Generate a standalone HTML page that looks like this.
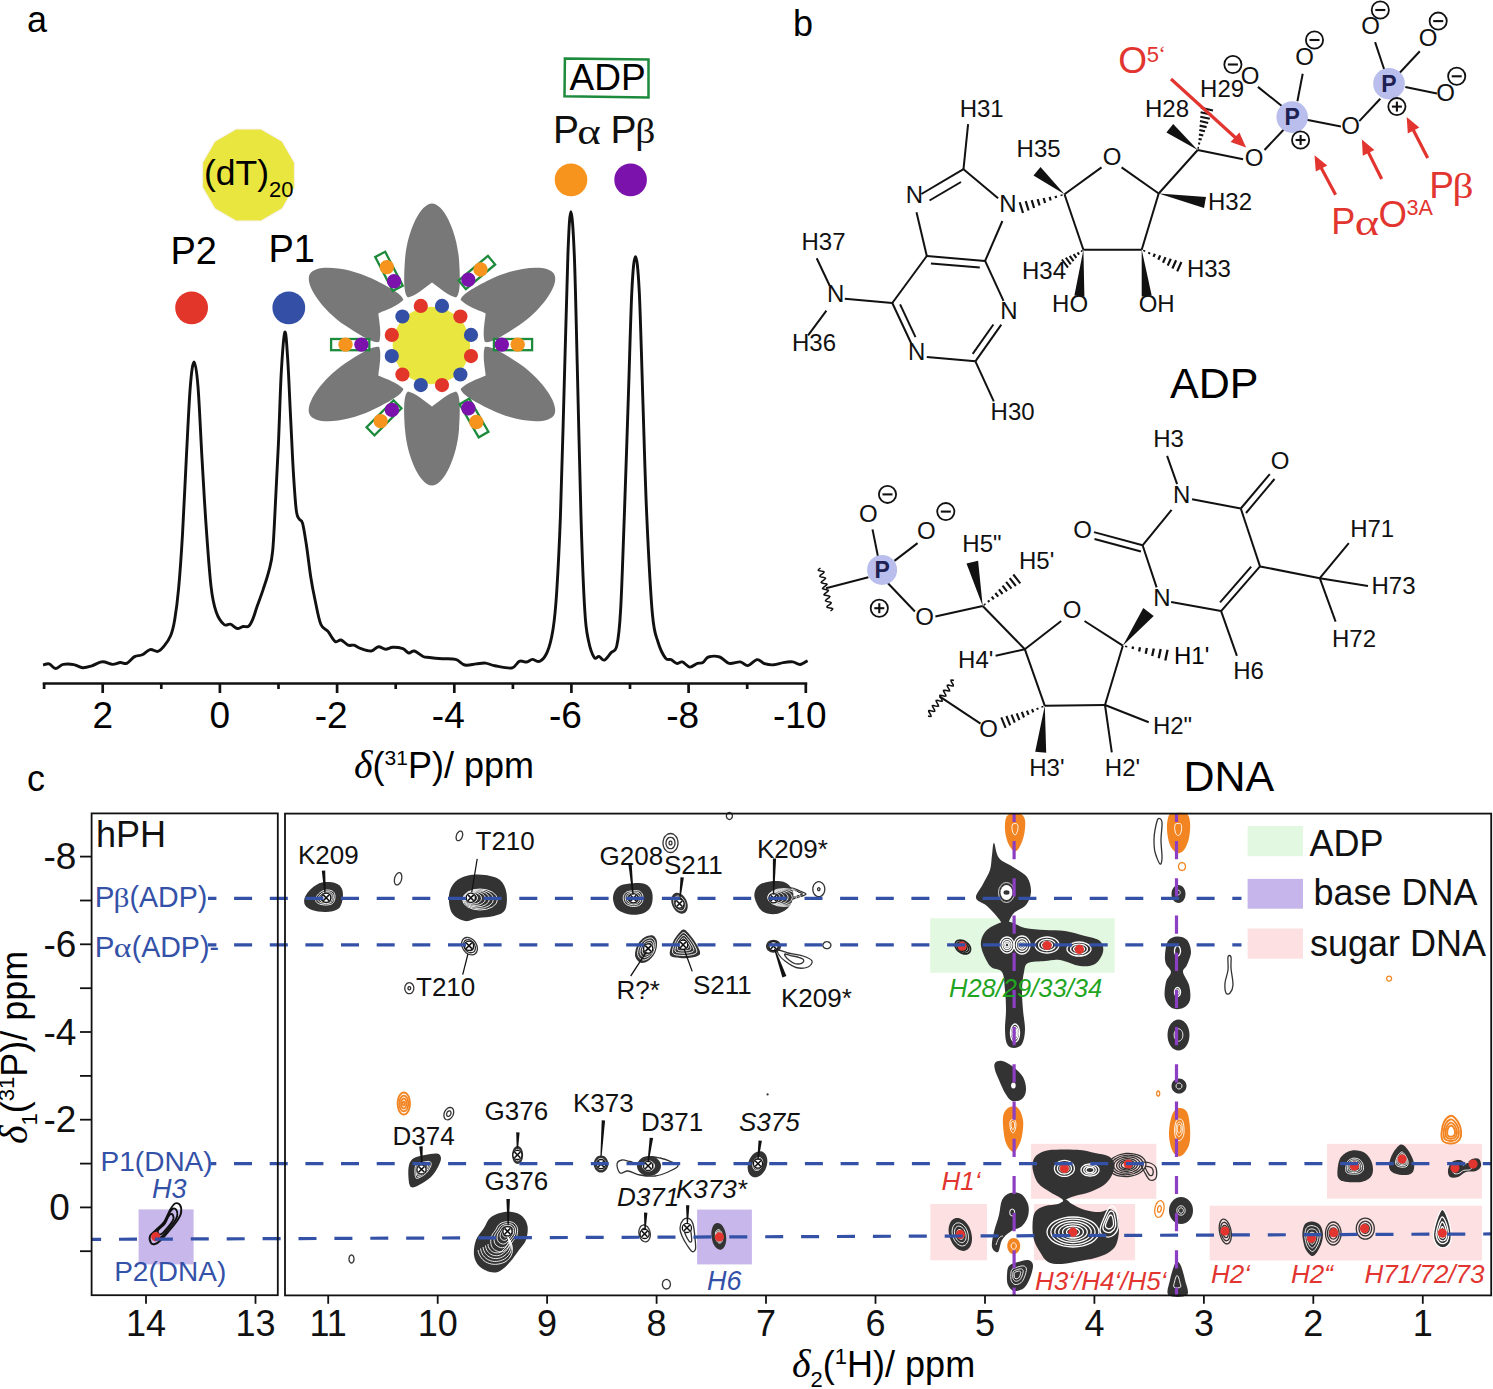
<!DOCTYPE html>
<html><head><meta charset="utf-8"><style>
html,body{margin:0;padding:0;background:#fff;width:1493px;height:1389px;overflow:hidden}
svg{display:block}

</style></head><body>
<svg width="1493" height="1389" viewBox="0 0 1493 1389">
<rect width="1493" height="1389" fill="#fff"/>
<text x="27" y="32" font-family="Liberation Sans" font-size="36">a</text>
<path d="M43.1,665.1 C44.1,664.9 47.0,663.2 49.1,663.8 C51.2,664.4 53.1,668.4 55.5,668.5 C57.9,668.6 60.3,665.0 63.3,664.4 C66.3,663.8 70.5,664.0 73.7,664.6 C76.9,665.2 79.7,667.5 82.7,667.7 C85.7,667.9 88.5,666.9 91.8,665.9 C95.0,664.9 98.8,662.0 102.2,661.8 C105.7,661.5 109.5,664.3 112.5,664.4 C115.5,664.5 117.9,662.7 120.3,662.5 C122.7,662.3 124.4,664.3 126.8,663.3 C129.2,662.3 132.0,658.0 134.6,656.6 C137.2,655.2 139.7,656.0 142.3,654.8 C144.9,653.6 147.5,650.2 150.1,649.6 C152.7,649.0 155.5,652.0 157.9,651.4 C160.3,650.8 162.2,648.4 164.4,645.7 C166.6,643.0 169.1,639.6 170.8,635.3 C172.5,631.0 173.4,627.6 174.7,619.8 C176.0,612.0 177.3,603.0 178.6,588.7 C179.9,574.5 181.2,556.3 182.5,534.3 C183.8,512.3 185.1,481.2 186.4,456.6 C187.7,432.0 189.0,402.4 190.3,386.6 C191.6,370.8 192.8,362.0 194.1,362.0 C195.4,362.0 196.7,370.8 198.0,386.6 C199.3,402.4 200.6,434.2 201.9,456.6 C203.2,479.1 204.3,499.7 205.8,521.3 C207.3,542.9 209.3,571.0 211.0,586.1 C212.7,601.2 214.0,605.6 216.2,612.0 C218.4,618.4 221.6,622.5 224.0,624.5 C226.4,626.5 228.2,623.5 230.4,624.2 C232.6,624.9 235.1,628.1 237.2,628.5 C239.3,628.9 241.1,626.9 243.0,626.5 C244.9,626.1 247.0,627.6 248.7,626.2 C250.4,624.9 251.7,621.9 253.1,618.4 C254.5,614.9 255.7,610.3 257.4,605.5 C259.1,600.7 261.2,595.4 263.1,589.6 C265.0,583.8 267.3,577.4 268.9,570.9 C270.5,564.4 271.6,562.2 272.7,550.7 C273.8,539.2 274.6,519.5 275.5,501.7 C276.4,483.9 277.4,465.7 278.4,444.1 C279.4,422.5 280.2,390.6 281.3,372.0 C282.4,353.4 283.8,334.7 284.8,332.3 C285.9,329.9 286.7,343.8 287.6,357.6 C288.6,371.4 289.5,396.1 290.5,415.3 C291.5,434.5 292.4,457.0 293.4,472.9 C294.4,488.8 295.3,502.7 296.3,510.4 C297.3,518.1 298.1,516.9 299.2,519.0 C300.2,521.1 301.4,519.0 302.6,523.3 C303.8,527.6 305.0,536.1 306.4,545.0 C307.8,553.9 309.3,567.6 310.7,576.7 C312.1,585.8 313.3,591.8 315.0,599.7 C316.7,607.6 318.6,618.9 320.8,624.2 C323.0,629.5 325.6,628.5 328.0,631.4 C330.4,634.3 333.0,640.1 335.2,641.5 C337.4,642.9 338.8,639.4 341.0,640.0 C343.2,640.6 346.1,644.3 348.2,645.2 C350.3,646.1 351.8,644.6 353.9,645.2 C356.0,645.8 358.2,647.7 361.1,648.7 C364.0,649.7 368.3,651.3 371.2,651.0 C374.1,650.7 376.0,647.0 378.4,646.7 C380.8,646.4 383.2,649.2 385.6,649.3 C388.0,649.4 389.9,647.4 392.8,647.3 C395.7,647.2 400.2,647.8 402.9,648.7 C405.5,649.7 406.8,652.6 408.7,653.0 C410.6,653.4 412.0,650.4 414.4,651.0 C416.8,651.6 420.6,655.4 423.1,656.5 C425.6,657.6 426.2,657.1 429.4,657.5 C432.6,657.9 438.1,658.4 442.5,658.7 C446.9,659.0 451.9,658.4 455.6,659.4 C459.3,660.4 461.5,664.2 464.9,665.0 C468.3,665.8 472.8,664.2 476.2,663.9 C479.6,663.6 482.4,662.8 485.5,663.1 C488.6,663.4 490.5,665.0 494.9,665.8 C499.3,666.6 507.7,668.8 511.8,668.0 C515.9,667.2 516.8,662.3 519.3,661.3 C521.8,660.3 524.5,662.3 526.7,662.0 C528.9,661.7 530.2,659.5 532.4,659.4 C534.6,659.3 537.4,662.5 539.9,661.3 C542.4,660.0 545.1,657.2 547.3,651.9 C549.5,646.6 551.4,639.4 553.0,629.4 C554.6,619.4 555.5,610.7 556.7,592.0 C557.9,573.3 559.1,551.3 560.4,517.0 C561.6,482.7 563.0,429.7 564.2,386.0 C565.5,342.3 566.8,283.9 567.9,254.9 C569.0,225.9 569.8,211.8 570.9,211.8 C572.0,211.8 573.2,229.0 574.3,254.9 C575.4,280.8 576.2,323.6 577.3,367.3 C578.4,411.0 579.8,476.4 581.0,517.0 C582.2,557.6 583.5,590.1 584.8,610.7 C586.0,631.3 586.9,632.9 588.5,640.7 C590.1,648.5 592.5,654.9 594.2,657.5 C596.0,660.1 597.3,656.0 599.0,656.4 C600.7,656.8 602.3,660.7 604.3,660.1 C606.3,659.5 608.9,655.1 611.0,652.7 C613.1,650.3 615.2,652.9 616.8,645.8 C618.4,638.7 619.4,631.7 620.6,610.2 C621.9,588.7 623.0,551.0 624.3,516.7 C625.5,482.4 626.9,441.9 628.1,404.5 C629.4,367.1 630.6,316.8 631.8,292.2 C633.0,267.6 634.2,256.7 635.5,256.7 C636.8,256.7 638.0,267.6 639.3,292.2 C640.5,316.8 641.8,367.1 643.0,404.5 C644.2,441.9 645.2,481.8 646.8,516.7 C648.4,551.6 650.5,593.1 652.4,614.0 C654.3,634.9 655.8,634.6 658.0,642.0 C660.2,649.4 663.3,655.2 665.5,658.1 C667.7,661.0 669.2,658.7 671.1,659.6 C673.0,660.5 674.8,663.0 676.7,663.4 C678.6,663.8 680.1,661.3 682.3,661.9 C684.5,662.5 687.3,666.9 689.8,667.1 C692.3,667.4 695.1,664.1 697.3,663.4 C699.5,662.6 701.0,663.7 702.9,662.6 C704.8,661.5 705.7,657.9 708.5,657.0 C711.3,656.1 716.3,655.9 719.7,657.0 C723.1,658.1 725.7,662.6 729.1,663.4 C732.5,664.2 737.2,661.5 740.3,661.9 C743.4,662.3 745.0,666.0 747.8,665.6 C750.6,665.2 754.3,659.9 757.1,659.6 C759.9,659.3 761.8,662.8 764.6,663.7 C767.4,664.6 770.9,665.0 774.0,664.8 C777.1,664.6 780.2,663.1 783.3,662.6 C786.4,662.1 789.9,661.6 792.7,661.9 C795.5,662.2 797.6,664.7 800.1,664.5 C802.6,664.3 806.4,661.3 807.6,660.7" fill="none" stroke="#111" stroke-width="2.9" stroke-linejoin="round"/>
<line x1="42.8" y1="683.5" x2="807.2" y2="683.5" stroke="#111" stroke-width="2.7"/>
<line x1="44.1" y1="683" x2="44.1" y2="689.0" stroke="#111" stroke-width="2.7"/>
<line x1="102.7" y1="683" x2="102.7" y2="693.0" stroke="#111" stroke-width="2.7"/>
<text x="102.7" y="728" font-family="Liberation Sans" font-size="37" text-anchor="middle">2</text>
<line x1="161.3" y1="683" x2="161.3" y2="689.0" stroke="#111" stroke-width="2.7"/>
<line x1="219.9" y1="683" x2="219.9" y2="693.0" stroke="#111" stroke-width="2.7"/>
<text x="219.9" y="728" font-family="Liberation Sans" font-size="37" text-anchor="middle">0</text>
<line x1="278.5" y1="683" x2="278.5" y2="689.0" stroke="#111" stroke-width="2.7"/>
<line x1="337.1" y1="683" x2="337.1" y2="693.0" stroke="#111" stroke-width="2.7"/>
<text x="331.1" y="728" font-family="Liberation Sans" font-size="37" text-anchor="middle">-2</text>
<line x1="395.7" y1="683" x2="395.7" y2="689.0" stroke="#111" stroke-width="2.7"/>
<line x1="454.3" y1="683" x2="454.3" y2="693.0" stroke="#111" stroke-width="2.7"/>
<text x="448.3" y="728" font-family="Liberation Sans" font-size="37" text-anchor="middle">-4</text>
<line x1="512.9" y1="683" x2="512.9" y2="689.0" stroke="#111" stroke-width="2.7"/>
<line x1="571.4" y1="683" x2="571.4" y2="693.0" stroke="#111" stroke-width="2.7"/>
<text x="565.4" y="728" font-family="Liberation Sans" font-size="37" text-anchor="middle">-6</text>
<line x1="630.0" y1="683" x2="630.0" y2="689.0" stroke="#111" stroke-width="2.7"/>
<line x1="688.6" y1="683" x2="688.6" y2="693.0" stroke="#111" stroke-width="2.7"/>
<text x="682.6" y="728" font-family="Liberation Sans" font-size="37" text-anchor="middle">-8</text>
<line x1="747.2" y1="683" x2="747.2" y2="689.0" stroke="#111" stroke-width="2.7"/>
<line x1="805.8" y1="683" x2="805.8" y2="693.0" stroke="#111" stroke-width="2.7"/>
<text x="799.8" y="728" font-family="Liberation Sans" font-size="37" text-anchor="middle">-10</text>
<text x="354" y="777.8" font-size="36" font-family="Liberation Sans"><tspan font-family="Liberation Serif" font-style="italic" font-size="40">δ</tspan>(<tspan font-size="21" dy="-13">31</tspan><tspan dy="13">P)/ ppm</tspan></text>
<text x="170.5" y="264" font-family="Liberation Sans" font-size="38">P2</text>
<text x="268.5" y="261.5" font-family="Liberation Sans" font-size="38">P1</text>
<circle cx="191.6" cy="307.8" r="16.4" fill="#E2362A"/>
<circle cx="288.8" cy="307.8" r="16.4" fill="#3450A6"/>
<polygon points="260.8,129.1 282.1,141.4 294.4,162.7 294.4,187.3 282.1,208.6 260.8,220.9 236.2,220.9 214.9,208.6 202.6,187.3 202.6,162.7 214.9,141.4 236.2,129.1" fill="#EAE640" stroke="#F6EFE6" stroke-width="1"/>
<text x="204" y="184.5" font-family="Liberation Sans" font-size="35.5">(dT)<tspan font-size="22" dy="12">20</tspan></text>
<polygon points="564.9,58.4 648.5,59.6 648.5,97.5 564.5,96.3" fill="none" stroke="#1D8A3C" stroke-width="2.5"/>
<text x="569.5" y="90.3" font-family="Liberation Sans" font-size="37">ADP</text>
<text x="553.10" y="142.80" font-family="Liberation Sans" font-size="39.00" fill="#111" >P</text>
<text transform="translate(577.29,143.64) scale(1.221,1)" font-family="Liberation Serif" font-size="36.76" fill="#111" >α</text>
<text x="610.60" y="142.80" font-family="Liberation Sans" font-size="39.00" fill="#111" >P</text>
<text transform="translate(635.15,143.25) scale(1.117,1)" font-family="Liberation Serif" font-size="35.44" fill="#111" >β</text>
<circle cx="571" cy="179.9" r="16.3" fill="#F7941D"/>
<circle cx="630.6" cy="179.9" r="16.3" fill="#7B12AB"/>
<g transform="translate(432,344.4)">
<path d="M0,-62 C-8,-56 -16,-49 -24,-47 C-29,-50 -28,-70 -27,-85 C-25,-112 -12,-141 0,-141 C12,-141 25,-112 27,-85 C28,-70 29,-50 24,-47 C16,-49 8,-56 0,-62Z" fill="#787878" transform="rotate(0)"/>
<path d="M0,-62 C-8,-56 -16,-49 -24,-47 C-29,-50 -28,-70 -27,-85 C-25,-112 -12,-141 0,-141 C12,-141 25,-112 27,-85 C28,-70 29,-50 24,-47 C16,-49 8,-56 0,-62Z" fill="#787878" transform="rotate(60)"/>
<path d="M0,-62 C-8,-56 -16,-49 -24,-47 C-29,-50 -28,-70 -27,-85 C-25,-112 -12,-141 0,-141 C12,-141 25,-112 27,-85 C28,-70 29,-50 24,-47 C16,-49 8,-56 0,-62Z" fill="#787878" transform="rotate(120)"/>
<path d="M0,-62 C-8,-56 -16,-49 -24,-47 C-29,-50 -28,-70 -27,-85 C-25,-112 -12,-141 0,-141 C12,-141 25,-112 27,-85 C28,-70 29,-50 24,-47 C16,-49 8,-56 0,-62Z" fill="#787878" transform="rotate(180)"/>
<path d="M0,-62 C-8,-56 -16,-49 -24,-47 C-29,-50 -28,-70 -27,-85 C-25,-112 -12,-141 0,-141 C12,-141 25,-112 27,-85 C28,-70 29,-50 24,-47 C16,-49 8,-56 0,-62Z" fill="#787878" transform="rotate(240)"/>
<path d="M0,-62 C-8,-56 -16,-49 -24,-47 C-29,-50 -28,-70 -27,-85 C-25,-112 -12,-141 0,-141 C12,-141 25,-112 27,-85 C28,-70 29,-50 24,-47 C16,-49 8,-56 0,-62Z" fill="#787878" transform="rotate(300)"/>
<circle cx="-0.6" cy="1.1" r="38.8" fill="#EAE640"/>
<circle cx="-11.2" cy="-38.5" r="7.1" fill="#E2362A"/>
<circle cx="10.0" cy="-38.5" r="7.1" fill="#3450A6"/>
<circle cx="28.4" cy="-27.9" r="7.1" fill="#E2362A"/>
<circle cx="39.0" cy="-9.5" r="7.1" fill="#3450A6"/>
<circle cx="39.0" cy="11.7" r="7.1" fill="#E2362A"/>
<circle cx="28.4" cy="30.1" r="7.1" fill="#3450A6"/>
<circle cx="10.0" cy="40.7" r="7.1" fill="#E2362A"/>
<circle cx="-11.2" cy="40.7" r="7.1" fill="#3450A6"/>
<circle cx="-29.6" cy="30.1" r="7.1" fill="#E2362A"/>
<circle cx="-40.2" cy="11.7" r="7.1" fill="#3450A6"/>
<circle cx="-40.2" cy="-9.5" r="7.1" fill="#E2362A"/>
<circle cx="-29.6" cy="-27.9" r="7.1" fill="#3450A6"/>
</g>
<g transform="translate(350.2,344.6) rotate(180)"><rect x="-19.1" y="-5.6" width="38.2" height="11.2" fill="none" stroke="#1D8A3C" stroke-width="2.3"/><circle cx="-11.2" cy="0" r="7.2" fill="#7B12AB"/><circle cx="4.7" cy="0" r="7.2" fill="#F7941D"/></g>
<g transform="translate(513,344.6) rotate(0)"><rect x="-19.1" y="-5.6" width="38.2" height="11.2" fill="none" stroke="#1D8A3C" stroke-width="2.3"/><circle cx="-11.2" cy="0" r="7.2" fill="#7B12AB"/><circle cx="4.7" cy="0" r="7.2" fill="#F7941D"/></g>
<g transform="translate(389,271.3) rotate(-117.4)"><rect x="-19.1" y="-5.6" width="38.2" height="11.2" fill="none" stroke="#1D8A3C" stroke-width="2.3"/><circle cx="-11.2" cy="0" r="7.2" fill="#7B12AB"/><circle cx="4.7" cy="0" r="7.2" fill="#F7941D"/></g>
<g transform="translate(476.9,272.5) rotate(-40)"><rect x="-19.1" y="-5.6" width="38.2" height="11.2" fill="none" stroke="#1D8A3C" stroke-width="2.3"/><circle cx="-11.2" cy="0" r="7.2" fill="#7B12AB"/><circle cx="4.7" cy="0" r="7.2" fill="#F7941D"/></g>
<g transform="translate(384,417.8) rotate(135)"><rect x="-19.1" y="-5.6" width="38.2" height="11.2" fill="none" stroke="#1D8A3C" stroke-width="2.3"/><circle cx="-11.2" cy="0" r="7.2" fill="#7B12AB"/><circle cx="4.7" cy="0" r="7.2" fill="#F7941D"/></g>
<g transform="translate(474,418) rotate(60)"><rect x="-19.1" y="-5.6" width="38.2" height="11.2" fill="none" stroke="#1D8A3C" stroke-width="2.3"/><circle cx="-11.2" cy="0" r="7.2" fill="#7B12AB"/><circle cx="4.7" cy="0" r="7.2" fill="#F7941D"/></g>
<text x="793" y="35.5" font-family="Liberation Sans" font-size="36">b</text>
<line x1="963.5" y1="169.2" x2="968.1" y2="124.2" stroke="#111" stroke-width="2.0"/>
<line x1="921.4" y1="194.0" x2="963.5" y2="169.2" stroke="#111" stroke-width="2.0"/>
<line x1="929.5" y1="200.5" x2="961.0" y2="182.0" stroke="#111" stroke-width="2.0"/>
<line x1="963.5" y1="169.2" x2="998.1" y2="198.3" stroke="#111" stroke-width="2.0"/>
<line x1="1002.4" y1="221.0" x2="985.1" y2="260.9" stroke="#111" stroke-width="2.0"/>
<line x1="985.1" y1="260.9" x2="926.8" y2="256.0" stroke="#111" stroke-width="2.0"/><line x1="979.8" y1="267.5" x2="930.9" y2="263.4" stroke="#111" stroke-width="2.0"/>
<line x1="926.8" y1="256.0" x2="916.5" y2="212.3" stroke="#111" stroke-width="2.0"/>
<line x1="926.8" y1="256.0" x2="892.3" y2="303.0" stroke="#111" stroke-width="2.0"/>
<line x1="892.3" y1="303.0" x2="844.8" y2="298.7" stroke="#111" stroke-width="2.0"/>
<line x1="829.7" y1="285.8" x2="816.7" y2="258.3" stroke="#111" stroke-width="2.0"/>
<line x1="826.4" y1="310.6" x2="808.1" y2="335.4" stroke="#111" stroke-width="2.0"/>
<line x1="892.3" y1="303.0" x2="911.5" y2="344.0" stroke="#111" stroke-width="2.0"/><line x1="900.1" y1="304.3" x2="915.5" y2="337.1" stroke="#111" stroke-width="2.0"/>
<line x1="926.8" y1="357.0" x2="975.4" y2="361.3" stroke="#111" stroke-width="2.0"/>
<line x1="975.4" y1="361.3" x2="1001.3" y2="324.6" stroke="#111" stroke-width="2.0"/><line x1="972.7" y1="353.9" x2="993.4" y2="324.5" stroke="#111" stroke-width="2.0"/>
<line x1="1003.5" y1="300.9" x2="985.1" y2="260.9" stroke="#111" stroke-width="2.0"/>
<line x1="975.4" y1="361.3" x2="993.8" y2="401.3" stroke="#111" stroke-width="2.0"/>
<path d="M1061.4,194.5L1061.8,195.9M1055.5,195.9L1056.2,198.0M1049.6,196.9L1050.7,200.5M1043.6,198.0L1045.1,203.0M1037.6,199.1L1039.6,205.5M1031.7,200.1L1034.1,208.0M1025.7,201.2L1028.6,210.5M1019.7,202.2L1023.0,213.0" stroke="#111" stroke-width="2.2" fill="none"/>
<polygon points="1064.5,194.3 1040.5,167.1 1033.5,175.5" fill="#111"/>
<line x1="1064.5" y1="194.3" x2="1101.5" y2="167.4" stroke="#111" stroke-width="2.0"/>
<line x1="1121.6" y1="167.4" x2="1158.7" y2="193.5" stroke="#111" stroke-width="2.0"/>
<line x1="1064.5" y1="194.3" x2="1083.4" y2="249.7" stroke="#111" stroke-width="2.0"/>
<line x1="1083.4" y1="249.7" x2="1141.7" y2="249.7" stroke="#111" stroke-width="2.0"/>
<line x1="1141.7" y1="249.7" x2="1158.7" y2="193.5" stroke="#111" stroke-width="2.0"/>
<path d="M1081.3,250.4L1082.2,251.6M1077.5,252.4L1079.2,254.6M1073.6,254.2L1076.4,257.8M1069.7,255.9L1073.6,261.1M1065.8,257.7L1070.8,264.3M1061.9,259.5L1068.0,267.6" stroke="#111" stroke-width="2.0" fill="none"/>
<polygon points="1083.4,249.7 1074.4,295.6 1084.4,296.4" fill="#111"/>
<polygon points="1141.7,249.7 1141.7,296.5 1151.7,295.5" fill="#111"/>
<path d="M1143.9,251.5L1144.5,250.1M1148.8,254.0L1149.6,252.2M1153.5,256.9L1154.9,253.8M1158.3,259.8L1160.2,255.4M1163.0,262.7L1165.5,257.1M1167.7,265.6L1170.8,258.7M1172.4,268.5L1176.1,260.3M1177.2,271.4L1181.4,262.0" stroke="#111" stroke-width="2.2" fill="none"/>
<polygon points="1158.7,193.5 1204.0,207.9 1206.0,197.1" fill="#111"/>
<line x1="1158.7" y1="193.5" x2="1197.7" y2="150.0" stroke="#111" stroke-width="2.0"/>
<polygon points="1197.7,150.0 1173.2,123.9 1166.4,132.5" fill="#111"/>
<path d="M1198.9,148.0L1197.5,147.7M1200.1,143.8L1198.2,143.3M1201.7,139.6L1198.6,138.9M1203.3,135.5L1198.9,134.4M1205.0,131.3L1199.3,130.0M1206.6,127.1L1199.6,125.6M1208.2,123.0L1200.0,121.1M1209.8,118.8L1200.3,116.7M1211.4,114.7L1200.6,112.2M1213.0,110.5L1201.0,107.8" stroke="#111" stroke-width="2.1" fill="none"/>
<line x1="1197.7" y1="150.0" x2="1243.1" y2="159.3" stroke="#111" stroke-width="2.0"/>
<line x1="1264.5" y1="150.0" x2="1284.3" y2="129.0" stroke="#111" stroke-width="2.0"/>
<line x1="1297.4" y1="101.3" x2="1302.7" y2="73.7" stroke="#111" stroke-width="2.0"/>
<line x1="1284.3" y1="108.0" x2="1257.9" y2="86.9" stroke="#111" stroke-width="2.0"/>
<line x1="1306.6" y1="119.8" x2="1340.9" y2="126.4" stroke="#111" stroke-width="2.0"/>
<line x1="1359.3" y1="121.1" x2="1380.3" y2="98.7" stroke="#111" stroke-width="2.0"/>
<line x1="1384.3" y1="69.8" x2="1375.1" y2="42.1" stroke="#111" stroke-width="2.0"/>
<line x1="1398.8" y1="73.7" x2="1419.8" y2="51.3" stroke="#111" stroke-width="2.0"/>
<line x1="1405.3" y1="86.9" x2="1436.9" y2="93.4" stroke="#111" stroke-width="2.0"/>
<circle cx="1292.2" cy="117.1" r="15.8" fill="#B9BEEC"/><text x="1292.2" y="125.1" font-family="Liberation Sans" font-weight="bold" font-size="23" text-anchor="middle" fill="#1E2152">P</text>
<circle cx="1389" cy="83.7" r="15.8" fill="#B9BEEC"/><text x="1389" y="91.7" font-family="Liberation Sans" font-weight="bold" font-size="23" text-anchor="middle" fill="#1E2152">P</text>
<circle cx="1300.6" cy="140" r="8.6" fill="none" stroke="#111" stroke-width="1.8"/><line x1="1295.6" y1="140.0" x2="1305.6" y2="140.0" stroke="#111" stroke-width="2.1"/><line x1="1300.6" y1="135.0" x2="1300.6" y2="145.0" stroke="#111" stroke-width="2.1"/>
<circle cx="1396.9" cy="106.6" r="8.6" fill="none" stroke="#111" stroke-width="1.8"/><line x1="1391.9" y1="106.6" x2="1401.9" y2="106.6" stroke="#111" stroke-width="2.1"/><line x1="1396.9" y1="101.6" x2="1396.9" y2="111.6" stroke="#111" stroke-width="2.1"/>
<text x="1304.6" y="64.5" font-family="Liberation Sans" font-size="24" text-anchor="middle" fill="#111" >O</text>
<text x="1250.0" y="84.2" font-family="Liberation Sans" font-size="24" text-anchor="middle" fill="#111" >O</text>
<text x="1350.7" y="134.0" font-family="Liberation Sans" font-size="24" text-anchor="middle" fill="#111" >O</text>
<text x="1370.5" y="34.2" font-family="Liberation Sans" font-size="24" text-anchor="middle" fill="#111" >O</text>
<text x="1428.1" y="46.0" font-family="Liberation Sans" font-size="24" text-anchor="middle" fill="#111" >O</text>
<text x="1445.5" y="101.3" font-family="Liberation Sans" font-size="24" text-anchor="middle" fill="#111" >O</text>
<text x="1254.0" y="165.5" font-family="Liberation Sans" font-size="24" text-anchor="middle" fill="#111" >O</text>
<text x="1112.1" y="165.3" font-family="Liberation Sans" font-size="24" text-anchor="middle" fill="#111" >O</text>
<circle cx="1314.5" cy="40" r="8.6" fill="none" stroke="#111" stroke-width="1.8"/><line x1="1309.5" y1="40.0" x2="1319.5" y2="40.0" stroke="#111" stroke-width="2.1"/>
<circle cx="1232.9" cy="64.5" r="8.6" fill="none" stroke="#111" stroke-width="1.8"/><line x1="1227.9" y1="64.5" x2="1237.9" y2="64.5" stroke="#111" stroke-width="2.1"/>
<circle cx="1380.3" cy="10" r="8.6" fill="none" stroke="#111" stroke-width="1.8"/><line x1="1375.3" y1="10.0" x2="1385.3" y2="10.0" stroke="#111" stroke-width="2.1"/>
<circle cx="1438.2" cy="21.1" r="8.6" fill="none" stroke="#111" stroke-width="1.8"/><line x1="1433.2" y1="21.1" x2="1443.2" y2="21.1" stroke="#111" stroke-width="2.1"/>
<circle cx="1456.7" cy="76.3" r="8.6" fill="none" stroke="#111" stroke-width="1.8"/><line x1="1451.7" y1="76.3" x2="1461.7" y2="76.3" stroke="#111" stroke-width="2.1"/>
<text x="981.7" y="117.0" font-family="Liberation Sans" font-size="24" text-anchor="middle" fill="#111" >H31</text>
<text x="914.4" y="203.3" font-family="Liberation Sans" font-size="24" text-anchor="middle" fill="#111" >N</text>
<text x="1007.8" y="211.9" font-family="Liberation Sans" font-size="24" text-anchor="middle" fill="#111" >N</text>
<text x="1009.0" y="318.8" font-family="Liberation Sans" font-size="24" text-anchor="middle" fill="#111" >N</text>
<text x="916.6" y="360.3" font-family="Liberation Sans" font-size="24" text-anchor="middle" fill="#111" >N</text>
<text x="835.6" y="302.4" font-family="Liberation Sans" font-size="24" text-anchor="middle" fill="#111" >N</text>
<text x="823.5" y="250.1" font-family="Liberation Sans" font-size="24" text-anchor="middle" fill="#111" >H37</text>
<text x="814.0" y="350.5" font-family="Liberation Sans" font-size="24" text-anchor="middle" fill="#111" >H36</text>
<text x="1012.6" y="419.6" font-family="Liberation Sans" font-size="24" text-anchor="middle" fill="#111" >H30</text>
<text x="1038.6" y="156.8" font-family="Liberation Sans" font-size="24" text-anchor="middle" fill="#111" >H35</text>
<text x="1044.0" y="278.9" font-family="Liberation Sans" font-size="24" text-anchor="middle" fill="#111" >H34</text>
<text x="1070.1" y="312.0" font-family="Liberation Sans" font-size="24" text-anchor="middle" fill="#111" >HO</text>
<text x="1156.7" y="312.0" font-family="Liberation Sans" font-size="24" text-anchor="middle" fill="#111" >OH</text>
<text x="1208.9" y="277.4" font-family="Liberation Sans" font-size="24" text-anchor="middle" fill="#111" >H33</text>
<text x="1230.0" y="210.1" font-family="Liberation Sans" font-size="24" text-anchor="middle" fill="#111" >H32</text>
<text x="1167.0" y="116.5" font-family="Liberation Sans" font-size="24" text-anchor="middle" fill="#111" >H28</text>
<text x="1222.1" y="97.4" font-family="Liberation Sans" font-size="24" text-anchor="middle" fill="#111" >H29</text>
<line x1="1171.0" y1="79.0" x2="1238.3" y2="140.3" stroke="#E23530" stroke-width="3.2"/><polygon points="1246.1,147.4 1230.6,142.1 1239.4,132.5" fill="#E23530"/>
<line x1="1335.6" y1="194.8" x2="1319.4" y2="164.6" stroke="#E23530" stroke-width="3.2"/><polygon points="1314.5,155.3 1327.3,165.5 1315.8,171.6" fill="#E23530"/>
<line x1="1381.7" y1="179.0" x2="1366.6" y2="148.9" stroke="#E23530" stroke-width="3.2"/><polygon points="1361.9,139.5 1374.4,150.0 1362.8,155.8" fill="#E23530"/>
<line x1="1427.7" y1="157.9" x2="1411.5" y2="126.4" stroke="#E23530" stroke-width="3.2"/><polygon points="1406.7,117.1 1419.3,127.5 1407.8,133.4" fill="#E23530"/>
<text x="1118.25" y="73.30" font-family="Liberation Sans" font-size="37.00" fill="#E23530" >O</text>
<text x="1146.82" y="61.60" font-family="Liberation Sans" font-size="22.00" fill="#E23530" >5</text>
<text x="1158.5" y="61" font-family="Liberation Serif" font-size="22" fill="#E23530">‘</text>
<text x="1331.15" y="234.00" font-family="Liberation Sans" font-size="36.00" fill="#E23530" >P</text>
<text transform="translate(1354.83,234.65) scale(1.306,1)" font-family="Liberation Serif" font-size="35.51" fill="#E23530" >α</text>
<text x="1378.47" y="227.10" font-family="Liberation Sans" font-size="36.60" fill="#E23530" >O</text>
<text x="1406.48" y="215.20" font-family="Liberation Sans" font-size="21.50" fill="#E23530" >3A</text>
<text x="1429.17" y="197.50" font-family="Liberation Sans" font-size="37.00" fill="#E23530" >P</text>
<text transform="translate(1452.54,197.79) scale(1.141,1)" font-family="Liberation Serif" font-size="36.21" fill="#E23530" >β</text>
<text x="1170" y="398.4" font-family="Liberation Sans" font-size="43">ADP</text>
<polyline points="820.5,568.0 818.9,569.2 818.3,570.1 819.2,570.7 821.2,571.1 823.2,571.4 824.1,572.0 823.5,573.0 821.9,574.1 820.3,575.3 819.8,576.3 820.7,576.9 822.6,577.2 824.6,577.6 825.5,578.2 825.0,579.1 823.4,580.3 821.7,581.5 821.2,582.4 822.1,583.0 824.1,583.4 826.0,583.7 827.0,584.3 826.4,585.2 824.8,586.4 823.2,587.6 822.6,588.6 823.5,589.1 825.5,589.5 827.5,589.9 828.4,590.4 827.8,591.4 826.2,592.6 824.6,593.8 824.0,594.7 825.0,595.3 826.9,595.6 828.9,596.0 829.8,596.6 829.3,597.5 827.6,598.7 826.0,599.9 825.5,600.8 826.4,601.4 828.4,601.8 830.3,602.1 831.2,602.7 830.7,603.7 829.1,604.9 827.5,606.0 826.9,607.0 827.8,607.6 829.8,607.9 831.8,608.3 832.7,608.9 832.1,609.8 830.5,611.0" fill="none" stroke="#111" stroke-width="1.5"/>
<line x1="826.0" y1="588.2" x2="868.4" y2="577.3" stroke="#111" stroke-width="2.0"/>
<line x1="878.0" y1="556.8" x2="872.5" y2="529.4" stroke="#111" stroke-width="2.0"/>
<line x1="894.4" y1="560.9" x2="917.6" y2="543.1" stroke="#111" stroke-width="2.0"/>
<line x1="887.5" y1="582.7" x2="914.9" y2="611.5" stroke="#111" stroke-width="2.0"/>
<circle cx="882.1" cy="569.9" r="15" fill="#B9BEEC"/><text x="882.1" y="577.9" font-family="Liberation Sans" font-weight="bold" font-size="23" text-anchor="middle" fill="#1E2152">P</text>
<circle cx="879.3" cy="608.2" r="8.6" fill="none" stroke="#111" stroke-width="1.8"/><line x1="874.3" y1="608.2" x2="884.3" y2="608.2" stroke="#111" stroke-width="2.1"/><line x1="879.3" y1="603.2" x2="879.3" y2="613.2" stroke="#111" stroke-width="2.1"/>
<circle cx="887.5" cy="494.4" r="8.6" fill="none" stroke="#111" stroke-width="1.8"/><line x1="882.5" y1="494.4" x2="892.5" y2="494.4" stroke="#111" stroke-width="2.1"/>
<circle cx="945.8" cy="511.6" r="8.6" fill="none" stroke="#111" stroke-width="1.8"/><line x1="940.8" y1="511.6" x2="950.8" y2="511.6" stroke="#111" stroke-width="2.1"/>
<line x1="935.4" y1="616.4" x2="982.7" y2="606.0" stroke="#111" stroke-width="2.0"/>
<polygon points="982.7,606.0 978.1,560.8 966.5,563.6" fill="#111"/>
<path d="M985.2,605.0L984.2,603.8M989.3,602.0L988.1,600.4M993.8,599.3L991.7,596.7M998.2,596.7L995.3,593.0M1002.6,594.0L998.9,589.3M1007.0,591.3L1002.5,585.6M1011.5,588.7L1006.1,581.9M1015.9,586.0L1009.7,578.2M1020.3,583.3L1013.3,574.5" stroke="#111" stroke-width="2.1" fill="none"/>
<line x1="982.7" y1="606.0" x2="1024.8" y2="649.2" stroke="#111" stroke-width="2.0"/>
<line x1="1024.8" y1="649.2" x2="995.6" y2="655.8" stroke="#111" stroke-width="2.0"/>
<line x1="1024.8" y1="649.2" x2="1061.2" y2="621.0" stroke="#111" stroke-width="2.0"/>
<line x1="1084.5" y1="621.0" x2="1122.8" y2="645.7" stroke="#111" stroke-width="2.0"/>
<line x1="1024.8" y1="649.2" x2="1044.8" y2="705.8" stroke="#111" stroke-width="2.0"/>
<line x1="1044.8" y1="705.8" x2="1105.0" y2="705.0" stroke="#111" stroke-width="2.0"/>
<line x1="1105.0" y1="705.0" x2="1122.8" y2="645.7" stroke="#111" stroke-width="2.0"/>
<line x1="1105.0" y1="705.0" x2="1148.7" y2="722.2" stroke="#111" stroke-width="2.0"/>
<line x1="1105.0" y1="705.0" x2="1111.8" y2="752.3" stroke="#111" stroke-width="2.0"/>
<polygon points="1044.8,705.8 1035.2,751.8 1046.2,752.8" fill="#111"/>
<path d="M1042.1,706.1L1042.6,707.5M1037.1,707.8L1037.9,709.7M1032.0,709.2L1033.3,712.3M1026.9,710.6L1028.6,714.9M1021.8,711.9L1024.0,717.5M1016.7,713.3L1019.4,720.1M1011.5,714.6L1014.8,722.7M1006.4,716.0L1010.2,725.3M1001.3,717.4L1005.6,727.9" stroke="#111" stroke-width="2.1" fill="none"/>
<line x1="980.5" y1="723.6" x2="939.5" y2="696.3" stroke="#111" stroke-width="2.0"/>
<polyline points="928.0,716.0 929.9,716.5 931.0,716.3 930.9,715.2 929.9,713.5 928.8,711.7 928.7,710.7 929.8,710.5 931.7,710.9 933.7,711.4 934.7,711.2 934.6,710.1 933.6,708.4 932.6,706.7 932.4,705.6 933.5,705.4 935.4,705.9 937.4,706.3 938.5,706.1 938.3,705.0 937.3,703.3 936.3,701.6 936.1,700.5 937.2,700.3 939.1,700.8 941.1,701.2 942.2,701.1 942.0,700.0 941.0,698.2 940.0,696.5 939.8,695.4 940.9,695.3 942.9,695.7 944.8,696.2 945.9,696.0 945.7,694.9 944.7,693.2 943.7,691.5 943.5,690.4 944.6,690.2 946.6,690.6 948.5,691.1 949.6,690.9 949.4,689.8 948.4,688.1 947.4,686.4 947.3,685.3 948.3,685.1 950.3,685.6 952.2,686.0 953.3,685.8 953.2,684.8 952.1,683.0 951.1,681.3 951.0,680.2 952.1,680.0 954.0,680.5" fill="none" stroke="#111" stroke-width="1.5"/>
<polygon points="1122.8,645.7 1153.7,615.9 1143.3,608.1" fill="#111"/>
<path d="M1126.0,647.2L1126.3,645.7M1132.6,649.1L1133.1,646.6M1139.1,651.4L1140.0,647.2M1145.7,653.7L1146.9,647.9M1152.2,656.0L1153.8,648.5M1158.7,658.3L1160.7,649.1M1165.3,660.6L1167.6,649.7" stroke="#111" stroke-width="2.3" fill="none"/>
<line x1="1156.6" y1="587.4" x2="1142.6" y2="545.3" stroke="#111" stroke-width="2.0"/>
<line x1="1142.6" y1="545.3" x2="1171.6" y2="509.8" stroke="#111" stroke-width="2.0"/>
<line x1="1142.6" y1="545.3" x2="1094.0" y2="532.1" stroke="#111" stroke-width="2.0"/>
<line x1="1141.0" y1="551.5" x2="1094.5" y2="539.0" stroke="#111" stroke-width="2.0"/>
<line x1="1167.1" y1="455.8" x2="1177.1" y2="484.2" stroke="#111" stroke-width="2.0"/>
<line x1="1192.1" y1="499.3" x2="1240.8" y2="508.5" stroke="#111" stroke-width="2.0"/>
<line x1="1240.8" y1="508.5" x2="1269.8" y2="474.2" stroke="#111" stroke-width="2.0"/>
<line x1="1246.0" y1="513.0" x2="1274.5" y2="479.0" stroke="#111" stroke-width="2.0"/>
<line x1="1240.8" y1="508.5" x2="1260.0" y2="566.4" stroke="#111" stroke-width="2.0"/>
<line x1="1260.0" y1="566.4" x2="1221.1" y2="611.1" stroke="#111" stroke-width="2.0"/><line x1="1251.2" y1="566.6" x2="1220.1" y2="602.4" stroke="#111" stroke-width="2.0"/>
<line x1="1221.1" y1="611.1" x2="1171.1" y2="601.9" stroke="#111" stroke-width="2.0"/>
<line x1="1221.1" y1="611.1" x2="1236.9" y2="655.9" stroke="#111" stroke-width="2.0"/>
<line x1="1260.0" y1="566.4" x2="1319.8" y2="578.2" stroke="#111" stroke-width="2.0"/>
<line x1="1319.8" y1="578.2" x2="1348.8" y2="543.2" stroke="#111" stroke-width="2.0"/>
<line x1="1319.8" y1="578.2" x2="1368.0" y2="586.1" stroke="#111" stroke-width="2.0"/>
<line x1="1319.8" y1="578.2" x2="1335.6" y2="621.7" stroke="#111" stroke-width="2.0"/>
<text x="868.4" y="521.5" font-family="Liberation Sans" font-size="24" text-anchor="middle" fill="#111" >O</text>
<text x="926.4" y="538.8" font-family="Liberation Sans" font-size="24" text-anchor="middle" fill="#111" >O</text>
<text x="924.5" y="624.5" font-family="Liberation Sans" font-size="24" text-anchor="middle" fill="#111" >O</text>
<text x="1072.2" y="618.0" font-family="Liberation Sans" font-size="24" text-anchor="middle" fill="#111" >O</text>
<text x="988.7" y="737.0" font-family="Liberation Sans" font-size="24" text-anchor="middle" fill="#111" >O</text>
<text x="1082.5" y="538.0" font-family="Liberation Sans" font-size="24" text-anchor="middle" fill="#111" >O</text>
<text x="1280.0" y="469.0" font-family="Liberation Sans" font-size="24" text-anchor="middle" fill="#111" >O</text>
<text x="981.9" y="551.8" font-family="Liberation Sans" font-size="24" text-anchor="middle" fill="#111" >H5"</text>
<text x="1036.6" y="569.0" font-family="Liberation Sans" font-size="24" text-anchor="middle" fill="#111" >H5'</text>
<text x="975.7" y="667.5" font-family="Liberation Sans" font-size="24" text-anchor="middle" fill="#111" >H4'</text>
<text x="1122.5" y="775.6" font-family="Liberation Sans" font-size="24" text-anchor="middle" fill="#111" >H2'</text>
<text x="1172.5" y="733.5" font-family="Liberation Sans" font-size="24" text-anchor="middle" fill="#111" >H2"</text>
<text x="1046.9" y="775.6" font-family="Liberation Sans" font-size="24" text-anchor="middle" fill="#111" >H3'</text>
<text x="1162.0" y="605.9" font-family="Liberation Sans" font-size="24" text-anchor="middle" fill="#111" >N</text>
<text x="1181.6" y="503.2" font-family="Liberation Sans" font-size="24" text-anchor="middle" fill="#111" >N</text>
<text x="1168.5" y="446.6" font-family="Liberation Sans" font-size="24" text-anchor="middle" fill="#111" >H3</text>
<text x="1372.2" y="536.9" font-family="Liberation Sans" font-size="24" text-anchor="middle" fill="#111" >H71</text>
<text x="1393.5" y="594.0" font-family="Liberation Sans" font-size="24" text-anchor="middle" fill="#111" >H73</text>
<text x="1354.0" y="647.4" font-family="Liberation Sans" font-size="24" text-anchor="middle" fill="#111" >H72</text>
<text x="1248.5" y="678.8" font-family="Liberation Sans" font-size="24" text-anchor="middle" fill="#111" >H6</text>
<text x="1174" y="663.8" font-family="Liberation Sans" font-size="24">H1'</text>
<text x="1183.5" y="790.7" font-family="Liberation Sans" font-size="43">DNA</text>
<text x="27" y="790.6" font-family="Liberation Sans" font-size="36">c</text>
<rect x="138.6" y="1209.4" width="55" height="55" fill="#C7B7EB"/>
<rect x="697.1" y="1209.6" width="54.8" height="54.8" fill="#C7B7EB"/>
<rect x="930.2" y="918.2" width="184.5" height="54.6" fill="#E3F8E1"/>
<rect x="930.3" y="1204" width="56.7" height="56.3" fill="#FDE1E2"/>
<rect x="1031" y="1143.8" width="125.3" height="55.0" fill="#FDE1E2"/>
<rect x="1034" y="1204" width="101.1" height="56.3" fill="#FDE1E2"/>
<rect x="1209.7" y="1205.7" width="272.2" height="54.8" fill="#FDE1E2"/>
<rect x="1327" y="1143.8" width="154.9" height="54.8" fill="#FDE1E2"/>
<rect x="1247.6" y="826" width="55.4" height="30.2" fill="#E3F8E1"/>
<rect x="1247.6" y="878.9" width="55.4" height="29.8" fill="#C6B5EA"/>
<rect x="1247.6" y="928.5" width="55.4" height="30.2" fill="#FDE1E2"/>
<text x="1309.5" y="855.7" font-family="Liberation Sans" font-size="36" fill="#111" text-anchor="start" >ADP</text>
<text x="1313.5" y="904.8" font-family="Liberation Sans" font-size="36" fill="#111" text-anchor="start" >base DNA</text>
<text x="1310" y="955.7" font-family="Liberation Sans" font-size="36" fill="#111" text-anchor="start" >sugar DNA</text>
<path d="M305.0,897.0 C306.2,894.2 309.2,890.4 312.0,888.0 C314.8,885.6 318.2,883.3 322.0,882.5 C325.8,881.7 331.7,881.9 335.0,883.0 C338.3,884.1 340.8,886.2 342.0,889.0 C343.2,891.8 343.2,896.7 342.5,900.0 C341.8,903.3 340.8,907.0 338.0,909.0 C335.2,911.0 330.3,911.8 326.0,912.0 C321.7,912.2 315.5,911.2 312.0,910.0 C308.5,908.8 306.2,907.2 305.0,905.0 C303.8,902.8 303.8,899.8 305.0,897.0Z" fill="#333333"/><path d="M316.0,897.5 C316.6,896.1 318.1,894.2 319.5,893.0 C320.9,891.8 322.6,890.7 324.5,890.2 C326.4,889.8 329.3,890.0 331.0,890.5 C332.7,891.0 333.9,892.1 334.5,893.5 C335.1,894.9 335.1,897.3 334.8,899.0 C334.4,900.7 333.9,902.5 332.5,903.5 C331.1,904.5 328.7,904.9 326.5,905.0 C324.3,905.1 321.2,904.6 319.5,904.0 C317.8,903.4 316.6,902.6 316.0,901.5 C315.4,900.4 315.4,898.9 316.0,897.5Z" fill="none" stroke="#fff" stroke-width="0.9"/><path d="M318.2,897.6 C318.7,896.5 319.9,895.0 321.0,894.0 C322.1,893.0 323.5,892.1 325.0,891.8 C326.5,891.5 328.9,891.6 330.2,892.0 C331.5,892.4 332.5,893.3 333.0,894.4 C333.5,895.5 333.5,897.5 333.2,898.8 C332.9,900.1 332.5,901.6 331.4,902.4 C330.3,903.2 328.3,903.5 326.6,903.6 C324.9,903.7 322.4,903.3 321.0,902.8 C319.6,902.3 318.7,901.7 318.2,900.8 C317.7,899.9 317.7,898.7 318.2,897.6Z" fill="none" stroke="#fff" stroke-width="0.9"/><path d="M320.2,897.7 C320.5,896.8 321.5,895.6 322.4,894.9 C323.2,894.2 324.3,893.5 325.4,893.2 C326.6,892.9 328.4,893.0 329.5,893.4 C330.5,893.7 331.3,894.3 331.6,895.2 C332.0,896.1 332.0,897.6 331.8,898.6 C331.6,899.7 331.3,900.8 330.4,901.4 C329.6,902.0 328.0,902.3 326.7,902.3 C325.3,902.4 323.4,902.1 322.4,901.7 C321.3,901.4 320.5,900.8 320.2,900.2 C319.8,899.5 319.8,898.6 320.2,897.7Z" fill="none" stroke="#fff" stroke-width="0.9"/><path d="M322.2,897.8 C322.4,897.2 323.1,896.3 323.7,895.8 C324.3,895.3 325.1,894.8 325.9,894.6 C326.7,894.4 328.0,894.5 328.8,894.7 C329.5,894.9 330.0,895.4 330.3,896.0 C330.6,896.6 330.6,897.7 330.4,898.4 C330.3,899.2 330.0,900.0 329.4,900.4 C328.8,900.9 327.7,901.0 326.8,901.1 C325.8,901.1 324.5,900.9 323.7,900.6 C322.9,900.4 322.4,900.0 322.2,899.5 C321.9,899.1 321.9,898.4 322.2,897.8Z" fill="none" stroke="#fff" stroke-width="0.9"/><path d="M323.9,897.9 C324.1,897.5 324.5,896.9 324.9,896.6 C325.3,896.3 325.8,895.9 326.3,895.8 C326.8,895.7 327.7,895.7 328.1,895.9 C328.6,896.1 328.9,896.3 329.1,896.7 C329.3,897.1 329.3,897.8 329.2,898.3 C329.1,898.7 328.9,899.3 328.5,899.5 C328.2,899.8 327.5,899.9 326.9,900.0 C326.3,900.0 325.4,899.8 324.9,899.7 C324.4,899.5 324.1,899.3 323.9,899.0 C323.8,898.7 323.8,898.3 323.9,897.9Z" fill="none" stroke="#fff" stroke-width="0.9"/>
<path d="M449.0,895.0 C449.5,889.8 451.8,885.2 455.0,882.0 C458.2,878.8 463.0,876.7 468.0,875.5 C473.0,874.3 479.7,874.2 485.0,875.0 C490.3,875.8 496.4,877.0 500.0,880.0 C503.6,883.0 505.7,888.0 506.5,893.0 C507.3,898.0 507.1,906.2 505.0,910.0 C502.9,913.8 498.5,914.7 494.0,916.0 C489.5,917.3 482.8,917.2 478.0,918.0 C473.2,918.8 469.3,921.8 465.0,921.0 C460.7,920.2 454.7,917.3 452.0,913.0 C449.3,908.7 448.5,900.2 449.0,895.0Z" fill="#333333"/>
<ellipse cx="472.0" cy="898.0" rx="5.5" ry="4.5" fill="none" stroke="#fff" stroke-width="0.9"/>
<ellipse cx="473.6" cy="898.3" rx="7.9" ry="5.7" fill="none" stroke="#fff" stroke-width="0.9"/>
<ellipse cx="475.2" cy="898.6" rx="10.3" ry="6.9" fill="none" stroke="#fff" stroke-width="0.9"/>
<ellipse cx="476.8" cy="898.9" rx="12.7" ry="8.1" fill="none" stroke="#fff" stroke-width="0.9"/>
<ellipse cx="478.4" cy="899.2" rx="15.1" ry="9.3" fill="none" stroke="#fff" stroke-width="0.9"/>
<ellipse cx="480.0" cy="899.5" rx="17.5" ry="10.5" fill="none" stroke="#fff" stroke-width="0.9"/>
<path d="M613.0,897.0 C613.2,893.3 615.2,889.2 618.0,887.0 C620.8,884.8 625.5,884.0 630.0,883.5 C634.5,883.0 641.3,882.6 645.0,884.0 C648.7,885.4 650.9,888.5 652.0,892.0 C653.1,895.5 652.8,901.5 651.5,905.0 C650.2,908.5 647.6,911.4 644.0,913.0 C640.4,914.6 634.5,915.2 630.0,914.5 C625.5,913.8 619.8,911.9 617.0,909.0 C614.2,906.1 612.8,900.7 613.0,897.0Z" fill="#333333"/><path d="M623.2,897.6 C623.3,895.8 624.3,893.7 625.7,892.6 C627.1,891.5 629.5,891.1 631.7,890.9 C634.0,890.6 637.4,890.4 639.2,891.1 C641.0,891.8 642.2,893.4 642.7,895.1 C643.2,896.9 643.1,899.9 642.5,901.6 C641.8,903.4 640.5,904.8 638.7,905.6 C636.9,906.4 634.0,906.7 631.7,906.4 C629.5,906.0 626.6,905.1 625.2,903.6 C623.8,902.1 623.1,899.4 623.2,897.6Z" fill="none" stroke="#fff" stroke-width="0.9"/><path d="M625.2,897.7 C625.3,896.3 626.1,894.6 627.2,893.7 C628.4,892.8 630.2,892.5 632.0,892.3 C633.8,892.1 636.6,892.0 638.0,892.5 C639.5,893.1 640.4,894.3 640.8,895.7 C641.3,897.1 641.2,899.5 640.6,900.9 C640.1,902.3 639.1,903.5 637.6,904.1 C636.2,904.8 633.8,905.0 632.0,904.7 C630.2,904.5 628.0,903.7 626.8,902.5 C625.7,901.4 625.2,899.2 625.2,897.7Z" fill="none" stroke="#fff" stroke-width="0.9"/><path d="M627.1,897.8 C627.1,896.7 627.7,895.4 628.6,894.7 C629.5,894.0 631.0,893.8 632.3,893.6 C633.7,893.5 635.9,893.4 637.0,893.8 C638.1,894.2 638.8,895.2 639.2,896.3 C639.5,897.4 639.4,899.2 639.0,900.3 C638.6,901.4 637.8,902.3 636.7,902.8 C635.6,903.3 633.7,903.5 632.3,903.3 C631.0,903.0 629.2,902.5 628.3,901.5 C627.4,900.6 627.0,899.0 627.1,897.8Z" fill="none" stroke="#fff" stroke-width="0.9"/><path d="M628.9,897.9 C628.9,897.1 629.4,896.2 630.0,895.7 C630.6,895.2 631.7,895.1 632.7,895.0 C633.6,894.9 635.1,894.8 636.0,895.1 C636.8,895.4 637.3,896.1 637.5,896.8 C637.7,897.6 637.7,898.9 637.4,899.7 C637.1,900.5 636.5,901.1 635.7,901.5 C634.9,901.8 633.6,901.9 632.7,901.8 C631.7,901.6 630.4,901.2 629.8,900.6 C629.2,899.9 628.9,898.7 628.9,897.9Z" fill="none" stroke="#fff" stroke-width="0.9"/><path d="M630.5,898.0 C630.6,897.5 630.8,896.9 631.2,896.6 C631.6,896.3 632.3,896.2 632.9,896.1 C633.6,896.1 634.5,896.0 635.0,896.2 C635.5,896.4 635.9,896.8 636.0,897.3 C636.2,897.8 636.1,898.7 635.9,899.2 C635.7,899.6 635.4,900.1 634.9,900.3 C634.4,900.5 633.6,900.6 632.9,900.5 C632.3,900.4 631.5,900.1 631.1,899.7 C630.7,899.3 630.5,898.5 630.5,898.0Z" fill="none" stroke="#fff" stroke-width="0.9"/>
<path d="M686.3,900.1 C686.9,901.4 687.3,902.9 687.6,904.2 C687.8,905.5 687.8,906.9 687.6,908.1 C687.4,909.3 687.0,910.4 686.4,911.3 C685.8,912.2 685.0,912.9 684.1,913.3 C683.3,913.7 682.2,913.8 681.2,913.7 C680.2,913.6 679.0,913.2 678.0,912.6 C676.9,912.0 675.9,911.1 675.0,910.0 C674.1,909.0 673.3,907.7 672.7,906.5 C672.1,905.2 671.7,903.7 671.4,902.4 C671.2,901.1 671.2,899.7 671.4,898.5 C671.6,897.3 672.0,896.2 672.6,895.3 C673.2,894.4 674.0,893.7 674.9,893.3 C675.7,892.9 676.8,892.8 677.8,892.9 C678.8,893.0 680.0,893.4 681.0,894.0 C682.1,894.6 683.1,895.5 684.0,896.6 C684.9,897.6 685.7,898.9 686.3,900.1Z" fill="#333333"/><path d="M684.3,901.2 C684.7,902.1 685.0,903.1 685.1,904.0 C685.3,904.9 685.3,905.9 685.2,906.8 C685.0,907.6 684.7,908.4 684.3,909.0 C683.9,909.6 683.4,910.1 682.8,910.4 C682.1,910.7 681.4,910.8 680.7,910.7 C680.0,910.6 679.2,910.3 678.4,909.9 C677.7,909.5 677.0,908.8 676.3,908.1 C675.7,907.4 675.2,906.5 674.7,905.6 C674.3,904.7 674.0,903.7 673.9,902.8 C673.7,901.8 673.7,900.9 673.8,900.0 C674.0,899.2 674.3,898.4 674.7,897.8 C675.1,897.2 675.6,896.7 676.2,896.4 C676.9,896.1 677.6,896.0 678.3,896.1 C679.0,896.2 679.8,896.5 680.6,896.9 C681.3,897.3 682.0,898.0 682.7,898.7 C683.3,899.4 683.8,900.3 684.3,901.2Z" fill="none" stroke="#fff" stroke-width="0.9"/><path d="M682.6,902.0 C682.8,902.6 683.0,903.3 683.1,903.9 C683.2,904.5 683.2,905.1 683.1,905.6 C683.1,906.2 682.9,906.7 682.6,907.1 C682.3,907.5 682.0,907.8 681.6,908.0 C681.2,908.1 680.7,908.2 680.3,908.2 C679.8,908.1 679.3,907.9 678.8,907.6 C678.4,907.4 677.9,907.0 677.5,906.5 C677.1,906.0 676.7,905.5 676.4,904.9 C676.2,904.3 676.0,903.7 675.9,903.1 C675.8,902.5 675.8,901.8 675.9,901.3 C675.9,900.8 676.1,900.3 676.4,899.9 C676.7,899.5 677.0,899.2 677.4,899.0 C677.8,898.8 678.3,898.7 678.7,898.8 C679.2,898.8 679.7,899.0 680.2,899.3 C680.6,899.6 681.1,900.0 681.5,900.4 C681.9,900.9 682.3,901.5 682.6,902.0Z" fill="none" stroke="#fff" stroke-width="0.9"/>
<path d="M790.0,888.0 C791.7,886.7 797.3,890.0 800.0,891.0 C802.7,892.0 806.2,893.0 806.0,894.0 C805.8,895.0 801.7,896.2 799.0,897.0 C796.3,897.8 791.5,900.5 790.0,899.0 C788.5,897.5 788.3,889.3 790.0,888.0Z" fill="none" stroke="#333333" stroke-width="1.3"/><path d="M792.8,890.3 C793.8,889.5 797.2,891.5 798.8,892.1 C800.4,892.7 802.5,893.3 802.4,893.9 C802.3,894.5 799.8,895.2 798.2,895.7 C796.6,896.2 793.7,897.8 792.8,896.9 C791.9,896.0 791.8,891.1 792.8,890.3Z" fill="none" stroke="#333333" stroke-width="1.3"/>
<path d="M754.5,897.0 C753.8,892.8 755.4,888.6 758.0,886.0 C760.6,883.4 765.7,882.2 770.0,881.5 C774.3,880.8 780.3,880.8 784.0,882.0 C787.7,883.2 790.5,886.3 792.0,889.0 C793.5,891.7 793.7,894.8 793.0,898.0 C792.3,901.2 790.8,905.3 788.0,908.0 C785.2,910.7 780.3,913.5 776.0,914.0 C771.7,914.5 765.6,913.8 762.0,911.0 C758.4,908.2 755.2,901.2 754.5,897.0Z" fill="#333333"/>
<ellipse cx="775.0" cy="897.5" rx="5.0" ry="4.5" fill="none" stroke="#fff" stroke-width="0.8"/>
<ellipse cx="776.8" cy="897.5" rx="7.3" ry="5.4" fill="none" stroke="#fff" stroke-width="0.8"/>
<ellipse cx="778.6" cy="897.5" rx="9.6" ry="6.3" fill="none" stroke="#fff" stroke-width="0.8"/>
<ellipse cx="780.4" cy="897.5" rx="11.9" ry="7.2" fill="none" stroke="#fff" stroke-width="0.8"/>
<ellipse cx="782.2" cy="897.5" rx="14.2" ry="8.1" fill="none" stroke="#fff" stroke-width="0.8"/>
<ellipse cx="784.0" cy="897.5" rx="16.5" ry="9.0" fill="none" stroke="#fff" stroke-width="0.8"/>
<path d="M824.8,889.2 C824.8,890.2 824.6,891.2 824.3,892.1 C824.1,893.0 823.6,893.8 823.0,894.5 C822.5,895.2 821.8,895.8 821.1,896.1 C820.4,896.5 819.6,896.7 818.8,896.7 C818.0,896.7 817.2,896.5 816.5,896.1 C815.8,895.8 815.1,895.2 814.6,894.5 C814.0,893.8 813.5,893.0 813.3,892.1 C813.0,891.2 812.8,890.2 812.8,889.2 C812.8,888.2 813.0,887.2 813.3,886.3 C813.5,885.4 814.0,884.6 814.6,883.9 C815.1,883.2 815.8,882.6 816.5,882.3 C817.2,881.9 818.0,881.7 818.8,881.7 C819.6,881.7 820.4,881.9 821.1,882.3 C821.8,882.6 822.5,883.2 823.0,883.9 C823.6,884.6 824.1,885.4 824.3,886.3 C824.6,887.2 824.8,888.2 824.8,889.2Z" fill="none" stroke="#333" stroke-width="1.3"/><path d="M820.0,889.2 C820.0,889.4 820.0,889.6 819.9,889.8 C819.9,890.0 819.8,890.1 819.6,890.3 C819.5,890.4 819.4,890.5 819.3,890.6 C819.1,890.7 819.0,890.7 818.8,890.7 C818.6,890.7 818.5,890.7 818.3,890.6 C818.2,890.5 818.1,890.4 818.0,890.3 C817.8,890.1 817.7,890.0 817.7,889.8 C817.6,889.6 817.6,889.4 817.6,889.2 C817.6,889.0 817.6,888.8 817.7,888.6 C817.7,888.4 817.8,888.3 818.0,888.1 C818.1,888.0 818.2,887.9 818.3,887.8 C818.5,887.7 818.6,887.7 818.8,887.7 C819.0,887.7 819.1,887.7 819.3,887.8 C819.4,887.9 819.5,888.0 819.6,888.1 C819.8,888.3 819.9,888.4 819.9,888.6 C820.0,888.8 820.0,889.0 820.0,889.2Z" fill="none" stroke="#333" stroke-width="1.3"/>
<path d="M401.5,879.7 C401.3,880.5 401.0,881.3 400.6,882.0 C400.2,882.6 399.8,883.3 399.3,883.7 C398.9,884.2 398.4,884.6 397.9,884.8 C397.4,885.0 396.9,885.0 396.5,884.9 C396.0,884.8 395.6,884.5 395.3,884.1 C395.0,883.7 394.7,883.1 394.6,882.5 C394.4,881.8 394.3,881.1 394.4,880.3 C394.4,879.5 394.5,878.7 394.7,877.9 C394.9,877.1 395.2,876.3 395.6,875.6 C396.0,875.0 396.4,874.3 396.9,873.9 C397.3,873.4 397.8,873.0 398.3,872.8 C398.8,872.6 399.3,872.6 399.7,872.7 C400.2,872.8 400.6,873.1 400.9,873.5 C401.2,873.9 401.5,874.5 401.6,875.1 C401.8,875.8 401.9,876.5 401.8,877.3 C401.8,878.1 401.7,878.9 401.5,879.7Z" fill="none" stroke="#333333" stroke-width="1.3"/>
<path d="M462.2,836.9 C462.0,837.5 461.7,838.1 461.4,838.6 C461.0,839.1 460.6,839.6 460.2,839.9 C459.8,840.3 459.3,840.5 458.9,840.6 C458.5,840.7 458.0,840.7 457.7,840.6 C457.3,840.5 457.0,840.2 456.7,839.8 C456.5,839.5 456.3,839.0 456.2,838.5 C456.1,838.0 456.1,837.4 456.1,836.8 C456.2,836.1 456.4,835.5 456.6,834.9 C456.8,834.3 457.1,833.7 457.4,833.2 C457.8,832.7 458.2,832.2 458.6,831.9 C459.0,831.5 459.5,831.3 459.9,831.2 C460.3,831.1 460.8,831.1 461.1,831.2 C461.5,831.3 461.8,831.6 462.1,832.0 C462.3,832.3 462.5,832.8 462.6,833.3 C462.7,833.8 462.7,834.4 462.7,835.0 C462.6,835.7 462.4,836.3 462.2,836.9Z" fill="none" stroke="#333333" stroke-width="1.3"/>
<path d="M678.0,843.0 C678.0,844.2 677.8,845.5 677.4,846.6 C677.1,847.8 676.5,848.9 675.8,849.7 C675.1,850.6 674.3,851.3 673.4,851.8 C672.5,852.2 671.5,852.5 670.5,852.5 C669.5,852.5 668.5,852.2 667.6,851.8 C666.7,851.3 665.9,850.6 665.2,849.7 C664.5,848.9 663.9,847.8 663.6,846.6 C663.2,845.5 663.0,844.2 663.0,843.0 C663.0,841.8 663.2,840.5 663.6,839.4 C663.9,838.2 664.5,837.1 665.2,836.3 C665.9,835.4 666.7,834.7 667.6,834.2 C668.5,833.8 669.5,833.5 670.5,833.5 C671.5,833.5 672.5,833.8 673.4,834.2 C674.3,834.7 675.1,835.4 675.8,836.3 C676.5,837.1 677.1,838.2 677.4,839.4 C677.8,840.5 678.0,841.8 678.0,843.0Z" fill="none" stroke="#333333" stroke-width="1.3"/><path d="M675.0,843.0 C675.0,843.7 674.9,844.5 674.7,845.2 C674.4,845.9 674.1,846.5 673.7,847.0 C673.3,847.5 672.8,848.0 672.2,848.3 C671.7,848.5 671.1,848.7 670.5,848.7 C669.9,848.7 669.3,848.5 668.8,848.3 C668.2,848.0 667.7,847.5 667.3,847.0 C666.9,846.5 666.6,845.9 666.3,845.2 C666.1,844.5 666.0,843.7 666.0,843.0 C666.0,842.3 666.1,841.5 666.3,840.8 C666.6,840.1 666.9,839.5 667.3,839.0 C667.7,838.5 668.2,838.0 668.8,837.7 C669.3,837.5 669.9,837.3 670.5,837.3 C671.1,837.3 671.7,837.5 672.2,837.7 C672.8,838.0 673.3,838.5 673.7,839.0 C674.1,839.5 674.4,840.1 674.7,840.8 C674.9,841.5 675.0,842.3 675.0,843.0Z" fill="none" stroke="#333333" stroke-width="1.3"/><path d="M672.0,843.0 C672.0,843.2 672.0,843.5 671.9,843.7 C671.8,844.0 671.7,844.2 671.6,844.3 C671.4,844.5 671.3,844.7 671.1,844.8 C670.9,844.8 670.7,844.9 670.5,844.9 C670.3,844.9 670.1,844.8 669.9,844.8 C669.7,844.7 669.6,844.5 669.4,844.3 C669.3,844.2 669.2,844.0 669.1,843.7 C669.0,843.5 669.0,843.2 669.0,843.0 C669.0,842.8 669.0,842.5 669.1,842.3 C669.2,842.0 669.3,841.8 669.4,841.7 C669.6,841.5 669.7,841.3 669.9,841.2 C670.1,841.2 670.3,841.1 670.5,841.1 C670.7,841.1 670.9,841.2 671.1,841.2 C671.3,841.3 671.4,841.5 671.6,841.7 C671.7,841.8 671.8,842.0 671.9,842.3 C672.0,842.5 672.0,842.8 672.0,843.0Z" fill="none" stroke="#333333" stroke-width="1.3"/>
<path d="M732.4,816.0 C732.4,816.4 732.3,816.9 732.2,817.3 C732.0,817.8 731.8,818.2 731.5,818.5 C731.3,818.8 730.9,819.1 730.5,819.2 C730.2,819.4 729.8,819.5 729.4,819.5 C729.0,819.5 728.6,819.4 728.3,819.2 C727.9,819.1 727.5,818.8 727.3,818.5 C727.0,818.2 726.8,817.8 726.6,817.3 C726.5,816.9 726.4,816.4 726.4,816.0 C726.4,815.6 726.5,815.1 726.6,814.7 C726.8,814.2 727.0,813.8 727.3,813.5 C727.5,813.2 727.9,812.9 728.3,812.8 C728.6,812.6 729.0,812.5 729.4,812.5 C729.8,812.5 730.2,812.6 730.5,812.8 C730.9,812.9 731.3,813.2 731.5,813.5 C731.8,813.8 732.0,814.2 732.2,814.7 C732.3,815.1 732.4,815.6 732.4,816.0Z" fill="none" stroke="#333333" stroke-width="1.3"/>
<path d="M475.2,942.2 C475.9,943.2 476.5,944.4 476.9,945.5 C477.2,946.6 477.4,947.8 477.4,948.9 C477.4,949.9 477.1,951.0 476.7,951.9 C476.3,952.7 475.7,953.5 474.9,954.0 C474.2,954.5 473.3,954.8 472.3,954.9 C471.4,955.0 470.3,954.9 469.3,954.5 C468.3,954.2 467.2,953.6 466.3,952.9 C465.4,952.2 464.5,951.2 463.8,950.2 C463.1,949.2 462.5,948.0 462.1,946.9 C461.8,945.8 461.6,944.6 461.6,943.5 C461.6,942.5 461.9,941.4 462.3,940.5 C462.7,939.7 463.3,938.9 464.1,938.4 C464.8,937.9 465.7,937.6 466.7,937.5 C467.6,937.4 468.7,937.5 469.7,937.9 C470.7,938.2 471.8,938.8 472.7,939.5 C473.6,940.2 474.5,941.2 475.2,942.2Z" fill="none" stroke="#333333" stroke-width="1.3"/><path d="M473.8,943.2 C474.3,943.9 474.8,944.8 475.0,945.7 C475.3,946.5 475.4,947.4 475.4,948.2 C475.4,949.0 475.2,949.8 474.9,950.4 C474.6,951.1 474.1,951.7 473.6,952.0 C473.0,952.4 472.3,952.7 471.6,952.7 C470.9,952.8 470.1,952.7 469.3,952.5 C468.6,952.2 467.8,951.8 467.1,951.2 C466.4,950.7 465.7,950.0 465.2,949.2 C464.7,948.5 464.2,947.6 464.0,946.7 C463.7,945.9 463.6,945.0 463.6,944.2 C463.6,943.4 463.8,942.6 464.1,942.0 C464.4,941.3 464.9,940.7 465.4,940.4 C466.0,940.0 466.7,939.7 467.4,939.7 C468.1,939.6 468.9,939.7 469.7,939.9 C470.4,940.2 471.2,940.6 471.9,941.2 C472.6,941.7 473.3,942.4 473.8,943.2Z" fill="none" stroke="#333333" stroke-width="1.3"/><path d="M472.4,944.2 C472.7,944.7 473.0,945.3 473.2,945.8 C473.4,946.4 473.5,947.0 473.5,947.5 C473.4,948.1 473.3,948.6 473.1,949.0 C472.9,949.5 472.6,949.8 472.2,950.1 C471.9,950.3 471.4,950.5 470.9,950.6 C470.4,950.6 469.9,950.5 469.4,950.4 C468.9,950.2 468.4,949.9 467.9,949.5 C467.4,949.2 467.0,948.7 466.6,948.2 C466.3,947.7 466.0,947.1 465.8,946.6 C465.6,946.0 465.5,945.4 465.5,944.9 C465.6,944.3 465.7,943.8 465.9,943.4 C466.1,942.9 466.4,942.6 466.8,942.3 C467.1,942.1 467.6,941.9 468.1,941.8 C468.6,941.8 469.1,941.9 469.6,942.0 C470.1,942.2 470.6,942.5 471.1,942.9 C471.6,943.2 472.0,943.7 472.4,944.2Z" fill="none" stroke="#333333" stroke-width="1.3"/><path d="M471.2,945.0 C471.4,945.3 471.6,945.6 471.7,946.0 C471.8,946.3 471.9,946.7 471.9,947.0 C471.9,947.3 471.8,947.6 471.7,947.9 C471.5,948.2 471.4,948.4 471.1,948.5 C470.9,948.7 470.6,948.8 470.4,948.8 C470.1,948.8 469.7,948.8 469.4,948.7 C469.1,948.6 468.8,948.4 468.5,948.2 C468.3,948.0 468.0,947.7 467.8,947.4 C467.6,947.1 467.4,946.8 467.3,946.4 C467.2,946.1 467.1,945.7 467.1,945.4 C467.1,945.1 467.2,944.8 467.3,944.5 C467.5,944.2 467.6,944.0 467.9,943.9 C468.1,943.7 468.4,943.6 468.6,943.6 C468.9,943.6 469.3,943.6 469.6,943.7 C469.9,943.8 470.2,944.0 470.5,944.2 C470.7,944.4 471.0,944.7 471.2,945.0Z" fill="none" stroke="#333333" stroke-width="1.3"/>
<path d="M413.8,988.2 C413.8,988.9 413.7,989.7 413.5,990.3 C413.2,991.0 412.9,991.6 412.5,992.1 C412.1,992.6 411.6,993.0 411.0,993.3 C410.5,993.5 409.9,993.7 409.3,993.7 C408.7,993.7 408.1,993.5 407.6,993.3 C407.0,993.0 406.5,992.6 406.1,992.1 C405.7,991.6 405.4,991.0 405.1,990.3 C404.9,989.7 404.8,988.9 404.8,988.2 C404.8,987.5 404.9,986.7 405.1,986.1 C405.4,985.4 405.7,984.8 406.1,984.3 C406.5,983.8 407.0,983.4 407.6,983.1 C408.1,982.9 408.7,982.7 409.3,982.7 C409.9,982.7 410.5,982.9 411.0,983.1 C411.6,983.4 412.1,983.8 412.5,984.3 C412.9,984.8 413.2,985.4 413.5,986.1 C413.7,986.7 413.8,987.5 413.8,988.2Z" fill="none" stroke="#333333" stroke-width="1.3"/><path d="M410.7,988.2 C410.7,988.4 410.6,988.6 410.5,988.8 C410.5,989.0 410.4,989.2 410.3,989.4 C410.1,989.5 410.0,989.6 409.8,989.7 C409.7,989.8 409.5,989.9 409.3,989.9 C409.1,989.9 408.9,989.8 408.8,989.7 C408.6,989.6 408.5,989.5 408.3,989.4 C408.2,989.2 408.1,989.0 408.1,988.8 C408.0,988.6 407.9,988.4 407.9,988.2 C407.9,988.0 408.0,987.8 408.1,987.6 C408.1,987.4 408.2,987.2 408.3,987.0 C408.5,986.9 408.6,986.8 408.8,986.7 C408.9,986.6 409.1,986.6 409.3,986.6 C409.5,986.6 409.7,986.6 409.8,986.7 C410.0,986.8 410.1,986.9 410.3,987.0 C410.4,987.2 410.5,987.4 410.5,987.6 C410.6,987.8 410.7,988.0 410.7,988.2Z" fill="none" stroke="#333333" stroke-width="1.3"/>
<path d="M635.0,955.0 C634.7,951.9 636.3,947.0 638.0,944.0 C639.7,941.0 642.5,938.4 645.0,937.0 C647.5,935.6 651.0,934.7 653.0,935.5 C655.0,936.3 656.7,939.1 657.0,942.0 C657.3,944.9 656.5,949.8 655.0,953.0 C653.5,956.2 650.5,959.4 648.0,961.0 C645.5,962.6 642.2,963.5 640.0,962.5 C637.8,961.5 635.3,958.1 635.0,955.0Z" fill="#333333"/><path d="M637.6,953.7 C637.4,951.2 638.7,947.3 640.0,944.9 C641.4,942.5 643.6,940.4 645.6,939.3 C647.6,938.2 650.4,937.4 652.0,938.1 C653.6,938.8 655.0,941.0 655.2,943.3 C655.5,945.6 654.8,949.6 653.6,952.1 C652.4,954.6 650.0,957.2 648.0,958.5 C646.0,959.8 643.4,960.5 641.6,959.7 C639.9,958.9 637.9,956.2 637.6,953.7Z" fill="none" stroke="#fff" stroke-width="0.9"/><path d="M640.0,952.5 C639.8,950.6 640.8,947.6 641.9,945.7 C642.9,943.9 644.7,942.2 646.2,941.4 C647.8,940.5 649.9,939.9 651.2,940.4 C652.4,941.0 653.4,942.7 653.7,944.5 C653.9,946.3 653.3,949.3 652.4,951.3 C651.5,953.3 649.6,955.3 648.1,956.2 C646.5,957.2 644.5,957.8 643.1,957.2 C641.8,956.6 640.2,954.4 640.0,952.5Z" fill="none" stroke="#fff" stroke-width="0.9"/><path d="M642.3,951.4 C642.1,950.0 642.9,947.8 643.6,946.5 C644.4,945.1 645.6,944.0 646.8,943.3 C647.9,942.7 649.5,942.3 650.4,942.6 C651.3,943.0 652.0,944.3 652.2,945.6 C652.3,946.9 651.9,949.1 651.3,950.5 C650.6,951.9 649.2,953.4 648.1,954.1 C647.0,954.8 645.5,955.2 644.5,954.8 C643.5,954.3 642.4,952.8 642.3,951.4Z" fill="none" stroke="#fff" stroke-width="0.9"/><path d="M644.2,950.5 C644.1,949.5 644.6,948.0 645.1,947.1 C645.6,946.2 646.5,945.5 647.2,945.0 C648.0,944.6 649.0,944.4 649.6,944.6 C650.2,944.9 650.7,945.7 650.8,946.5 C650.9,947.4 650.7,948.9 650.2,949.9 C649.8,950.8 648.9,951.8 648.1,952.2 C647.4,952.7 646.4,953.0 645.7,952.7 C645.1,952.4 644.3,951.4 644.2,950.5Z" fill="none" stroke="#fff" stroke-width="0.9"/>
<path d="M670.0,955.0 C668.8,952.3 671.5,945.7 673.0,942.0 C674.5,938.3 677.2,935.1 679.0,933.0 C680.8,930.9 682.2,929.2 684.0,929.5 C685.8,929.8 687.8,932.4 690.0,935.0 C692.2,937.6 695.3,941.8 697.0,945.0 C698.7,948.2 700.8,951.9 700.0,954.0 C699.2,956.1 695.3,956.8 692.0,957.5 C688.7,958.2 683.7,958.4 680.0,958.0 C676.3,957.6 671.2,957.7 670.0,955.0Z" fill="#333333"/><path d="M672.7,953.0 C671.8,950.9 673.9,945.5 675.1,942.6 C676.3,939.7 678.4,937.1 679.9,935.4 C681.4,933.7 682.4,932.3 683.9,932.6 C685.4,932.9 687.0,934.9 688.7,937.0 C690.4,939.1 693.0,942.5 694.3,945.0 C695.6,947.5 697.4,950.5 696.7,952.2 C696.0,953.9 693.0,954.5 690.3,955.0 C687.6,955.5 683.6,955.7 680.7,955.4 C677.8,955.1 673.6,955.1 672.7,953.0Z" fill="none" stroke="#fff" stroke-width="0.9"/><path d="M675.1,951.2 C674.4,949.5 676.1,945.4 677.0,943.1 C677.9,940.9 679.6,938.9 680.7,937.6 C681.8,936.3 682.7,935.2 683.8,935.4 C684.9,935.6 686.2,937.2 687.5,938.8 C688.9,940.4 690.8,943.0 691.9,945.0 C692.9,947.0 694.2,949.3 693.7,950.6 C693.2,951.9 690.8,952.3 688.8,952.8 C686.7,953.2 683.6,953.3 681.3,953.1 C679.1,952.8 675.9,952.9 675.1,951.2Z" fill="none" stroke="#fff" stroke-width="0.9"/><path d="M677.4,949.5 C676.9,948.3 678.1,945.3 678.8,943.6 C679.5,942.0 680.6,940.5 681.5,939.6 C682.3,938.7 682.9,937.9 683.7,938.0 C684.5,938.2 685.4,939.3 686.4,940.5 C687.4,941.7 688.8,943.6 689.6,945.0 C690.3,946.4 691.3,948.1 690.9,949.0 C690.5,950.0 688.8,950.3 687.3,950.6 C685.8,950.9 683.6,951.0 681.9,950.9 C680.3,950.7 677.9,950.7 677.4,949.5Z" fill="none" stroke="#fff" stroke-width="0.9"/><path d="M679.5,948.0 C679.1,947.2 679.9,945.2 680.4,944.1 C680.8,943.0 681.6,942.0 682.1,941.4 C682.7,940.8 683.1,940.2 683.6,940.4 C684.2,940.5 684.8,941.2 685.5,942.0 C686.1,942.8 687.0,944.0 687.5,945.0 C688.0,946.0 688.7,947.1 688.5,947.7 C688.2,948.3 687.0,948.5 686.0,948.8 C685.0,949.0 683.6,949.0 682.5,948.9 C681.4,948.8 679.8,948.8 679.5,948.0Z" fill="none" stroke="#fff" stroke-width="0.9"/>
<path d="M781.0,946.2 C781.0,947.0 780.8,947.9 780.4,948.7 C780.1,949.5 779.5,950.2 778.8,950.8 C778.1,951.4 777.3,951.9 776.4,952.2 C775.5,952.5 774.5,952.7 773.5,952.7 C772.5,952.7 771.5,952.5 770.6,952.2 C769.7,951.9 768.9,951.4 768.2,950.8 C767.5,950.2 766.9,949.5 766.6,948.7 C766.2,947.9 766.0,947.0 766.0,946.2 C766.0,945.4 766.2,944.5 766.6,943.7 C766.9,942.9 767.5,942.2 768.2,941.6 C768.9,941.0 769.7,940.5 770.6,940.2 C771.5,939.9 772.5,939.7 773.5,939.7 C774.5,939.7 775.5,939.9 776.4,940.2 C777.3,940.5 778.1,941.0 778.8,941.6 C779.5,942.2 780.1,942.9 780.4,943.7 C780.8,944.5 781.0,945.4 781.0,946.2Z" fill="#333333"/><path d="M778.0,946.2 C778.0,946.7 777.9,947.2 777.7,947.7 C777.4,948.2 777.1,948.6 776.7,949.0 C776.3,949.3 775.8,949.6 775.2,949.8 C774.7,950.0 774.1,950.1 773.5,950.1 C772.9,950.1 772.3,950.0 771.8,949.8 C771.2,949.6 770.7,949.3 770.3,949.0 C769.9,948.6 769.6,948.2 769.3,947.7 C769.1,947.2 769.0,946.7 769.0,946.2 C769.0,945.7 769.1,945.2 769.3,944.7 C769.6,944.2 769.9,943.8 770.3,943.4 C770.7,943.1 771.2,942.8 771.8,942.6 C772.3,942.4 772.9,942.3 773.5,942.3 C774.1,942.3 774.7,942.4 775.2,942.6 C775.8,942.8 776.3,943.1 776.7,943.4 C777.1,943.8 777.4,944.2 777.7,944.7 C777.9,945.2 778.0,945.7 778.0,946.2Z" fill="none" stroke="#fff" stroke-width="0.9"/>
<path d="M778.0,950.0 C779.5,949.7 783.8,952.0 788.0,953.0 C792.2,954.0 799.0,954.7 803.0,956.0 C807.0,957.3 811.2,959.2 812.0,961.0 C812.8,962.8 810.7,965.9 808.0,967.0 C805.3,968.1 799.8,968.5 796.0,967.5 C792.2,966.5 787.8,963.1 785.0,961.0 C782.2,958.9 780.2,956.8 779.0,955.0 C777.8,953.2 776.5,950.3 778.0,950.0Z" fill="none" stroke="#333333" stroke-width="1.3"/><path d="M785.0,954.0 C785.9,953.8 788.2,955.1 790.5,955.6 C792.8,956.2 796.6,956.5 798.8,957.3 C801.0,958.0 803.3,959.0 803.7,960.0 C804.2,961.0 803.0,962.7 801.5,963.3 C800.1,963.9 797.0,964.1 794.9,963.6 C792.8,963.0 790.4,961.2 788.9,960.0 C787.3,958.9 786.2,957.7 785.6,956.7 C784.9,955.7 784.2,954.1 785.0,954.0Z" fill="none" stroke="#333333" stroke-width="1.3"/>
<path d="M830.9,945.2 C830.9,945.6 830.8,946.1 830.6,946.5 C830.4,947.0 830.1,947.4 829.7,947.7 C829.4,948.0 828.9,948.3 828.4,948.4 C828.0,948.6 827.4,948.7 826.9,948.7 C826.4,948.7 825.8,948.6 825.4,948.4 C824.9,948.3 824.4,948.0 824.1,947.7 C823.7,947.4 823.4,947.0 823.2,946.5 C823.0,946.1 822.9,945.6 822.9,945.2 C822.9,944.8 823.0,944.3 823.2,943.9 C823.4,943.4 823.7,943.0 824.1,942.7 C824.4,942.4 824.9,942.1 825.4,942.0 C825.8,941.8 826.4,941.7 826.9,941.7 C827.4,941.7 828.0,941.8 828.4,942.0 C828.9,942.1 829.4,942.4 829.7,942.7 C830.1,943.0 830.4,943.4 830.6,943.9 C830.8,944.3 830.9,944.8 830.9,945.2Z" fill="none" stroke="#333333" stroke-width="1.3"/>
<path d="M408.5,1178.0 C408.2,1174.3 408.1,1168.3 409.0,1165.0 C409.9,1161.7 411.3,1159.7 414.0,1158.0 C416.7,1156.3 421.2,1155.8 425.0,1155.0 C428.8,1154.2 434.3,1153.0 437.0,1153.5 C439.7,1154.0 440.8,1155.8 441.0,1158.0 C441.2,1160.2 439.7,1163.8 438.0,1167.0 C436.3,1170.2 434.2,1174.0 431.0,1177.0 C427.8,1180.0 422.3,1183.3 419.0,1185.0 C415.7,1186.7 412.8,1188.2 411.0,1187.0 C409.2,1185.8 408.8,1181.7 408.5,1178.0Z" fill="#333333"/><path d="M415.0,1173.7 C414.8,1171.9 414.8,1168.9 415.2,1167.2 C415.7,1165.5 416.4,1164.5 417.8,1163.7 C419.1,1162.9 421.3,1162.6 423.2,1162.2 C425.2,1161.8 427.9,1161.2 429.2,1161.5 C430.6,1161.7 431.2,1162.6 431.2,1163.7 C431.3,1164.8 430.6,1166.6 429.8,1168.2 C428.9,1169.8 427.8,1171.7 426.2,1173.2 C424.7,1174.7 421.9,1176.4 420.2,1177.2 C418.6,1178.0 417.1,1178.8 416.2,1178.2 C415.4,1177.6 415.2,1175.5 415.0,1173.7Z" fill="none" stroke="#fff" stroke-width="0.9"/><path d="M416.3,1172.8 C416.2,1171.4 416.1,1169.0 416.5,1167.6 C416.9,1166.3 417.4,1165.5 418.5,1164.8 C419.6,1164.2 421.4,1163.9 422.9,1163.6 C424.4,1163.3 426.6,1162.8 427.7,1163.0 C428.8,1163.2 429.2,1163.9 429.3,1164.8 C429.4,1165.7 428.8,1167.2 428.1,1168.4 C427.4,1169.7 426.6,1171.2 425.3,1172.4 C424.0,1173.6 421.8,1175.0 420.5,1175.6 C419.2,1176.3 418.0,1176.9 417.3,1176.4 C416.6,1176.0 416.4,1174.3 416.3,1172.8Z" fill="none" stroke="#fff" stroke-width="0.9"/><path d="M417.5,1172.1 C417.4,1170.9 417.3,1169.1 417.6,1168.0 C417.9,1167.0 418.3,1166.4 419.2,1165.9 C420.0,1165.3 421.4,1165.2 422.6,1164.9 C423.8,1164.7 425.5,1164.3 426.3,1164.5 C427.1,1164.6 427.5,1165.2 427.5,1165.9 C427.6,1166.6 427.1,1167.7 426.6,1168.7 C426.1,1169.6 425.4,1170.8 424.4,1171.8 C423.5,1172.7 421.8,1173.7 420.7,1174.2 C419.7,1174.8 418.8,1175.2 418.2,1174.9 C417.7,1174.5 417.6,1173.2 417.5,1172.1Z" fill="none" stroke="#fff" stroke-width="0.9"/><path d="M418.6,1171.3 C418.6,1170.5 418.5,1169.2 418.8,1168.4 C419.0,1167.7 419.3,1167.3 419.9,1166.9 C420.4,1166.5 421.4,1166.4 422.3,1166.2 C423.1,1166.1 424.3,1165.8 424.9,1165.9 C425.5,1166.0 425.8,1166.4 425.8,1166.9 C425.8,1167.4 425.5,1168.2 425.1,1168.9 C424.8,1169.6 424.3,1170.4 423.6,1171.1 C422.9,1171.7 421.7,1172.5 420.9,1172.8 C420.2,1173.2 419.6,1173.5 419.2,1173.3 C418.8,1173.0 418.7,1172.1 418.6,1171.3Z" fill="none" stroke="#fff" stroke-width="0.9"/><path d="M419.7,1170.6 C419.6,1170.1 419.6,1169.3 419.8,1168.8 C419.9,1168.3 420.1,1168.0 420.4,1167.8 C420.8,1167.6 421.5,1167.5 422.0,1167.4 C422.5,1167.3 423.3,1167.1 423.7,1167.2 C424.0,1167.2 424.2,1167.5 424.2,1167.8 C424.3,1168.1 424.0,1168.6 423.8,1169.1 C423.6,1169.5 423.3,1170.0 422.8,1170.5 C422.4,1170.9 421.6,1171.4 421.1,1171.6 C420.7,1171.8 420.3,1172.0 420.0,1171.9 C419.8,1171.7 419.7,1171.1 419.7,1170.6Z" fill="none" stroke="#fff" stroke-width="0.9"/>
<path d="M523.1,1155.0 C523.1,1156.1 522.9,1157.4 522.7,1158.4 C522.4,1159.5 522.0,1160.6 521.5,1161.4 C521.0,1162.2 520.4,1162.9 519.7,1163.3 C519.1,1163.8 518.3,1164.0 517.6,1164.0 C516.9,1164.0 516.1,1163.8 515.5,1163.3 C514.8,1162.9 514.2,1162.2 513.7,1161.4 C513.2,1160.6 512.8,1159.5 512.5,1158.4 C512.3,1157.4 512.1,1156.1 512.1,1155.0 C512.1,1153.9 512.3,1152.6 512.5,1151.6 C512.8,1150.5 513.2,1149.4 513.7,1148.6 C514.2,1147.8 514.8,1147.1 515.5,1146.7 C516.1,1146.2 516.9,1146.0 517.6,1146.0 C518.3,1146.0 519.1,1146.2 519.7,1146.7 C520.4,1147.1 521.0,1147.8 521.5,1148.6 C522.0,1149.4 522.4,1150.5 522.7,1151.6 C522.9,1152.6 523.1,1153.9 523.1,1155.0Z" fill="#333333"/><path d="M521.2,1155.0 C521.2,1155.7 521.1,1156.5 520.9,1157.2 C520.7,1157.9 520.5,1158.6 520.1,1159.1 C519.8,1159.7 519.4,1160.1 519.0,1160.4 C518.5,1160.7 518.1,1160.8 517.6,1160.8 C517.1,1160.8 516.7,1160.7 516.2,1160.4 C515.8,1160.1 515.4,1159.7 515.1,1159.1 C514.7,1158.6 514.5,1157.9 514.3,1157.2 C514.1,1156.5 514.0,1155.7 514.0,1155.0 C514.0,1154.3 514.1,1153.5 514.3,1152.8 C514.5,1152.1 514.7,1151.4 515.1,1150.9 C515.4,1150.3 515.8,1149.9 516.2,1149.6 C516.7,1149.3 517.1,1149.2 517.6,1149.2 C518.1,1149.2 518.5,1149.3 519.0,1149.6 C519.4,1149.9 519.8,1150.3 520.1,1150.9 C520.5,1151.4 520.7,1152.1 520.9,1152.8 C521.1,1153.5 521.2,1154.3 521.2,1155.0Z" fill="none" stroke="#fff" stroke-width="0.9"/><path d="M519.5,1155.0 C519.5,1155.4 519.5,1155.8 519.4,1156.2 C519.3,1156.6 519.1,1156.9 519.0,1157.2 C518.8,1157.5 518.6,1157.8 518.3,1157.9 C518.1,1158.1 517.8,1158.2 517.6,1158.2 C517.4,1158.2 517.1,1158.1 516.9,1157.9 C516.6,1157.8 516.4,1157.5 516.2,1157.2 C516.1,1156.9 515.9,1156.6 515.8,1156.2 C515.7,1155.8 515.7,1155.4 515.7,1155.0 C515.7,1154.6 515.7,1154.2 515.8,1153.8 C515.9,1153.4 516.1,1153.1 516.2,1152.8 C516.4,1152.5 516.6,1152.2 516.9,1152.1 C517.1,1151.9 517.4,1151.8 517.6,1151.8 C517.8,1151.8 518.1,1151.9 518.3,1152.1 C518.6,1152.2 518.8,1152.5 519.0,1152.8 C519.1,1153.1 519.3,1153.4 519.4,1153.8 C519.5,1154.2 519.5,1154.6 519.5,1155.0Z" fill="none" stroke="#fff" stroke-width="0.9"/>
<path d="M608.3,1164.0 C608.3,1165.1 608.1,1166.3 607.7,1167.3 C607.4,1168.3 606.8,1169.3 606.2,1170.1 C605.5,1170.9 604.7,1171.5 603.8,1171.9 C602.9,1172.4 601.9,1172.6 601.0,1172.6 C600.1,1172.6 599.1,1172.4 598.2,1171.9 C597.3,1171.5 596.5,1170.9 595.8,1170.1 C595.2,1169.3 594.6,1168.3 594.3,1167.3 C593.9,1166.3 593.7,1165.1 593.7,1164.0 C593.7,1162.9 593.9,1161.7 594.3,1160.7 C594.6,1159.7 595.2,1158.7 595.8,1157.9 C596.5,1157.1 597.3,1156.5 598.2,1156.1 C599.1,1155.6 600.1,1155.4 601.0,1155.4 C601.9,1155.4 602.9,1155.6 603.8,1156.1 C604.7,1156.5 605.5,1157.1 606.2,1157.9 C606.8,1158.7 607.4,1159.7 607.7,1160.7 C608.1,1161.7 608.3,1162.9 608.3,1164.0Z" fill="#333333"/><path d="M605.7,1164.0 C605.7,1164.7 605.6,1165.5 605.4,1166.1 C605.2,1166.8 604.8,1167.4 604.4,1168.0 C603.9,1168.5 603.4,1168.9 602.8,1169.2 C602.3,1169.4 601.6,1169.6 601.0,1169.6 C600.4,1169.6 599.7,1169.4 599.2,1169.2 C598.6,1168.9 598.1,1168.5 597.6,1168.0 C597.2,1167.4 596.8,1166.8 596.6,1166.1 C596.4,1165.5 596.3,1164.7 596.3,1164.0 C596.3,1163.3 596.4,1162.5 596.6,1161.9 C596.8,1161.2 597.2,1160.6 597.6,1160.0 C598.1,1159.5 598.6,1159.1 599.2,1158.8 C599.7,1158.6 600.4,1158.4 601.0,1158.4 C601.6,1158.4 602.3,1158.6 602.8,1158.8 C603.4,1159.1 603.9,1159.5 604.4,1160.0 C604.8,1160.6 605.2,1161.2 605.4,1161.9 C605.6,1162.5 605.7,1163.3 605.7,1164.0Z" fill="none" stroke="#fff" stroke-width="0.9"/><path d="M603.6,1164.0 C603.6,1164.4 603.5,1164.8 603.4,1165.2 C603.2,1165.5 603.0,1165.9 602.8,1166.1 C602.6,1166.4 602.3,1166.6 602.0,1166.8 C601.7,1166.9 601.3,1167.0 601.0,1167.0 C600.7,1167.0 600.3,1166.9 600.0,1166.8 C599.7,1166.6 599.4,1166.4 599.2,1166.1 C599.0,1165.9 598.8,1165.5 598.6,1165.2 C598.5,1164.8 598.4,1164.4 598.4,1164.0 C598.4,1163.6 598.5,1163.2 598.6,1162.8 C598.8,1162.5 599.0,1162.1 599.2,1161.9 C599.4,1161.6 599.7,1161.4 600.0,1161.2 C600.3,1161.1 600.7,1161.0 601.0,1161.0 C601.3,1161.0 601.7,1161.1 602.0,1161.2 C602.3,1161.4 602.6,1161.6 602.8,1161.9 C603.0,1162.1 603.2,1162.5 603.4,1162.8 C603.5,1163.2 603.6,1163.6 603.6,1164.0Z" fill="none" stroke="#fff" stroke-width="0.9"/>
<path d="M617.0,1164.0 C617.3,1161.8 619.8,1160.4 622.0,1160.0 C624.2,1159.6 627.3,1161.0 630.0,1161.5 C632.7,1162.0 635.0,1163.8 638.0,1163.0 C641.0,1162.2 644.3,1157.8 648.0,1157.0 C651.7,1156.2 656.0,1157.2 660.0,1158.0 C664.0,1158.8 669.0,1160.7 672.0,1162.0 C675.0,1163.3 678.7,1164.3 678.0,1166.0 C677.3,1167.7 671.8,1170.3 668.0,1172.0 C664.2,1173.7 659.7,1175.5 655.0,1176.0 C650.3,1176.5 644.5,1175.8 640.0,1175.0 C635.5,1174.2 631.3,1171.3 628.0,1171.0 C624.7,1170.7 621.8,1174.2 620.0,1173.0 C618.2,1171.8 616.7,1166.2 617.0,1164.0Z" fill="none" stroke="#333333" stroke-width="1.3"/>
<path d="M661.0,1166.0 C661.0,1167.3 660.7,1168.6 660.1,1169.8 C659.5,1171.0 658.6,1172.2 657.5,1173.1 C656.4,1174.0 655.0,1174.8 653.6,1175.2 C652.2,1175.7 650.5,1176.0 649.0,1176.0 C647.5,1176.0 645.8,1175.7 644.4,1175.2 C643.0,1174.8 641.6,1174.0 640.5,1173.1 C639.4,1172.2 638.5,1171.0 637.9,1169.8 C637.3,1168.6 637.0,1167.3 637.0,1166.0 C637.0,1164.7 637.3,1163.4 637.9,1162.2 C638.5,1161.0 639.4,1159.8 640.5,1158.9 C641.6,1158.0 643.0,1157.2 644.4,1156.8 C645.8,1156.3 647.5,1156.0 649.0,1156.0 C650.5,1156.0 652.2,1156.3 653.6,1156.8 C655.0,1157.2 656.4,1158.0 657.5,1158.9 C658.6,1159.8 659.5,1161.0 660.1,1162.2 C660.7,1163.4 661.0,1164.7 661.0,1166.0Z" fill="#333333"/><path d="M654.5,1166.0 C654.5,1166.6 654.4,1167.3 654.1,1167.9 C653.8,1168.5 653.3,1169.0 652.8,1169.5 C652.3,1169.9 651.6,1170.3 650.8,1170.6 C650.1,1170.8 649.3,1171.0 648.5,1171.0 C647.8,1171.0 647.0,1170.8 646.3,1170.6 C645.5,1170.3 644.8,1169.9 644.3,1169.5 C643.8,1169.0 643.3,1168.5 643.0,1167.9 C642.7,1167.3 642.5,1166.6 642.5,1166.0 C642.5,1165.3 642.7,1164.6 643.0,1164.0 C643.3,1163.4 643.8,1162.9 644.3,1162.4 C644.8,1162.0 645.5,1161.6 646.3,1161.3 C647.0,1161.1 647.8,1161.0 648.5,1161.0 C649.3,1161.0 650.1,1161.1 650.8,1161.3 C651.6,1161.6 652.3,1162.0 652.8,1162.4 C653.3,1162.9 653.8,1163.4 654.1,1164.0 C654.4,1164.6 654.5,1165.3 654.5,1166.0Z" fill="none" stroke="#fff" stroke-width="0.9"/><path d="M653.3,1165.9 C653.3,1166.5 653.1,1167.0 652.9,1167.5 C652.7,1167.9 652.3,1168.4 651.9,1168.8 C651.4,1169.1 650.9,1169.4 650.3,1169.6 C649.7,1169.8 649.1,1169.9 648.5,1169.9 C647.8,1169.9 647.2,1169.8 646.6,1169.6 C646.1,1169.4 645.5,1169.1 645.1,1168.8 C644.6,1168.4 644.3,1167.9 644.0,1167.5 C643.8,1167.0 643.7,1166.5 643.7,1165.9 C643.7,1165.4 643.8,1164.9 644.0,1164.4 C644.3,1163.9 644.6,1163.5 645.1,1163.1 C645.5,1162.8 646.1,1162.4 646.6,1162.2 C647.2,1162.0 647.8,1161.9 648.5,1161.9 C649.1,1161.9 649.7,1162.0 650.3,1162.2 C650.9,1162.4 651.4,1162.8 651.9,1163.1 C652.3,1163.5 652.7,1163.9 652.9,1164.4 C653.1,1164.9 653.3,1165.4 653.3,1165.9Z" fill="none" stroke="#fff" stroke-width="0.9"/><path d="M652.1,1165.9 C652.1,1166.3 652.0,1166.8 651.8,1167.1 C651.6,1167.5 651.3,1167.8 651.0,1168.1 C650.7,1168.4 650.2,1168.6 649.8,1168.8 C649.4,1168.9 648.9,1169.0 648.4,1169.0 C647.9,1169.0 647.4,1168.9 647.0,1168.8 C646.5,1168.6 646.1,1168.4 645.7,1168.1 C645.4,1167.8 645.1,1167.5 644.9,1167.1 C644.8,1166.8 644.7,1166.3 644.7,1165.9 C644.7,1165.5 644.8,1165.1 644.9,1164.7 C645.1,1164.4 645.4,1164.0 645.7,1163.7 C646.1,1163.5 646.5,1163.2 647.0,1163.1 C647.4,1162.9 647.9,1162.8 648.4,1162.8 C648.9,1162.8 649.4,1162.9 649.8,1163.1 C650.2,1163.2 650.7,1163.5 651.0,1163.7 C651.3,1164.0 651.6,1164.4 651.8,1164.7 C652.0,1165.1 652.1,1165.5 652.1,1165.9Z" fill="none" stroke="#fff" stroke-width="0.9"/><path d="M650.9,1165.9 C650.9,1166.2 650.9,1166.5 650.7,1166.8 C650.6,1167.0 650.4,1167.3 650.2,1167.5 C649.9,1167.7 649.6,1167.8 649.3,1168.0 C649.0,1168.1 648.6,1168.1 648.3,1168.1 C648.0,1168.1 647.6,1168.1 647.3,1168.0 C647.0,1167.8 646.7,1167.7 646.4,1167.5 C646.2,1167.3 646.0,1167.0 645.9,1166.8 C645.7,1166.5 645.7,1166.2 645.7,1165.9 C645.7,1165.6 645.7,1165.3 645.9,1165.1 C646.0,1164.8 646.2,1164.6 646.4,1164.4 C646.7,1164.2 647.0,1164.0 647.3,1163.9 C647.6,1163.8 648.0,1163.7 648.3,1163.7 C648.6,1163.7 649.0,1163.8 649.3,1163.9 C649.6,1164.0 649.9,1164.2 650.2,1164.4 C650.4,1164.6 650.6,1164.8 650.7,1165.1 C650.9,1165.3 650.9,1165.6 650.9,1165.9Z" fill="none" stroke="#fff" stroke-width="0.9"/><path d="M649.9,1165.9 C649.9,1166.1 649.9,1166.3 649.8,1166.4 C649.7,1166.6 649.6,1166.8 649.4,1166.9 C649.3,1167.0 649.1,1167.1 648.9,1167.2 C648.7,1167.3 648.4,1167.3 648.2,1167.3 C648.0,1167.3 647.8,1167.3 647.6,1167.2 C647.4,1167.1 647.2,1167.0 647.0,1166.9 C646.9,1166.8 646.8,1166.6 646.7,1166.4 C646.6,1166.3 646.5,1166.1 646.5,1165.9 C646.5,1165.7 646.6,1165.5 646.7,1165.4 C646.8,1165.2 646.9,1165.1 647.0,1164.9 C647.2,1164.8 647.4,1164.7 647.6,1164.6 C647.8,1164.6 648.0,1164.5 648.2,1164.5 C648.4,1164.5 648.7,1164.6 648.9,1164.6 C649.1,1164.7 649.3,1164.8 649.4,1164.9 C649.6,1165.1 649.7,1165.2 649.8,1165.4 C649.9,1165.5 649.9,1165.7 649.9,1165.9Z" fill="none" stroke="#fff" stroke-width="0.9"/>
<path d="M766.2,1167.5 C765.7,1169.1 764.8,1170.8 763.8,1172.1 C762.8,1173.4 761.6,1174.7 760.4,1175.5 C759.2,1176.4 757.8,1177.0 756.6,1177.2 C755.3,1177.5 754.0,1177.4 752.9,1177.0 C751.8,1176.6 750.7,1175.8 749.9,1174.8 C749.1,1173.8 748.4,1172.5 748.1,1171.0 C747.7,1169.6 747.5,1167.9 747.7,1166.2 C747.8,1164.6 748.2,1162.7 748.8,1161.1 C749.3,1159.5 750.2,1157.8 751.2,1156.5 C752.2,1155.2 753.4,1153.9 754.6,1153.1 C755.8,1152.2 757.2,1151.6 758.4,1151.4 C759.7,1151.1 761.0,1151.2 762.1,1151.6 C763.2,1152.0 764.3,1152.8 765.1,1153.8 C765.9,1154.8 766.6,1156.1 766.9,1157.6 C767.3,1159.0 767.5,1160.7 767.3,1162.4 C767.2,1164.0 766.8,1165.9 766.2,1167.5Z" fill="#333333"/><path d="M762.1,1165.5 C761.8,1166.3 761.4,1167.2 760.9,1167.8 C760.4,1168.5 759.8,1169.1 759.2,1169.6 C758.6,1170.0 757.9,1170.3 757.3,1170.4 C756.7,1170.5 756.0,1170.5 755.4,1170.3 C754.9,1170.1 754.3,1169.7 753.9,1169.2 C753.5,1168.7 753.2,1168.0 753.0,1167.3 C752.8,1166.6 752.8,1165.7 752.8,1164.9 C752.9,1164.1 753.1,1163.2 753.4,1162.4 C753.7,1161.6 754.1,1160.7 754.6,1160.1 C755.1,1159.4 755.7,1158.8 756.3,1158.3 C756.9,1157.9 757.6,1157.6 758.2,1157.5 C758.8,1157.4 759.5,1157.4 760.1,1157.6 C760.6,1157.8 761.2,1158.2 761.6,1158.7 C762.0,1159.2 762.3,1159.9 762.5,1160.6 C762.7,1161.3 762.7,1162.2 762.7,1163.0 C762.6,1163.8 762.4,1164.7 762.1,1165.5Z" fill="none" stroke="#fff" stroke-width="0.9"/><path d="M761.3,1165.2 C761.1,1165.8 760.7,1166.5 760.3,1167.0 C759.9,1167.5 759.4,1168.0 759.0,1168.4 C758.5,1168.7 757.9,1169.0 757.4,1169.1 C756.9,1169.2 756.4,1169.1 756.0,1169.0 C755.5,1168.8 755.1,1168.5 754.8,1168.1 C754.4,1167.7 754.2,1167.1 754.0,1166.6 C753.9,1166.0 753.8,1165.3 753.9,1164.6 C753.9,1164.0 754.1,1163.3 754.3,1162.6 C754.5,1162.0 754.9,1161.3 755.3,1160.8 C755.7,1160.2 756.2,1159.7 756.6,1159.4 C757.1,1159.0 757.7,1158.8 758.2,1158.7 C758.7,1158.6 759.2,1158.6 759.6,1158.8 C760.1,1159.0 760.5,1159.3 760.8,1159.7 C761.2,1160.1 761.4,1160.6 761.6,1161.2 C761.7,1161.8 761.8,1162.5 761.7,1163.1 C761.7,1163.8 761.5,1164.5 761.3,1165.2Z" fill="none" stroke="#fff" stroke-width="0.9"/><path d="M760.6,1164.8 C760.4,1165.3 760.1,1165.8 759.8,1166.2 C759.5,1166.6 759.1,1167.0 758.7,1167.3 C758.4,1167.6 757.9,1167.8 757.6,1167.8 C757.2,1167.9 756.8,1167.9 756.4,1167.7 C756.1,1167.6 755.7,1167.4 755.5,1167.1 C755.2,1166.8 755.0,1166.3 754.9,1165.9 C754.8,1165.5 754.8,1164.9 754.8,1164.4 C754.8,1163.9 755.0,1163.3 755.1,1162.8 C755.3,1162.3 755.6,1161.8 755.9,1161.4 C756.2,1161.0 756.6,1160.6 756.9,1160.3 C757.3,1160.1 757.7,1159.9 758.1,1159.8 C758.5,1159.7 758.9,1159.8 759.3,1159.9 C759.6,1160.0 760.0,1160.3 760.2,1160.6 C760.5,1160.9 760.7,1161.3 760.8,1161.7 C760.9,1162.2 760.9,1162.7 760.9,1163.2 C760.9,1163.7 760.7,1164.3 760.6,1164.8Z" fill="none" stroke="#fff" stroke-width="0.9"/><path d="M759.8,1164.5 C759.7,1164.8 759.5,1165.2 759.3,1165.5 C759.1,1165.8 758.8,1166.0 758.5,1166.2 C758.3,1166.4 758.0,1166.5 757.7,1166.6 C757.4,1166.7 757.1,1166.6 756.9,1166.5 C756.6,1166.5 756.4,1166.3 756.2,1166.1 C756.0,1165.8 755.9,1165.5 755.8,1165.2 C755.7,1164.9 755.7,1164.5 755.7,1164.2 C755.8,1163.8 755.8,1163.4 756.0,1163.1 C756.1,1162.7 756.3,1162.3 756.5,1162.0 C756.7,1161.7 757.0,1161.5 757.2,1161.3 C757.5,1161.1 757.8,1161.0 758.1,1160.9 C758.4,1160.9 758.7,1160.9 758.9,1161.0 C759.2,1161.1 759.4,1161.2 759.6,1161.4 C759.7,1161.7 759.9,1162.0 760.0,1162.3 C760.0,1162.6 760.1,1163.0 760.1,1163.3 C760.0,1163.7 759.9,1164.1 759.8,1164.5Z" fill="none" stroke="#fff" stroke-width="0.9"/><path d="M759.2,1164.1 C759.1,1164.4 758.9,1164.6 758.8,1164.8 C758.7,1165.0 758.5,1165.1 758.3,1165.3 C758.2,1165.4 758.0,1165.5 757.8,1165.5 C757.6,1165.5 757.4,1165.5 757.3,1165.5 C757.1,1165.4 757.0,1165.3 756.9,1165.2 C756.8,1165.0 756.7,1164.8 756.6,1164.6 C756.6,1164.4 756.5,1164.2 756.6,1164.0 C756.6,1163.7 756.6,1163.5 756.7,1163.3 C756.8,1163.0 756.9,1162.8 757.0,1162.6 C757.2,1162.4 757.4,1162.2 757.5,1162.1 C757.7,1162.0 757.9,1161.9 758.1,1161.9 C758.2,1161.9 758.4,1161.9 758.6,1161.9 C758.7,1162.0 758.9,1162.1 759.0,1162.2 C759.1,1162.4 759.2,1162.6 759.3,1162.8 C759.3,1163.0 759.3,1163.2 759.3,1163.4 C759.3,1163.7 759.2,1163.9 759.2,1164.1Z" fill="none" stroke="#fff" stroke-width="0.9"/>
<path d="M452.9,1115.5 C452.5,1116.3 452.0,1117.0 451.5,1117.6 C451.0,1118.2 450.4,1118.8 449.7,1119.1 C449.1,1119.5 448.4,1119.7 447.8,1119.8 C447.2,1119.8 446.6,1119.7 446.1,1119.5 C445.5,1119.2 445.0,1118.8 444.7,1118.3 C444.4,1117.8 444.1,1117.1 444.0,1116.4 C443.9,1115.7 443.9,1114.9 444.0,1114.1 C444.1,1113.3 444.4,1112.4 444.7,1111.7 C445.1,1110.9 445.6,1110.2 446.1,1109.6 C446.6,1109.0 447.2,1108.4 447.9,1108.1 C448.5,1107.7 449.2,1107.5 449.8,1107.4 C450.4,1107.4 451.0,1107.5 451.5,1107.7 C452.1,1108.0 452.6,1108.4 452.9,1108.9 C453.2,1109.4 453.5,1110.1 453.6,1110.8 C453.7,1111.5 453.7,1112.3 453.6,1113.1 C453.5,1113.9 453.2,1114.8 452.9,1115.5Z" fill="none" stroke="#333333" stroke-width="1.3"/><path d="M450.6,1114.5 C450.5,1114.8 450.3,1115.1 450.0,1115.4 C449.8,1115.7 449.5,1115.9 449.2,1116.1 C448.9,1116.2 448.6,1116.3 448.4,1116.4 C448.1,1116.4 447.8,1116.4 447.6,1116.3 C447.3,1116.1 447.1,1116.0 447.0,1115.7 C446.8,1115.5 446.7,1115.2 446.6,1114.9 C446.6,1114.6 446.6,1114.2 446.6,1113.8 C446.7,1113.5 446.8,1113.1 447.0,1112.7 C447.1,1112.4 447.3,1112.1 447.6,1111.8 C447.8,1111.5 448.1,1111.3 448.4,1111.1 C448.7,1111.0 449.0,1110.9 449.2,1110.8 C449.5,1110.8 449.8,1110.8 450.0,1110.9 C450.3,1111.1 450.5,1111.2 450.6,1111.5 C450.8,1111.7 450.9,1112.0 451.0,1112.3 C451.0,1112.6 451.0,1113.0 451.0,1113.4 C450.9,1113.7 450.8,1114.1 450.6,1114.5Z" fill="none" stroke="#333333" stroke-width="1.3"/>
<path d="M410.0,1103.5 C410.0,1104.9 409.8,1106.4 409.5,1107.7 C409.2,1109.0 408.7,1110.3 408.2,1111.3 C407.6,1112.3 406.9,1113.1 406.2,1113.7 C405.4,1114.2 404.6,1114.5 403.8,1114.5 C403.0,1114.5 402.2,1114.2 401.4,1113.7 C400.7,1113.1 400.0,1112.3 399.4,1111.3 C398.9,1110.3 398.4,1109.0 398.1,1107.7 C397.8,1106.4 397.6,1104.9 397.6,1103.5 C397.6,1102.1 397.8,1100.6 398.1,1099.3 C398.4,1098.0 398.9,1096.7 399.4,1095.7 C400.0,1094.7 400.7,1093.9 401.4,1093.3 C402.2,1092.8 403.0,1092.5 403.8,1092.5 C404.6,1092.5 405.4,1092.8 406.2,1093.3 C406.9,1093.9 407.6,1094.7 408.2,1095.7 C408.7,1096.7 409.2,1098.0 409.5,1099.3 C409.8,1100.6 410.0,1102.1 410.0,1103.5Z" fill="none" stroke="#F28522" stroke-width="1.8"/><path d="M408.3,1103.5 C408.3,1104.5 408.1,1105.6 407.9,1106.5 C407.7,1107.5 407.4,1108.4 407.0,1109.1 C406.6,1109.8 406.0,1110.4 405.5,1110.8 C405.0,1111.2 404.4,1111.4 403.8,1111.4 C403.2,1111.4 402.6,1111.2 402.1,1110.8 C401.6,1110.4 401.0,1109.8 400.6,1109.1 C400.2,1108.4 399.9,1107.5 399.7,1106.5 C399.5,1105.6 399.3,1104.5 399.3,1103.5 C399.3,1102.5 399.5,1101.4 399.7,1100.5 C399.9,1099.5 400.2,1098.6 400.6,1097.9 C401.0,1097.2 401.6,1096.6 402.1,1096.2 C402.6,1095.8 403.2,1095.6 403.8,1095.6 C404.4,1095.6 405.0,1095.8 405.5,1096.2 C406.0,1096.6 406.6,1097.2 407.0,1097.9 C407.4,1098.6 407.7,1099.5 407.9,1100.5 C408.1,1101.4 408.3,1102.5 408.3,1103.5Z" fill="none" stroke="#F28522" stroke-width="1.8"/><path d="M406.6,1103.5 C406.6,1104.1 406.5,1104.8 406.4,1105.4 C406.2,1106.0 406.0,1106.6 405.8,1107.0 C405.5,1107.4 405.2,1107.8 404.9,1108.1 C404.5,1108.3 404.2,1108.5 403.8,1108.5 C403.4,1108.5 403.1,1108.3 402.7,1108.1 C402.4,1107.8 402.1,1107.4 401.8,1107.0 C401.6,1106.6 401.4,1106.0 401.2,1105.4 C401.1,1104.8 401.0,1104.1 401.0,1103.5 C401.0,1102.9 401.1,1102.2 401.2,1101.6 C401.4,1101.0 401.6,1100.4 401.8,1100.0 C402.1,1099.6 402.4,1099.2 402.7,1098.9 C403.1,1098.7 403.4,1098.5 403.8,1098.5 C404.2,1098.5 404.5,1098.7 404.9,1098.9 C405.2,1099.2 405.5,1099.6 405.8,1100.0 C406.0,1100.4 406.2,1101.0 406.4,1101.6 C406.5,1102.2 406.6,1102.9 406.6,1103.5Z" fill="none" stroke="#F28522" stroke-width="1.8"/><path d="M404.9,1103.5 C404.9,1103.8 404.9,1104.0 404.8,1104.3 C404.8,1104.5 404.7,1104.7 404.6,1104.9 C404.5,1105.1 404.4,1105.2 404.2,1105.3 C404.1,1105.4 403.9,1105.5 403.8,1105.5 C403.7,1105.5 403.5,1105.4 403.4,1105.3 C403.2,1105.2 403.1,1105.1 403.0,1104.9 C402.9,1104.7 402.8,1104.5 402.8,1104.3 C402.7,1104.0 402.7,1103.8 402.7,1103.5 C402.7,1103.2 402.7,1103.0 402.8,1102.7 C402.8,1102.5 402.9,1102.3 403.0,1102.1 C403.1,1101.9 403.2,1101.8 403.4,1101.7 C403.5,1101.6 403.7,1101.5 403.8,1101.5 C403.9,1101.5 404.1,1101.6 404.2,1101.7 C404.4,1101.8 404.5,1101.9 404.6,1102.1 C404.7,1102.3 404.8,1102.5 404.8,1102.7 C404.9,1103.0 404.9,1103.2 404.9,1103.5Z" fill="none" stroke="#F28522" stroke-width="1.8"/>
<path d="M474.0,1255.0 C473.5,1250.7 474.3,1244.5 476.0,1240.0 C477.7,1235.5 481.7,1231.7 484.0,1228.0 C486.3,1224.3 487.3,1220.5 490.0,1218.0 C492.7,1215.5 496.3,1214.0 500.0,1213.0 C503.7,1212.0 508.3,1211.5 512.0,1212.0 C515.7,1212.5 519.4,1213.7 522.0,1216.0 C524.6,1218.3 526.8,1222.0 527.5,1226.0 C528.2,1230.0 527.4,1236.0 526.0,1240.0 C524.6,1244.0 521.7,1246.3 519.0,1250.0 C516.3,1253.7 513.2,1258.5 510.0,1262.0 C506.8,1265.5 503.3,1269.3 500.0,1271.0 C496.7,1272.7 493.5,1272.8 490.0,1272.0 C486.5,1271.2 481.7,1268.8 479.0,1266.0 C476.3,1263.2 474.5,1259.3 474.0,1255.0Z" fill="#333333"/><path d="M490.8,1243.2 C490.5,1241.0 490.9,1237.9 491.8,1235.7 C492.6,1233.4 494.6,1231.5 495.8,1229.7 C496.9,1227.8 497.4,1225.9 498.8,1224.7 C500.1,1223.4 501.9,1222.7 503.8,1222.2 C505.6,1221.7 507.9,1221.4 509.8,1221.7 C511.6,1221.9 513.5,1222.5 514.8,1223.7 C516.0,1224.8 517.2,1226.7 517.5,1228.7 C517.8,1230.7 517.5,1233.7 516.8,1235.7 C516.0,1237.7 514.6,1238.8 513.2,1240.7 C511.9,1242.5 510.3,1244.9 508.8,1246.7 C507.2,1248.4 505.4,1250.3 503.8,1251.2 C502.1,1252.0 500.5,1252.1 498.8,1251.7 C497.0,1251.2 494.6,1250.1 493.2,1248.7 C491.9,1247.2 491.0,1245.3 490.8,1243.2Z" fill="none" stroke="#fff" stroke-width="0.9"/><path d="M494.1,1240.8 C493.9,1239.0 494.2,1236.6 494.9,1234.8 C495.6,1233.0 497.2,1231.4 498.1,1230.0 C499.0,1228.5 499.4,1227.0 500.5,1226.0 C501.6,1225.0 503.0,1224.4 504.5,1224.0 C506.0,1223.6 507.8,1223.4 509.3,1223.6 C510.8,1223.8 512.3,1224.2 513.3,1225.2 C514.3,1226.1 515.2,1227.6 515.5,1229.2 C515.8,1230.8 515.5,1233.2 514.9,1234.8 C514.3,1236.4 513.2,1237.3 512.1,1238.8 C511.0,1240.2 509.8,1242.2 508.5,1243.6 C507.2,1245.0 505.8,1246.5 504.5,1247.2 C503.2,1247.8 501.9,1247.9 500.5,1247.6 C499.1,1247.2 497.2,1246.3 496.1,1245.2 C495.0,1244.0 494.3,1242.5 494.1,1240.8Z" fill="none" stroke="#fff" stroke-width="0.9"/><path d="M497.1,1238.6 C497.0,1237.3 497.2,1235.4 497.7,1234.0 C498.3,1232.6 499.5,1231.4 500.2,1230.3 C500.9,1229.1 501.2,1228.0 502.1,1227.2 C502.9,1226.4 504.0,1225.9 505.2,1225.6 C506.3,1225.3 507.8,1225.2 508.9,1225.3 C510.0,1225.5 511.2,1225.8 512.0,1226.6 C512.8,1227.3 513.5,1228.4 513.7,1229.7 C513.9,1230.9 513.7,1232.8 513.2,1234.0 C512.8,1235.2 511.9,1236.0 511.1,1237.1 C510.2,1238.2 509.3,1239.7 508.3,1240.8 C507.3,1241.9 506.2,1243.1 505.2,1243.6 C504.1,1244.1 503.2,1244.2 502.1,1243.9 C501.0,1243.7 499.5,1242.9 498.7,1242.1 C497.8,1241.2 497.3,1240.0 497.1,1238.6Z" fill="none" stroke="#fff" stroke-width="0.9"/><path d="M500.1,1236.5 C500.0,1235.6 500.2,1234.2 500.6,1233.2 C500.9,1232.2 501.8,1231.4 502.3,1230.6 C502.8,1229.8 503.1,1228.9 503.6,1228.4 C504.2,1227.8 505.0,1227.5 505.9,1227.3 C506.7,1227.1 507.7,1226.9 508.5,1227.1 C509.3,1227.2 510.1,1227.4 510.7,1227.9 C511.3,1228.4 511.8,1229.3 511.9,1230.1 C512.0,1231.0 511.9,1232.3 511.6,1233.2 C511.3,1234.1 510.6,1234.6 510.0,1235.4 C509.4,1236.2 508.7,1237.3 508.1,1238.1 C507.4,1238.8 506.6,1239.7 505.9,1240.0 C505.1,1240.4 504.4,1240.4 503.6,1240.3 C502.9,1240.1 501.8,1239.6 501.2,1238.9 C500.6,1238.3 500.2,1237.5 500.1,1236.5Z" fill="none" stroke="#fff" stroke-width="0.9"/><path d="M502.8,1234.6 C502.7,1234.0 502.9,1233.1 503.1,1232.5 C503.3,1231.9 503.9,1231.4 504.2,1230.8 C504.5,1230.3 504.7,1229.8 505.1,1229.4 C505.4,1229.1 505.9,1228.9 506.4,1228.7 C507.0,1228.6 507.6,1228.5 508.1,1228.6 C508.6,1228.7 509.2,1228.8 509.5,1229.2 C509.9,1229.5 510.2,1230.0 510.3,1230.6 C510.4,1231.1 510.3,1232.0 510.1,1232.5 C509.9,1233.1 509.5,1233.4 509.1,1233.9 C508.7,1234.4 508.3,1235.1 507.9,1235.6 C507.4,1236.1 506.9,1236.6 506.4,1236.9 C506.0,1237.1 505.5,1237.1 505.1,1237.0 C504.6,1236.9 503.9,1236.6 503.5,1236.2 C503.1,1235.8 502.9,1235.2 502.8,1234.6Z" fill="none" stroke="#fff" stroke-width="0.9"/>
<path d="M650.1,1232.4 C650.3,1233.5 650.4,1234.7 650.3,1235.7 C650.2,1236.7 649.9,1237.8 649.5,1238.6 C649.2,1239.5 648.7,1240.2 648.1,1240.8 C647.5,1241.3 646.8,1241.6 646.1,1241.8 C645.4,1241.9 644.6,1241.8 643.9,1241.5 C643.1,1241.2 642.4,1240.7 641.7,1240.0 C641.1,1239.3 640.5,1238.4 640.1,1237.5 C639.6,1236.6 639.3,1235.4 639.1,1234.4 C638.9,1233.3 638.8,1232.1 638.9,1231.1 C639.0,1230.1 639.3,1229.0 639.7,1228.2 C640.0,1227.3 640.5,1226.6 641.1,1226.0 C641.7,1225.5 642.4,1225.2 643.1,1225.0 C643.8,1224.9 644.6,1225.0 645.3,1225.3 C646.1,1225.6 646.8,1226.1 647.5,1226.8 C648.1,1227.5 648.7,1228.4 649.1,1229.3 C649.6,1230.2 649.9,1231.4 650.1,1232.4Z" fill="none" stroke="#333333" stroke-width="1.3"/><path d="M647.9,1232.8 C648.0,1233.5 648.1,1234.2 648.0,1234.8 C647.9,1235.4 647.8,1236.0 647.6,1236.5 C647.3,1237.0 647.0,1237.5 646.7,1237.8 C646.3,1238.1 645.9,1238.3 645.5,1238.4 C645.1,1238.5 644.6,1238.4 644.2,1238.3 C643.7,1238.1 643.3,1237.8 642.9,1237.4 C642.5,1237.0 642.1,1236.4 641.9,1235.9 C641.6,1235.3 641.4,1234.6 641.3,1234.0 C641.2,1233.3 641.1,1232.6 641.2,1232.0 C641.3,1231.4 641.4,1230.8 641.6,1230.3 C641.9,1229.8 642.2,1229.3 642.5,1229.0 C642.9,1228.7 643.3,1228.5 643.7,1228.4 C644.1,1228.3 644.6,1228.4 645.0,1228.5 C645.5,1228.7 645.9,1229.0 646.3,1229.4 C646.7,1229.8 647.1,1230.4 647.3,1230.9 C647.6,1231.5 647.8,1232.2 647.9,1232.8Z" fill="none" stroke="#333333" stroke-width="1.3"/><path d="M646.3,1233.1 C646.3,1233.4 646.3,1233.8 646.3,1234.1 C646.3,1234.4 646.2,1234.7 646.1,1235.0 C646.0,1235.2 645.8,1235.5 645.6,1235.6 C645.5,1235.8 645.3,1235.9 645.0,1235.9 C644.8,1235.9 644.6,1235.9 644.4,1235.8 C644.2,1235.7 643.9,1235.6 643.7,1235.4 C643.6,1235.2 643.4,1234.9 643.2,1234.6 C643.1,1234.3 643.0,1234.0 642.9,1233.7 C642.9,1233.4 642.9,1233.0 642.9,1232.7 C642.9,1232.4 643.0,1232.1 643.1,1231.8 C643.2,1231.6 643.4,1231.3 643.6,1231.2 C643.7,1231.0 643.9,1230.9 644.2,1230.9 C644.4,1230.9 644.6,1230.9 644.8,1231.0 C645.0,1231.1 645.3,1231.2 645.5,1231.4 C645.6,1231.6 645.8,1231.9 646.0,1232.2 C646.1,1232.5 646.2,1232.8 646.3,1233.1Z" fill="none" stroke="#333333" stroke-width="1.3"/>
<path d="M478.0,1250.0 C480,1262.0 492.0,1268 505.0,1262 C512,1258 515,1250.0 510,1240.0" fill="none" stroke="#fff" stroke-width="0.9"/>
<path d="M480.5,1248.5 C482,1259.5 493.5,1265 504.5,1259 C511,1255 514,1247.5 509,1238.5" fill="none" stroke="#fff" stroke-width="0.9"/>
<path d="M483.0,1247.0 C484,1257.0 495.0,1262 504.0,1256 C510,1252 513,1245.0 508,1237.0" fill="none" stroke="#fff" stroke-width="0.9"/>
<path d="M485.5,1245.5 C486,1254.5 496.5,1259 503.5,1253 C509,1249 512,1242.5 507,1235.5" fill="none" stroke="#fff" stroke-width="0.9"/>
<path d="M488.0,1244.0 C488,1252.0 498.0,1256 503.0,1250 C508,1246 511,1240.0 506,1234.0" fill="none" stroke="#fff" stroke-width="0.9"/>
<path d="M680.0,1228.0 C680.2,1225.3 681.5,1221.6 683.0,1220.0 C684.5,1218.4 687.3,1217.8 689.0,1218.5 C690.7,1219.2 692.0,1220.8 693.0,1224.0 C694.0,1227.2 694.6,1233.8 695.0,1238.0 C695.4,1242.2 696.0,1246.8 695.5,1249.0 C695.0,1251.2 693.4,1252.2 692.0,1251.5 C690.6,1250.8 688.7,1247.6 687.0,1245.0 C685.3,1242.4 683.2,1238.8 682.0,1236.0 C680.8,1233.2 679.8,1230.7 680.0,1228.0Z" fill="none" stroke="#333333" stroke-width="1.3"/><path d="M684.7,1231.5 C684.8,1230.3 685.3,1228.7 686.0,1227.9 C686.7,1227.2 688.0,1227.0 688.7,1227.3 C689.5,1227.6 690.1,1228.3 690.5,1229.7 C691.0,1231.2 691.2,1234.2 691.4,1236.0 C691.6,1237.9 691.9,1240.0 691.6,1241.0 C691.4,1242.0 690.7,1242.4 690.1,1242.1 C689.4,1241.8 688.6,1240.4 687.8,1239.2 C687.1,1238.0 686.1,1236.4 685.6,1235.1 C685.1,1233.9 684.6,1232.7 684.7,1231.5Z" fill="none" stroke="#333333" stroke-width="1.3"/>
<path d="M726.0,1235.3 C726.3,1237.0 726.3,1238.9 726.2,1240.5 C726.1,1242.1 725.7,1243.7 725.2,1245.0 C724.8,1246.3 724.1,1247.5 723.3,1248.3 C722.5,1249.0 721.6,1249.5 720.7,1249.7 C719.8,1249.8 718.7,1249.6 717.8,1249.0 C716.8,1248.5 715.8,1247.6 715.0,1246.5 C714.2,1245.4 713.4,1243.9 712.8,1242.4 C712.3,1240.8 711.8,1239.0 711.6,1237.3 C711.3,1235.6 711.3,1233.7 711.4,1232.1 C711.5,1230.5 711.9,1228.9 712.4,1227.6 C712.8,1226.3 713.5,1225.1 714.3,1224.3 C715.1,1223.6 716.0,1223.1 716.9,1222.9 C717.8,1222.8 718.9,1223.0 719.8,1223.6 C720.8,1224.1 721.8,1225.0 722.6,1226.1 C723.4,1227.2 724.2,1228.7 724.8,1230.2 C725.3,1231.8 725.8,1233.6 726.0,1235.3Z" fill="#333333"/><path d="M722.7,1235.9 C722.8,1236.7 722.8,1237.7 722.7,1238.5 C722.7,1239.3 722.5,1240.1 722.3,1240.8 C722.0,1241.4 721.7,1242.0 721.3,1242.4 C720.9,1242.8 720.5,1243.0 720.0,1243.1 C719.5,1243.1 719.0,1243.0 718.5,1242.8 C718.1,1242.5 717.6,1242.0 717.2,1241.5 C716.7,1240.9 716.4,1240.2 716.1,1239.4 C715.8,1238.7 715.6,1237.8 715.4,1236.9 C715.3,1236.1 715.3,1235.1 715.4,1234.3 C715.4,1233.5 715.6,1232.7 715.8,1232.0 C716.1,1231.4 716.4,1230.8 716.8,1230.4 C717.2,1230.0 717.6,1229.8 718.1,1229.7 C718.6,1229.7 719.1,1229.8 719.6,1230.0 C720.0,1230.3 720.5,1230.8 720.9,1231.3 C721.4,1231.9 721.7,1232.6 722.0,1233.4 C722.3,1234.1 722.5,1235.0 722.7,1235.9Z" fill="none" stroke="#fff" stroke-width="0.9"/><path d="M722.0,1236.0 C722.1,1236.7 722.1,1237.4 722.1,1238.1 C722.0,1238.7 721.9,1239.4 721.7,1239.9 C721.5,1240.4 721.2,1240.9 720.9,1241.2 C720.6,1241.5 720.2,1241.7 719.9,1241.8 C719.5,1241.8 719.1,1241.7 718.7,1241.5 C718.3,1241.3 717.9,1240.9 717.6,1240.5 C717.3,1240.0 716.9,1239.5 716.7,1238.8 C716.5,1238.2 716.3,1237.5 716.2,1236.8 C716.1,1236.1 716.1,1235.4 716.1,1234.7 C716.2,1234.1 716.3,1233.4 716.5,1232.9 C716.7,1232.4 717.0,1231.9 717.3,1231.6 C717.6,1231.3 718.0,1231.1 718.3,1231.1 C718.7,1231.0 719.1,1231.1 719.5,1231.3 C719.9,1231.5 720.3,1231.9 720.6,1232.4 C720.9,1232.8 721.3,1233.4 721.5,1234.0 C721.7,1234.6 721.9,1235.3 722.0,1236.0Z" fill="none" stroke="#fff" stroke-width="0.9"/><path d="M721.4,1236.1 C721.5,1236.7 721.5,1237.2 721.4,1237.7 C721.4,1238.2 721.3,1238.7 721.1,1239.1 C721.0,1239.5 720.8,1239.9 720.5,1240.1 C720.3,1240.4 720.0,1240.5 719.7,1240.6 C719.4,1240.6 719.1,1240.6 718.8,1240.4 C718.5,1240.2 718.2,1239.9 718.0,1239.6 C717.7,1239.2 717.5,1238.8 717.3,1238.3 C717.1,1237.8 717.0,1237.3 716.9,1236.8 C716.8,1236.2 716.8,1235.6 716.9,1235.1 C716.9,1234.6 717.0,1234.1 717.1,1233.7 C717.3,1233.3 717.5,1233.0 717.7,1232.7 C718.0,1232.5 718.3,1232.3 718.6,1232.3 C718.8,1232.3 719.2,1232.3 719.5,1232.5 C719.8,1232.7 720.1,1232.9 720.3,1233.3 C720.6,1233.6 720.8,1234.1 721.0,1234.6 C721.2,1235.0 721.3,1235.6 721.4,1236.1Z" fill="none" stroke="#fff" stroke-width="0.9"/><path d="M720.8,1236.2 C720.8,1236.6 720.8,1237.0 720.8,1237.4 C720.8,1237.7 720.7,1238.1 720.6,1238.4 C720.5,1238.7 720.3,1238.9 720.2,1239.1 C720.0,1239.3 719.8,1239.4 719.6,1239.4 C719.4,1239.4 719.2,1239.4 719.0,1239.3 C718.8,1239.1 718.5,1238.9 718.4,1238.7 C718.2,1238.4 718.0,1238.1 717.9,1237.8 C717.8,1237.5 717.7,1237.1 717.6,1236.7 C717.5,1236.3 717.5,1235.9 717.6,1235.5 C717.6,1235.2 717.7,1234.8 717.8,1234.5 C717.9,1234.2 718.0,1234.0 718.2,1233.8 C718.4,1233.7 718.6,1233.5 718.8,1233.5 C719.0,1233.5 719.2,1233.5 719.4,1233.7 C719.6,1233.8 719.8,1234.0 720.0,1234.2 C720.2,1234.5 720.4,1234.8 720.5,1235.1 C720.6,1235.5 720.7,1235.9 720.8,1236.2Z" fill="none" stroke="#fff" stroke-width="0.9"/><path d="M720.2,1236.3 C720.3,1236.6 720.3,1236.8 720.3,1237.1 C720.2,1237.3 720.2,1237.5 720.1,1237.7 C720.1,1237.9 720.0,1238.0 719.9,1238.1 C719.8,1238.3 719.6,1238.3 719.5,1238.3 C719.4,1238.4 719.2,1238.3 719.1,1238.3 C719.0,1238.2 718.8,1238.1 718.7,1237.9 C718.6,1237.7 718.5,1237.5 718.4,1237.3 C718.3,1237.1 718.3,1236.9 718.2,1236.6 C718.2,1236.4 718.2,1236.1 718.2,1235.9 C718.2,1235.7 718.3,1235.4 718.3,1235.2 C718.4,1235.1 718.5,1234.9 718.6,1234.8 C718.7,1234.7 718.8,1234.6 719.0,1234.6 C719.1,1234.6 719.2,1234.6 719.4,1234.7 C719.5,1234.8 719.6,1234.9 719.8,1235.0 C719.9,1235.2 720.0,1235.4 720.1,1235.6 C720.1,1235.8 720.2,1236.1 720.2,1236.3Z" fill="none" stroke="#fff" stroke-width="0.9"/>
<path d="M354.0,1259.0 C354.0,1259.5 353.9,1260.1 353.8,1260.5 C353.7,1261.0 353.5,1261.5 353.3,1261.8 C353.0,1262.2 352.8,1262.5 352.5,1262.7 C352.2,1262.9 351.8,1263.0 351.5,1263.0 C351.2,1263.0 350.8,1262.9 350.5,1262.7 C350.2,1262.5 350.0,1262.2 349.7,1261.8 C349.5,1261.5 349.3,1261.0 349.2,1260.5 C349.1,1260.1 349.0,1259.5 349.0,1259.0 C349.0,1258.5 349.1,1257.9 349.2,1257.5 C349.3,1257.0 349.5,1256.5 349.7,1256.2 C350.0,1255.8 350.2,1255.5 350.5,1255.3 C350.8,1255.1 351.2,1255.0 351.5,1255.0 C351.8,1255.0 352.2,1255.1 352.5,1255.3 C352.8,1255.5 353.0,1255.8 353.3,1256.2 C353.5,1256.5 353.7,1257.0 353.8,1257.5 C353.9,1257.9 354.0,1258.5 354.0,1259.0Z" fill="none" stroke="#333333" stroke-width="1.3"/>
<path d="M670.4,1284.2 C670.4,1284.8 670.3,1285.5 670.1,1286.0 C669.9,1286.6 669.6,1287.2 669.2,1287.6 C668.9,1288.0 668.4,1288.4 667.9,1288.6 C667.5,1288.9 666.9,1289.0 666.4,1289.0 C665.9,1289.0 665.3,1288.9 664.9,1288.6 C664.4,1288.4 663.9,1288.0 663.6,1287.6 C663.2,1287.2 662.9,1286.6 662.7,1286.0 C662.5,1285.5 662.4,1284.8 662.4,1284.2 C662.4,1283.6 662.5,1282.9 662.7,1282.4 C662.9,1281.8 663.2,1281.2 663.6,1280.8 C663.9,1280.4 664.4,1280.0 664.9,1279.8 C665.3,1279.5 665.9,1279.4 666.4,1279.4 C666.9,1279.4 667.5,1279.5 667.9,1279.8 C668.4,1280.0 668.9,1280.4 669.2,1280.8 C669.6,1281.2 669.9,1281.8 670.1,1282.4 C670.3,1282.9 670.4,1283.6 670.4,1284.2Z" fill="none" stroke="#333333" stroke-width="1.3"/>
<path d="M151.0,1243.0 C150.2,1241.7 149.2,1238.2 150.0,1236.0 C150.8,1233.8 153.7,1232.3 156.0,1230.0 C158.3,1227.7 161.7,1225.3 164.0,1222.0 C166.3,1218.7 168.2,1213.1 170.0,1210.0 C171.8,1206.9 173.3,1204.3 175.0,1203.5 C176.7,1202.7 179.0,1203.4 180.0,1205.0 C181.0,1206.6 181.5,1210.3 181.0,1213.0 C180.5,1215.7 179.0,1218.0 177.0,1221.0 C175.0,1224.0 171.7,1227.8 169.0,1231.0 C166.3,1234.2 163.3,1237.8 161.0,1240.0 C158.7,1242.2 156.7,1243.5 155.0,1244.0 C153.3,1244.5 151.8,1244.3 151.0,1243.0Z" fill="none" stroke="#111" stroke-width="1.9"/><path d="M154.7,1238.5 C154.1,1237.5 153.3,1234.8 153.9,1233.2 C154.6,1231.6 156.7,1230.5 158.4,1228.7 C160.2,1227.0 162.7,1225.2 164.4,1222.7 C166.2,1220.2 167.6,1216.0 168.9,1213.7 C170.3,1211.4 171.4,1209.5 172.7,1208.8 C173.9,1208.2 175.7,1208.8 176.4,1210.0 C177.2,1211.2 177.6,1214.0 177.2,1216.0 C176.8,1218.0 175.7,1219.7 174.2,1222.0 C172.7,1224.2 170.2,1227.1 168.2,1229.5 C166.2,1231.8 163.9,1234.6 162.2,1236.2 C160.4,1237.8 158.9,1238.8 157.7,1239.2 C156.4,1239.6 155.3,1239.5 154.7,1238.5Z" fill="none" stroke="#111" stroke-width="1.9"/><path d="M158.4,1233.9 C158.0,1233.3 157.5,1231.5 157.9,1230.4 C158.3,1229.4 159.7,1228.6 160.9,1227.4 C162.0,1226.3 163.7,1225.1 164.9,1223.4 C166.0,1221.8 167.0,1219.0 167.9,1217.4 C168.8,1215.9 169.5,1214.6 170.4,1214.2 C171.2,1213.8 172.4,1214.1 172.9,1214.9 C173.4,1215.7 173.6,1217.6 173.4,1218.9 C173.1,1220.3 172.4,1221.4 171.4,1222.9 C170.4,1224.4 168.7,1226.4 167.4,1227.9 C166.0,1229.5 164.5,1231.4 163.4,1232.4 C162.2,1233.5 161.2,1234.2 160.4,1234.4 C159.5,1234.7 158.8,1234.6 158.4,1233.9Z" fill="none" stroke="#111" stroke-width="1.9"/>
<path d="M994.0,843.0 C995.2,843.5 995.8,854.0 999.0,858.0 C1002.2,862.0 1008.3,863.8 1013.0,867.0 C1017.7,870.2 1024.0,872.8 1027.0,877.0 C1030.0,881.2 1031.2,887.3 1031.0,892.0 C1030.8,896.7 1028.7,901.7 1026.0,905.0 C1023.3,908.3 1017.7,909.7 1015.0,912.0 C1012.3,914.3 1011.2,917.0 1010.0,919.0 C1008.8,921.0 1009.2,922.8 1008.0,924.0 C1006.8,925.2 1004.5,926.8 1003.0,926.0 C1001.5,925.2 1001.7,922.3 999.0,919.0 C996.3,915.7 990.8,909.5 987.0,906.0 C983.2,902.5 976.7,901.7 976.0,898.0 C975.3,894.3 980.7,888.7 983.0,884.0 C985.3,879.3 988.5,874.8 990.0,870.0 C991.5,865.2 991.3,859.5 992.0,855.0 C992.7,850.5 992.8,842.5 994.0,843.0Z" fill="#333333"/>
<ellipse cx="1006.5" cy="892.5" rx="6" ry="7.5" fill="#fff"/><ellipse cx="1006.5" cy="892.5" rx="3" ry="2.2" fill="#333"/><ellipse cx="1006.5" cy="892.5" rx="8" ry="10" fill="none" stroke="#fff" stroke-width="0.8"/>
<path d="M981.0,946.0 C980.2,940.3 982.3,935.7 985.0,932.0 C987.7,928.3 992.8,925.7 997.0,924.0 C1001.2,922.3 1005.3,921.3 1010.0,922.0 C1014.7,922.7 1019.2,926.7 1025.0,928.0 C1030.8,929.3 1038.3,929.5 1045.0,930.0 C1051.7,930.5 1058.3,930.0 1065.0,931.0 C1071.7,932.0 1079.2,934.3 1085.0,936.0 C1090.8,937.7 1097.0,938.3 1100.0,941.0 C1103.0,943.7 1103.8,948.2 1103.0,952.0 C1102.2,955.8 1098.8,961.7 1095.0,964.0 C1091.2,966.3 1085.8,966.7 1080.0,966.0 C1074.2,965.3 1065.8,960.8 1060.0,960.0 C1054.2,959.2 1050.3,960.5 1045.0,961.0 C1039.7,961.5 1031.5,961.2 1028.0,963.0 C1024.5,964.8 1025.0,967.5 1024.0,972.0 C1023.0,976.5 1022.2,983.7 1022.0,990.0 C1021.8,996.3 1022.5,1003.3 1023.0,1010.0 C1023.5,1016.7 1025.2,1024.3 1025.0,1030.0 C1024.8,1035.7 1023.8,1041.0 1022.0,1044.0 C1020.2,1047.0 1016.5,1048.0 1014.0,1048.0 C1011.5,1048.0 1008.5,1047.0 1007.0,1044.0 C1005.5,1041.0 1005.2,1035.7 1005.0,1030.0 C1004.8,1024.3 1006.0,1016.7 1006.0,1010.0 C1006.0,1003.3 1005.7,996.3 1005.0,990.0 C1004.3,983.7 1004.5,976.0 1002.0,972.0 C999.5,968.0 993.5,970.3 990.0,966.0 C986.5,961.7 981.8,951.7 981.0,946.0Z" fill="#333333"/>
<path d="M1014.0,945.0 C1014.0,946.0 1013.8,947.1 1013.5,948.1 C1013.1,949.0 1012.6,949.9 1011.9,950.7 C1011.3,951.4 1010.5,952.0 1009.7,952.4 C1008.9,952.8 1007.9,953.0 1007.0,953.0 C1006.1,953.0 1005.1,952.8 1004.3,952.4 C1003.5,952.0 1002.7,951.4 1002.1,950.7 C1001.4,949.9 1000.9,949.0 1000.5,948.1 C1000.2,947.1 1000.0,946.0 1000.0,945.0 C1000.0,944.0 1000.2,942.9 1000.5,941.9 C1000.9,941.0 1001.4,940.1 1002.1,939.3 C1002.7,938.6 1003.5,938.0 1004.3,937.6 C1005.1,937.2 1006.1,937.0 1007.0,937.0 C1007.9,937.0 1008.9,937.2 1009.7,937.6 C1010.5,938.0 1011.3,938.6 1011.9,939.3 C1012.6,940.1 1013.1,941.0 1013.5,941.9 C1013.8,942.9 1014.0,944.0 1014.0,945.0Z" fill="none" stroke="#fff" stroke-width="1.3"/><path d="M1011.9,945.0 C1011.9,945.7 1011.8,946.5 1011.5,947.1 C1011.3,947.8 1010.9,948.5 1010.5,949.0 C1010.0,949.5 1009.5,949.9 1008.9,950.2 C1008.3,950.4 1007.6,950.6 1007.0,950.6 C1006.4,950.6 1005.7,950.4 1005.1,950.2 C1004.5,949.9 1004.0,949.5 1003.5,949.0 C1003.1,948.5 1002.7,947.8 1002.5,947.1 C1002.2,946.5 1002.1,945.7 1002.1,945.0 C1002.1,944.3 1002.2,943.5 1002.5,942.9 C1002.7,942.2 1003.1,941.5 1003.5,941.0 C1004.0,940.5 1004.5,940.1 1005.1,939.8 C1005.7,939.6 1006.4,939.4 1007.0,939.4 C1007.6,939.4 1008.3,939.6 1008.9,939.8 C1009.5,940.1 1010.0,940.5 1010.5,941.0 C1010.9,941.5 1011.3,942.2 1011.5,942.9 C1011.8,943.5 1011.9,944.3 1011.9,945.0Z" fill="none" stroke="#fff" stroke-width="1.3"/><path d="M1010.1,945.0 C1010.1,945.5 1010.1,946.0 1009.9,946.4 C1009.8,946.8 1009.5,947.2 1009.2,947.5 C1008.9,947.9 1008.6,948.2 1008.2,948.3 C1007.8,948.5 1007.4,948.6 1007.0,948.6 C1006.6,948.6 1006.2,948.5 1005.8,948.3 C1005.4,948.2 1005.1,947.9 1004.8,947.5 C1004.5,947.2 1004.2,946.8 1004.1,946.4 C1003.9,946.0 1003.9,945.5 1003.9,945.0 C1003.9,944.5 1003.9,944.0 1004.1,943.6 C1004.2,943.2 1004.5,942.8 1004.8,942.5 C1005.1,942.1 1005.4,941.8 1005.8,941.7 C1006.2,941.5 1006.6,941.4 1007.0,941.4 C1007.4,941.4 1007.8,941.5 1008.2,941.7 C1008.6,941.8 1008.9,942.1 1009.2,942.5 C1009.5,942.8 1009.8,943.2 1009.9,943.6 C1010.1,944.0 1010.1,944.5 1010.1,945.0Z" fill="none" stroke="#fff" stroke-width="1.3"/><path d="M1008.8,945.0 C1008.8,945.3 1008.7,945.5 1008.6,945.8 C1008.5,946.0 1008.4,946.2 1008.2,946.4 C1008.1,946.6 1007.9,946.8 1007.7,946.8 C1007.5,946.9 1007.2,947.0 1007.0,947.0 C1006.8,947.0 1006.5,946.9 1006.3,946.8 C1006.1,946.8 1005.9,946.6 1005.8,946.4 C1005.6,946.2 1005.5,946.0 1005.4,945.8 C1005.3,945.5 1005.2,945.3 1005.2,945.0 C1005.2,944.7 1005.3,944.5 1005.4,944.2 C1005.5,944.0 1005.6,943.8 1005.8,943.6 C1005.9,943.4 1006.1,943.2 1006.3,943.2 C1006.5,943.1 1006.8,943.0 1007.0,943.0 C1007.2,943.0 1007.5,943.1 1007.7,943.2 C1007.9,943.2 1008.1,943.4 1008.2,943.6 C1008.4,943.8 1008.5,944.0 1008.6,944.2 C1008.7,944.5 1008.8,944.7 1008.8,945.0Z" fill="none" stroke="#fff" stroke-width="1.3"/>
<path d="M1030.0,945.0 C1030.0,946.1 1029.8,947.4 1029.4,948.4 C1029.0,949.5 1028.4,950.6 1027.7,951.4 C1026.9,952.2 1026.0,952.9 1025.1,953.3 C1024.1,953.8 1023.0,954.0 1022.0,954.0 C1021.0,954.0 1019.9,953.8 1018.9,953.3 C1018.0,952.9 1017.1,952.2 1016.3,951.4 C1015.6,950.6 1015.0,949.5 1014.6,948.4 C1014.2,947.4 1014.0,946.1 1014.0,945.0 C1014.0,943.9 1014.2,942.6 1014.6,941.6 C1015.0,940.5 1015.6,939.4 1016.3,938.6 C1017.1,937.8 1018.0,937.1 1018.9,936.7 C1019.9,936.2 1021.0,936.0 1022.0,936.0 C1023.0,936.0 1024.1,936.2 1025.1,936.7 C1026.0,937.1 1026.9,937.8 1027.7,938.6 C1028.4,939.4 1029.0,940.5 1029.4,941.6 C1029.8,942.6 1030.0,943.9 1030.0,945.0Z" fill="none" stroke="#fff" stroke-width="1.3"/><path d="M1027.6,945.0 C1027.6,945.8 1027.4,946.7 1027.2,947.4 C1026.9,948.2 1026.5,948.9 1026.0,949.5 C1025.5,950.0 1024.8,950.5 1024.1,950.8 C1023.5,951.1 1022.7,951.3 1022.0,951.3 C1021.3,951.3 1020.5,951.1 1019.9,950.8 C1019.2,950.5 1018.5,950.0 1018.0,949.5 C1017.5,948.9 1017.1,948.2 1016.8,947.4 C1016.6,946.7 1016.4,945.8 1016.4,945.0 C1016.4,944.2 1016.6,943.3 1016.8,942.6 C1017.1,941.8 1017.5,941.1 1018.0,940.5 C1018.5,940.0 1019.2,939.5 1019.9,939.2 C1020.5,938.9 1021.3,938.7 1022.0,938.7 C1022.7,938.7 1023.5,938.9 1024.1,939.2 C1024.8,939.5 1025.5,940.0 1026.0,940.5 C1026.5,941.1 1026.9,941.8 1027.2,942.6 C1027.4,943.3 1027.6,944.2 1027.6,945.0Z" fill="none" stroke="#fff" stroke-width="1.3"/><path d="M1025.6,945.0 C1025.6,945.5 1025.5,946.1 1025.3,946.5 C1025.2,947.0 1024.9,947.5 1024.5,947.9 C1024.2,948.2 1023.8,948.5 1023.4,948.7 C1023.0,948.9 1022.5,949.0 1022.0,949.0 C1021.5,949.0 1021.0,948.9 1020.6,948.7 C1020.2,948.5 1019.8,948.2 1019.5,947.9 C1019.1,947.5 1018.8,947.0 1018.7,946.5 C1018.5,946.1 1018.4,945.5 1018.4,945.0 C1018.4,944.5 1018.5,943.9 1018.7,943.5 C1018.8,943.0 1019.1,942.5 1019.5,942.1 C1019.8,941.8 1020.2,941.5 1020.6,941.3 C1021.0,941.1 1021.5,941.0 1022.0,941.0 C1022.5,941.0 1023.0,941.1 1023.4,941.3 C1023.8,941.5 1024.2,941.8 1024.5,942.1 C1024.9,942.5 1025.2,943.0 1025.3,943.5 C1025.5,943.9 1025.6,944.5 1025.6,945.0Z" fill="none" stroke="#fff" stroke-width="1.3"/><path d="M1024.0,945.0 C1024.0,945.3 1023.9,945.6 1023.8,945.9 C1023.8,946.1 1023.6,946.4 1023.4,946.6 C1023.2,946.8 1023.0,947.0 1022.8,947.1 C1022.5,947.2 1022.3,947.2 1022.0,947.2 C1021.7,947.2 1021.5,947.2 1021.2,947.1 C1021.0,947.0 1020.8,946.8 1020.6,946.6 C1020.4,946.4 1020.2,946.1 1020.2,945.9 C1020.1,945.6 1020.0,945.3 1020.0,945.0 C1020.0,944.7 1020.1,944.4 1020.2,944.1 C1020.2,943.9 1020.4,943.6 1020.6,943.4 C1020.8,943.2 1021.0,943.0 1021.2,942.9 C1021.5,942.8 1021.7,942.8 1022.0,942.8 C1022.3,942.8 1022.5,942.8 1022.8,942.9 C1023.0,943.0 1023.2,943.2 1023.4,943.4 C1023.6,943.6 1023.8,943.9 1023.8,944.1 C1023.9,944.4 1024.0,944.7 1024.0,945.0Z" fill="none" stroke="#fff" stroke-width="1.3"/>
<path d="M1059.0,945.0 C1059.0,946.0 1058.7,947.1 1058.1,948.1 C1057.5,949.0 1056.6,949.9 1055.5,950.7 C1054.4,951.4 1053.0,952.0 1051.6,952.4 C1050.2,952.8 1048.5,953.0 1047.0,953.0 C1045.5,953.0 1043.8,952.8 1042.4,952.4 C1041.0,952.0 1039.6,951.4 1038.5,950.7 C1037.4,949.9 1036.5,949.0 1035.9,948.1 C1035.3,947.1 1035.0,946.0 1035.0,945.0 C1035.0,944.0 1035.3,942.9 1035.9,941.9 C1036.5,941.0 1037.4,940.1 1038.5,939.3 C1039.6,938.6 1041.0,938.0 1042.4,937.6 C1043.8,937.2 1045.5,937.0 1047.0,937.0 C1048.5,937.0 1050.2,937.2 1051.6,937.6 C1053.0,938.0 1054.4,938.6 1055.5,939.3 C1056.6,940.1 1057.5,941.0 1058.1,941.9 C1058.7,942.9 1059.0,944.0 1059.0,945.0Z" fill="none" stroke="#fff" stroke-width="1.3"/><path d="M1055.4,945.0 C1055.4,945.7 1055.2,946.5 1054.8,947.1 C1054.4,947.8 1053.7,948.5 1052.9,949.0 C1052.2,949.5 1051.2,949.9 1050.2,950.2 C1049.2,950.4 1048.1,950.6 1047.0,950.6 C1045.9,950.6 1044.8,950.4 1043.8,950.2 C1042.8,949.9 1041.8,949.5 1041.1,949.0 C1040.3,948.5 1039.6,947.8 1039.2,947.1 C1038.8,946.5 1038.6,945.7 1038.6,945.0 C1038.6,944.3 1038.8,943.5 1039.2,942.9 C1039.6,942.2 1040.3,941.5 1041.1,941.0 C1041.8,940.5 1042.8,940.1 1043.8,939.8 C1044.8,939.6 1045.9,939.4 1047.0,939.4 C1048.1,939.4 1049.2,939.6 1050.2,939.8 C1051.2,940.1 1052.2,940.5 1052.9,941.0 C1053.7,941.5 1054.4,942.2 1054.8,942.9 C1055.2,943.5 1055.4,944.3 1055.4,945.0Z" fill="none" stroke="#fff" stroke-width="1.3"/><path d="M1052.4,945.0 C1052.4,945.5 1052.3,946.0 1052.0,946.4 C1051.7,946.8 1051.3,947.2 1050.8,947.5 C1050.3,947.9 1049.7,948.2 1049.1,948.3 C1048.4,948.5 1047.7,948.6 1047.0,948.6 C1046.3,948.6 1045.6,948.5 1044.9,948.3 C1044.3,948.2 1043.7,947.9 1043.2,947.5 C1042.7,947.2 1042.3,946.8 1042.0,946.4 C1041.7,946.0 1041.6,945.5 1041.6,945.0 C1041.6,944.5 1041.7,944.0 1042.0,943.6 C1042.3,943.2 1042.7,942.8 1043.2,942.5 C1043.7,942.1 1044.3,941.8 1044.9,941.7 C1045.6,941.5 1046.3,941.4 1047.0,941.4 C1047.7,941.4 1048.4,941.5 1049.1,941.7 C1049.7,941.8 1050.3,942.1 1050.8,942.5 C1051.3,942.8 1051.7,943.2 1052.0,943.6 C1052.3,944.0 1052.4,944.5 1052.4,945.0Z" fill="none" stroke="#fff" stroke-width="1.3"/><path d="M1050.0,945.0 C1050.0,945.3 1049.9,945.5 1049.8,945.8 C1049.6,946.0 1049.4,946.2 1049.1,946.4 C1048.9,946.6 1048.5,946.8 1048.1,946.8 C1047.8,946.9 1047.4,947.0 1047.0,947.0 C1046.6,947.0 1046.2,946.9 1045.9,946.8 C1045.5,946.8 1045.1,946.6 1044.9,946.4 C1044.6,946.2 1044.4,946.0 1044.2,945.8 C1044.1,945.5 1044.0,945.3 1044.0,945.0 C1044.0,944.7 1044.1,944.5 1044.2,944.2 C1044.4,944.0 1044.6,943.8 1044.9,943.6 C1045.1,943.4 1045.5,943.2 1045.9,943.2 C1046.2,943.1 1046.6,943.0 1047.0,943.0 C1047.4,943.0 1047.8,943.1 1048.1,943.2 C1048.5,943.2 1048.9,943.4 1049.1,943.6 C1049.4,943.8 1049.6,944.0 1049.8,944.2 C1049.9,944.5 1050.0,944.7 1050.0,945.0Z" fill="none" stroke="#fff" stroke-width="1.3"/>
<path d="M1091.0,949.0 C1091.0,949.9 1090.7,950.9 1090.1,951.7 C1089.5,952.5 1088.6,953.3 1087.5,953.9 C1086.4,954.6 1085.0,955.1 1083.6,955.5 C1082.2,955.8 1080.5,956.0 1079.0,956.0 C1077.5,956.0 1075.8,955.8 1074.4,955.5 C1073.0,955.1 1071.6,954.6 1070.5,953.9 C1069.4,953.3 1068.5,952.5 1067.9,951.7 C1067.3,950.9 1067.0,949.9 1067.0,949.0 C1067.0,948.1 1067.3,947.1 1067.9,946.3 C1068.5,945.5 1069.4,944.7 1070.5,944.1 C1071.6,943.4 1073.0,942.9 1074.4,942.5 C1075.8,942.2 1077.5,942.0 1079.0,942.0 C1080.5,942.0 1082.2,942.2 1083.6,942.5 C1085.0,942.9 1086.4,943.4 1087.5,944.1 C1088.6,944.7 1089.5,945.5 1090.1,946.3 C1090.7,947.1 1091.0,948.1 1091.0,949.0Z" fill="none" stroke="#fff" stroke-width="1.3"/><path d="M1087.4,949.0 C1087.4,949.6 1087.2,950.3 1086.8,950.9 C1086.4,951.5 1085.7,952.0 1084.9,952.5 C1084.2,952.9 1083.2,953.3 1082.2,953.5 C1081.2,953.8 1080.1,953.9 1079.0,953.9 C1077.9,953.9 1076.8,953.8 1075.8,953.5 C1074.8,953.3 1073.8,952.9 1073.1,952.5 C1072.3,952.0 1071.6,951.5 1071.2,950.9 C1070.8,950.3 1070.6,949.6 1070.6,949.0 C1070.6,948.4 1070.8,947.7 1071.2,947.1 C1071.6,946.5 1072.3,946.0 1073.1,945.5 C1073.8,945.1 1074.8,944.7 1075.8,944.5 C1076.8,944.2 1077.9,944.1 1079.0,944.1 C1080.1,944.1 1081.2,944.2 1082.2,944.5 C1083.2,944.7 1084.2,945.1 1084.9,945.5 C1085.7,946.0 1086.4,946.5 1086.8,947.1 C1087.2,947.7 1087.4,948.4 1087.4,949.0Z" fill="none" stroke="#fff" stroke-width="1.3"/><path d="M1084.4,949.0 C1084.4,949.4 1084.3,949.8 1084.0,950.2 C1083.7,950.6 1083.3,950.9 1082.8,951.2 C1082.3,951.5 1081.7,951.8 1081.1,951.9 C1080.4,952.1 1079.7,952.1 1079.0,952.1 C1078.3,952.1 1077.6,952.1 1076.9,951.9 C1076.3,951.8 1075.7,951.5 1075.2,951.2 C1074.7,950.9 1074.3,950.6 1074.0,950.2 C1073.7,949.8 1073.6,949.4 1073.6,949.0 C1073.6,948.6 1073.7,948.2 1074.0,947.8 C1074.3,947.4 1074.7,947.1 1075.2,946.8 C1075.7,946.5 1076.3,946.2 1076.9,946.1 C1077.6,945.9 1078.3,945.9 1079.0,945.9 C1079.7,945.9 1080.4,945.9 1081.1,946.1 C1081.7,946.2 1082.3,946.5 1082.8,946.8 C1083.3,947.1 1083.7,947.4 1084.0,947.8 C1084.3,948.2 1084.4,948.6 1084.4,949.0Z" fill="none" stroke="#fff" stroke-width="1.3"/><path d="M1082.0,949.0 C1082.0,949.2 1081.9,949.5 1081.8,949.7 C1081.6,949.9 1081.4,950.1 1081.1,950.2 C1080.9,950.4 1080.5,950.5 1080.1,950.6 C1079.8,950.7 1079.4,950.8 1079.0,950.8 C1078.6,950.8 1078.2,950.7 1077.9,950.6 C1077.5,950.5 1077.1,950.4 1076.9,950.2 C1076.6,950.1 1076.4,949.9 1076.2,949.7 C1076.1,949.5 1076.0,949.2 1076.0,949.0 C1076.0,948.8 1076.1,948.5 1076.2,948.3 C1076.4,948.1 1076.6,947.9 1076.9,947.8 C1077.1,947.6 1077.5,947.5 1077.9,947.4 C1078.2,947.3 1078.6,947.2 1079.0,947.2 C1079.4,947.2 1079.8,947.3 1080.1,947.4 C1080.5,947.5 1080.9,947.6 1081.1,947.8 C1081.4,947.9 1081.6,948.1 1081.8,948.3 C1081.9,948.5 1082.0,948.8 1082.0,949.0Z" fill="none" stroke="#fff" stroke-width="1.3"/>
<path d="M1019.5,1033.0 C1019.5,1034.1 1019.4,1035.4 1019.2,1036.4 C1018.9,1037.5 1018.6,1038.6 1018.2,1039.4 C1017.8,1040.2 1017.3,1040.9 1016.7,1041.3 C1016.2,1041.8 1015.6,1042.0 1015.0,1042.0 C1014.4,1042.0 1013.8,1041.8 1013.3,1041.3 C1012.7,1040.9 1012.2,1040.2 1011.8,1039.4 C1011.4,1038.6 1011.1,1037.5 1010.8,1036.4 C1010.6,1035.4 1010.5,1034.1 1010.5,1033.0 C1010.5,1031.9 1010.6,1030.6 1010.8,1029.6 C1011.1,1028.5 1011.4,1027.4 1011.8,1026.6 C1012.2,1025.8 1012.7,1025.1 1013.3,1024.7 C1013.8,1024.2 1014.4,1024.0 1015.0,1024.0 C1015.6,1024.0 1016.2,1024.2 1016.7,1024.7 C1017.3,1025.1 1017.8,1025.8 1018.2,1026.6 C1018.6,1027.4 1018.9,1028.5 1019.2,1029.6 C1019.4,1030.6 1019.5,1031.9 1019.5,1033.0Z" fill="none" stroke="#fff" stroke-width="1.3"/><path d="M1018.1,1033.0 C1018.1,1033.8 1018.1,1034.7 1017.9,1035.4 C1017.8,1036.2 1017.5,1036.9 1017.2,1037.5 C1016.9,1038.0 1016.6,1038.5 1016.2,1038.8 C1015.8,1039.1 1015.4,1039.3 1015.0,1039.3 C1014.6,1039.3 1014.2,1039.1 1013.8,1038.8 C1013.4,1038.5 1013.1,1038.0 1012.8,1037.5 C1012.5,1036.9 1012.2,1036.2 1012.1,1035.4 C1011.9,1034.7 1011.9,1033.8 1011.9,1033.0 C1011.9,1032.2 1011.9,1031.3 1012.1,1030.6 C1012.2,1029.8 1012.5,1029.1 1012.8,1028.5 C1013.1,1028.0 1013.4,1027.5 1013.8,1027.2 C1014.2,1026.9 1014.6,1026.7 1015.0,1026.7 C1015.4,1026.7 1015.8,1026.9 1016.2,1027.2 C1016.6,1027.5 1016.9,1028.0 1017.2,1028.5 C1017.5,1029.1 1017.8,1029.8 1017.9,1030.6 C1018.1,1031.3 1018.1,1032.2 1018.1,1033.0Z" fill="none" stroke="#fff" stroke-width="1.3"/><path d="M1017.0,1033.0 C1017.0,1033.5 1017.0,1034.1 1016.9,1034.5 C1016.8,1035.0 1016.6,1035.5 1016.4,1035.9 C1016.2,1036.2 1016.0,1036.5 1015.8,1036.7 C1015.5,1036.9 1015.3,1037.0 1015.0,1037.0 C1014.7,1037.0 1014.5,1036.9 1014.2,1036.7 C1014.0,1036.5 1013.8,1036.2 1013.6,1035.9 C1013.4,1035.5 1013.2,1035.0 1013.1,1034.5 C1013.0,1034.1 1013.0,1033.5 1013.0,1033.0 C1013.0,1032.5 1013.0,1031.9 1013.1,1031.5 C1013.2,1031.0 1013.4,1030.5 1013.6,1030.1 C1013.8,1029.8 1014.0,1029.5 1014.2,1029.3 C1014.5,1029.1 1014.7,1029.0 1015.0,1029.0 C1015.3,1029.0 1015.5,1029.1 1015.8,1029.3 C1016.0,1029.5 1016.2,1029.8 1016.4,1030.1 C1016.6,1030.5 1016.8,1031.0 1016.9,1031.5 C1017.0,1031.9 1017.0,1032.5 1017.0,1033.0Z" fill="none" stroke="#fff" stroke-width="1.3"/><path d="M1016.1,1033.0 C1016.1,1033.3 1016.1,1033.6 1016.0,1033.9 C1016.0,1034.1 1015.9,1034.4 1015.8,1034.6 C1015.7,1034.8 1015.6,1035.0 1015.4,1035.1 C1015.3,1035.2 1015.1,1035.2 1015.0,1035.2 C1014.9,1035.2 1014.7,1035.2 1014.6,1035.1 C1014.4,1035.0 1014.3,1034.8 1014.2,1034.6 C1014.1,1034.4 1014.0,1034.1 1014.0,1033.9 C1013.9,1033.6 1013.9,1033.3 1013.9,1033.0 C1013.9,1032.7 1013.9,1032.4 1014.0,1032.1 C1014.0,1031.9 1014.1,1031.6 1014.2,1031.4 C1014.3,1031.2 1014.4,1031.0 1014.6,1030.9 C1014.7,1030.8 1014.9,1030.8 1015.0,1030.8 C1015.1,1030.8 1015.3,1030.8 1015.4,1030.9 C1015.6,1031.0 1015.7,1031.2 1015.8,1031.4 C1015.9,1031.6 1016.0,1031.9 1016.0,1032.1 C1016.1,1032.4 1016.1,1032.7 1016.1,1033.0Z" fill="none" stroke="#fff" stroke-width="1.3"/>
<path d="M969.8,951.9 C969.3,952.5 968.7,953.0 967.9,953.4 C967.2,953.7 966.2,953.9 965.3,953.9 C964.4,953.9 963.3,953.7 962.3,953.4 C961.3,953.1 960.2,952.5 959.4,951.9 C958.5,951.3 957.6,950.5 957.0,949.7 C956.3,948.9 955.8,947.9 955.4,947.0 C955.1,946.1 955.0,945.2 955.1,944.4 C955.1,943.6 955.4,942.8 955.8,942.1 C956.3,941.5 956.9,941.0 957.7,940.6 C958.4,940.3 959.4,940.1 960.3,940.1 C961.2,940.1 962.3,940.3 963.3,940.6 C964.3,940.9 965.4,941.5 966.2,942.1 C967.1,942.7 968.0,943.5 968.6,944.3 C969.3,945.1 969.8,946.1 970.2,947.0 C970.5,947.9 970.6,948.8 970.5,949.6 C970.5,950.4 970.2,951.2 969.8,951.9Z" fill="none" stroke="#222" stroke-width="1.7"/><path d="M968.0,950.7 C967.7,951.1 967.2,951.5 966.6,951.8 C966.1,952.0 965.4,952.2 964.7,952.2 C964.0,952.2 963.2,952.1 962.4,951.8 C961.7,951.6 960.9,951.2 960.2,950.7 C959.6,950.2 958.9,949.6 958.4,949.0 C957.9,948.4 957.5,947.7 957.3,947.0 C957.0,946.4 956.9,945.6 957.0,945.0 C957.0,944.4 957.2,943.8 957.6,943.3 C957.9,942.9 958.4,942.5 959.0,942.2 C959.5,942.0 960.2,941.8 960.9,941.8 C961.6,941.8 962.4,941.9 963.2,942.2 C963.9,942.4 964.7,942.8 965.4,943.3 C966.0,943.8 966.7,944.4 967.2,945.0 C967.7,945.6 968.1,946.3 968.3,947.0 C968.6,947.6 968.7,948.4 968.6,949.0 C968.6,949.6 968.4,950.2 968.0,950.7Z" fill="none" stroke="#222" stroke-width="1.7"/><path d="M966.3,949.4 C966.1,949.8 965.7,950.0 965.4,950.2 C965.0,950.4 964.5,950.5 964.0,950.5 C963.6,950.5 963.0,950.4 962.5,950.2 C962.0,950.0 961.5,949.8 961.1,949.5 C960.6,949.1 960.2,948.7 959.9,948.3 C959.6,947.9 959.3,947.5 959.1,947.0 C959.0,946.6 958.9,946.1 958.9,945.7 C959.0,945.3 959.1,944.9 959.3,944.6 C959.5,944.2 959.9,944.0 960.2,943.8 C960.6,943.6 961.1,943.5 961.6,943.5 C962.0,943.5 962.6,943.6 963.1,943.8 C963.6,944.0 964.1,944.2 964.5,944.5 C965.0,944.9 965.4,945.3 965.7,945.7 C966.0,946.1 966.3,946.5 966.5,947.0 C966.6,947.4 966.7,947.9 966.7,948.3 C966.6,948.7 966.5,949.1 966.3,949.4Z" fill="none" stroke="#222" stroke-width="1.7"/>
<path d="M995.0,1063.0 C996.2,1061.5 999.2,1060.5 1002.0,1061.0 C1004.8,1061.5 1008.5,1063.3 1012.0,1066.0 C1015.5,1068.7 1020.7,1073.0 1023.0,1077.0 C1025.3,1081.0 1026.2,1086.3 1026.0,1090.0 C1025.8,1093.7 1024.3,1097.2 1022.0,1099.0 C1019.7,1100.8 1014.8,1102.0 1012.0,1101.0 C1009.2,1100.0 1007.2,1096.5 1005.0,1093.0 C1002.8,1089.5 1000.7,1083.8 999.0,1080.0 C997.3,1076.2 995.7,1072.8 995.0,1070.0 C994.3,1067.2 993.8,1064.5 995.0,1063.0Z" fill="#333333"/>
<ellipse cx="1013.4" cy="1085.5" rx="2.3" ry="3" fill="#fff"/>

<path d="M1003.0,1125.0 C1002.7,1120.0 1002.8,1116.0 1004.0,1113.0 C1005.2,1110.0 1007.7,1107.8 1010.0,1107.0 C1012.3,1106.2 1015.8,1105.8 1018.0,1108.0 C1020.2,1110.2 1022.3,1115.3 1023.0,1120.0 C1023.7,1124.7 1022.8,1131.5 1022.0,1136.0 C1021.2,1140.5 1019.5,1144.3 1018.0,1147.0 C1016.5,1149.7 1015.0,1152.7 1013.0,1152.0 C1011.0,1151.3 1007.7,1147.5 1006.0,1143.0 C1004.3,1138.5 1003.3,1130.0 1003.0,1125.0Z" fill="#F28522"/><path d="M1009.9,1124.8 C1009.8,1123.3 1009.8,1122.1 1010.2,1121.2 C1010.5,1120.3 1011.3,1119.6 1012.0,1119.4 C1012.7,1119.1 1013.7,1119.0 1014.4,1119.7 C1015.0,1120.3 1015.7,1121.9 1015.9,1123.3 C1016.1,1124.7 1015.8,1126.7 1015.6,1128.1 C1015.3,1129.4 1014.8,1130.6 1014.4,1131.4 C1013.9,1132.2 1013.5,1133.1 1012.9,1132.9 C1012.3,1132.7 1011.3,1131.5 1010.8,1130.2 C1010.3,1128.8 1010.0,1126.3 1009.9,1124.8Z" fill="none" stroke="#fff" stroke-width="0.9"/><path d="M1011.0,1124.8 C1011.0,1123.9 1011.0,1123.1 1011.2,1122.6 C1011.4,1122.1 1011.9,1121.7 1012.3,1121.5 C1012.7,1121.4 1013.3,1121.3 1013.7,1121.7 C1014.1,1122.1 1014.5,1123.0 1014.6,1123.9 C1014.8,1124.7 1014.6,1125.9 1014.5,1126.7 C1014.3,1127.5 1014.0,1128.2 1013.7,1128.7 C1013.5,1129.2 1013.2,1129.7 1012.8,1129.6 C1012.5,1129.5 1011.9,1128.8 1011.6,1128.0 C1011.3,1127.2 1011.1,1125.7 1011.0,1124.8Z" fill="none" stroke="#fff" stroke-width="0.9"/>
<path d="M992.0,1247.0 C991.3,1243.7 992.8,1237.3 994.0,1232.0 C995.2,1226.7 997.7,1220.3 999.0,1215.0 C1000.3,1209.7 1000.2,1203.7 1002.0,1200.0 C1003.8,1196.3 1006.8,1194.0 1010.0,1193.0 C1013.2,1192.0 1018.0,1192.2 1021.0,1194.0 C1024.0,1195.8 1026.8,1200.3 1028.0,1204.0 C1029.2,1207.7 1029.0,1212.3 1028.0,1216.0 C1027.0,1219.7 1025.0,1223.3 1022.0,1226.0 C1019.0,1228.7 1013.3,1229.7 1010.0,1232.0 C1006.7,1234.3 1004.0,1236.7 1002.0,1240.0 C1000.0,1243.3 999.7,1250.8 998.0,1252.0 C996.3,1253.2 992.7,1250.3 992.0,1247.0Z" fill="#333333"/>
<ellipse cx="1012.2" cy="1212.5" rx="2.5" ry="3.5" fill="none" stroke="#fff" stroke-width="1"/><path d="M996,1245 C998,1238 1000,1236 1003,1236" stroke="#fff" stroke-width="0.8" fill="none"/>
<path d="M1020.2,1246.0 C1020.2,1247.0 1020.0,1248.1 1019.7,1249.1 C1019.4,1250.0 1018.9,1250.9 1018.3,1251.7 C1017.7,1252.4 1017.0,1253.0 1016.2,1253.4 C1015.4,1253.8 1014.5,1254.0 1013.7,1254.0 C1012.9,1254.0 1012.0,1253.8 1011.2,1253.4 C1010.4,1253.0 1009.7,1252.4 1009.1,1251.7 C1008.5,1250.9 1008.0,1250.0 1007.7,1249.1 C1007.4,1248.1 1007.2,1247.0 1007.2,1246.0 C1007.2,1245.0 1007.4,1243.9 1007.7,1242.9 C1008.0,1242.0 1008.5,1241.1 1009.1,1240.3 C1009.7,1239.6 1010.4,1239.0 1011.2,1238.6 C1012.0,1238.2 1012.9,1238.0 1013.7,1238.0 C1014.5,1238.0 1015.4,1238.2 1016.2,1238.6 C1017.0,1239.0 1017.7,1239.6 1018.3,1240.3 C1018.9,1241.1 1019.4,1242.0 1019.7,1242.9 C1020.0,1243.9 1020.2,1245.0 1020.2,1246.0Z" fill="#F28522"/><path d="M1016.3,1246.0 C1016.3,1246.4 1016.2,1246.8 1016.1,1247.2 C1016.0,1247.6 1015.8,1248.0 1015.5,1248.3 C1015.3,1248.6 1015.0,1248.8 1014.7,1249.0 C1014.4,1249.1 1014.0,1249.2 1013.7,1249.2 C1013.4,1249.2 1013.0,1249.1 1012.7,1249.0 C1012.4,1248.8 1012.1,1248.6 1011.9,1248.3 C1011.6,1248.0 1011.4,1247.6 1011.3,1247.2 C1011.2,1246.8 1011.1,1246.4 1011.1,1246.0 C1011.1,1245.6 1011.2,1245.2 1011.3,1244.8 C1011.4,1244.4 1011.6,1244.0 1011.9,1243.7 C1012.1,1243.4 1012.4,1243.2 1012.7,1243.0 C1013.0,1242.9 1013.4,1242.8 1013.7,1242.8 C1014.0,1242.8 1014.4,1242.9 1014.7,1243.0 C1015.0,1243.2 1015.3,1243.4 1015.5,1243.7 C1015.8,1244.0 1016.0,1244.4 1016.1,1244.8 C1016.2,1245.2 1016.3,1245.6 1016.3,1246.0Z" fill="none" stroke="#fff" stroke-width="0.9"/>
<path d="M1007.0,1275.0 C1007.2,1271.8 1007.2,1268.2 1009.0,1266.0 C1010.8,1263.8 1014.8,1263.0 1018.0,1262.0 C1021.2,1261.0 1025.5,1259.5 1028.0,1260.0 C1030.5,1260.5 1032.7,1262.0 1033.0,1265.0 C1033.3,1268.0 1031.5,1274.2 1030.0,1278.0 C1028.5,1281.8 1026.7,1285.8 1024.0,1288.0 C1021.3,1290.2 1016.7,1291.5 1014.0,1291.0 C1011.3,1290.5 1009.2,1287.7 1008.0,1285.0 C1006.8,1282.3 1006.8,1278.2 1007.0,1275.0Z" fill="#333333"/><path d="M1010.8,1274.9 C1010.9,1273.0 1010.9,1270.8 1012.0,1269.5 C1013.1,1268.2 1015.5,1267.7 1017.4,1267.1 C1019.3,1266.5 1021.9,1265.6 1023.4,1265.9 C1024.9,1266.2 1026.2,1267.1 1026.4,1268.9 C1026.6,1270.7 1025.5,1274.4 1024.6,1276.7 C1023.7,1279.0 1022.6,1281.4 1021.0,1282.7 C1019.4,1284.0 1016.6,1284.8 1015.0,1284.5 C1013.4,1284.2 1012.1,1282.5 1011.4,1280.9 C1010.7,1279.3 1010.7,1276.8 1010.8,1274.9Z" fill="none" stroke="#fff" stroke-width="0.9"/><path d="M1012.8,1274.8 C1012.8,1273.6 1012.8,1272.1 1013.6,1271.2 C1014.3,1270.4 1015.9,1270.0 1017.2,1269.6 C1018.4,1269.2 1020.2,1268.6 1021.2,1268.8 C1022.2,1269.0 1023.0,1269.6 1023.2,1270.8 C1023.3,1272.0 1022.6,1274.5 1022.0,1276.0 C1021.4,1277.6 1020.6,1279.2 1019.6,1280.0 C1018.5,1280.9 1016.6,1281.4 1015.6,1281.2 C1014.5,1281.0 1013.6,1279.9 1013.2,1278.8 C1012.7,1277.8 1012.7,1276.1 1012.8,1274.8Z" fill="none" stroke="#fff" stroke-width="0.9"/><path d="M1014.2,1274.8 C1014.2,1274.0 1014.2,1273.1 1014.7,1272.5 C1015.2,1272.0 1016.2,1271.8 1017.0,1271.5 C1017.7,1271.3 1018.8,1270.9 1019.5,1271.0 C1020.1,1271.2 1020.6,1271.5 1020.7,1272.3 C1020.8,1273.0 1020.3,1274.6 1020.0,1275.5 C1019.6,1276.5 1019.1,1277.5 1018.5,1278.0 C1017.8,1278.6 1016.6,1278.9 1016.0,1278.8 C1015.3,1278.7 1014.7,1277.9 1014.5,1277.3 C1014.2,1276.6 1014.2,1275.6 1014.2,1274.8Z" fill="none" stroke="#fff" stroke-width="0.9"/>
<path d="M1005.0,830.0 C1004.7,825.8 1005.0,820.7 1006.0,818.0 C1007.0,815.3 1008.7,814.3 1011.0,813.6 C1013.3,812.9 1017.7,812.5 1020.0,813.6 C1022.3,814.7 1024.3,816.4 1025.0,820.0 C1025.7,823.6 1025.0,830.3 1024.0,835.0 C1023.0,839.7 1020.7,845.3 1019.0,848.0 C1017.3,850.7 1015.8,851.8 1014.0,851.0 C1012.2,850.2 1009.5,846.5 1008.0,843.0 C1006.5,839.5 1005.3,834.2 1005.0,830.0Z" fill="#F28522"/><path d="M1012.0,828.6 C1011.9,827.4 1012.0,825.8 1012.3,825.0 C1012.6,824.2 1013.1,823.9 1013.8,823.7 C1014.5,823.5 1015.8,823.4 1016.5,823.7 C1017.2,824.0 1017.8,824.5 1018.0,825.6 C1018.2,826.7 1018.0,828.7 1017.7,830.1 C1017.4,831.5 1016.7,833.2 1016.2,834.0 C1015.7,834.8 1015.2,835.1 1014.7,834.9 C1014.2,834.6 1013.4,833.5 1012.9,832.5 C1012.4,831.5 1012.1,829.9 1012.0,828.6Z" fill="none" stroke="#fff" stroke-width="0.9"/>
<path d="M1032.5,1168.0 C1032.0,1163.7 1032.9,1159.8 1035.0,1157.0 C1037.1,1154.2 1040.8,1152.2 1045.0,1151.0 C1049.2,1149.8 1054.2,1149.7 1060.0,1149.5 C1065.8,1149.3 1074.2,1149.4 1080.0,1150.0 C1085.8,1150.6 1090.3,1152.0 1095.0,1153.0 C1099.7,1154.0 1104.8,1154.3 1108.0,1156.0 C1111.2,1157.7 1113.3,1159.8 1114.0,1163.0 C1114.7,1166.2 1113.7,1171.3 1112.0,1175.0 C1110.3,1178.7 1107.7,1182.2 1104.0,1185.0 C1100.3,1187.8 1094.8,1190.2 1090.0,1192.0 C1085.2,1193.8 1078.8,1194.8 1075.0,1196.0 C1071.2,1197.2 1068.8,1197.7 1067.0,1199.0 C1065.2,1200.3 1064.8,1204.0 1064.0,1204.0 C1063.2,1204.0 1064.3,1201.0 1062.0,1199.0 C1059.7,1197.0 1054.0,1194.7 1050.0,1192.0 C1046.0,1189.3 1040.9,1187.0 1038.0,1183.0 C1035.1,1179.0 1033.0,1172.3 1032.5,1168.0Z" fill="#333333"/>
<path d="M1145.9,1163.3 C1146.1,1164.8 1145.7,1166.4 1144.9,1167.9 C1144.1,1169.3 1142.7,1170.7 1141.1,1171.9 C1139.5,1173.1 1137.4,1174.2 1135.2,1175.0 C1133.0,1175.7 1130.4,1176.2 1128.0,1176.5 C1125.6,1176.7 1123.0,1176.6 1120.7,1176.2 C1118.4,1175.9 1116.1,1175.2 1114.3,1174.3 C1112.5,1173.4 1110.9,1172.2 1109.9,1170.9 C1108.9,1169.6 1108.2,1168.1 1108.1,1166.7 C1107.9,1165.2 1108.3,1163.6 1109.1,1162.1 C1109.9,1160.7 1111.3,1159.3 1112.9,1158.1 C1114.5,1156.9 1116.6,1155.8 1118.8,1155.0 C1121.0,1154.3 1123.6,1153.8 1126.0,1153.5 C1128.4,1153.3 1131.0,1153.4 1133.3,1153.8 C1135.6,1154.1 1137.9,1154.8 1139.7,1155.7 C1141.5,1156.6 1143.1,1157.8 1144.1,1159.1 C1145.1,1160.4 1145.8,1161.9 1145.9,1163.3Z" fill="none" stroke="#333333" stroke-width="1.3"/><path d="M1143.1,1163.6 C1143.2,1164.8 1142.9,1166.2 1142.2,1167.4 C1141.5,1168.6 1140.4,1169.9 1139.0,1170.9 C1137.6,1171.9 1135.8,1172.8 1133.9,1173.5 C1132.1,1174.1 1129.9,1174.6 1127.9,1174.7 C1125.8,1174.9 1123.6,1174.8 1121.6,1174.5 C1119.7,1174.2 1117.8,1173.6 1116.2,1172.9 C1114.7,1172.1 1113.3,1171.1 1112.5,1170.0 C1111.6,1168.9 1111.0,1167.6 1110.9,1166.4 C1110.8,1165.2 1111.1,1163.8 1111.8,1162.6 C1112.5,1161.4 1113.6,1160.1 1115.0,1159.1 C1116.4,1158.1 1118.2,1157.2 1120.1,1156.5 C1121.9,1155.9 1124.1,1155.4 1126.1,1155.3 C1128.2,1155.1 1130.4,1155.2 1132.4,1155.5 C1134.3,1155.8 1136.2,1156.4 1137.8,1157.1 C1139.3,1157.9 1140.7,1158.9 1141.5,1160.0 C1142.4,1161.1 1143.0,1162.4 1143.1,1163.6Z" fill="none" stroke="#333333" stroke-width="1.3"/><path d="M1140.2,1163.8 C1140.3,1164.9 1140.1,1166.0 1139.5,1167.0 C1138.9,1168.0 1138.0,1169.0 1136.9,1169.9 C1135.7,1170.7 1134.2,1171.4 1132.7,1172.0 C1131.2,1172.5 1129.4,1172.9 1127.7,1173.0 C1126.0,1173.2 1124.2,1173.1 1122.6,1172.9 C1121.0,1172.6 1119.4,1172.1 1118.1,1171.5 C1116.9,1170.9 1115.8,1170.0 1115.0,1169.1 C1114.3,1168.3 1113.8,1167.2 1113.8,1166.2 C1113.7,1165.1 1113.9,1164.0 1114.5,1163.0 C1115.1,1162.0 1116.0,1161.0 1117.1,1160.1 C1118.3,1159.3 1119.8,1158.6 1121.3,1158.0 C1122.8,1157.5 1124.6,1157.1 1126.3,1157.0 C1128.0,1156.8 1129.8,1156.9 1131.4,1157.1 C1133.0,1157.4 1134.6,1157.9 1135.9,1158.5 C1137.1,1159.1 1138.2,1160.0 1139.0,1160.9 C1139.7,1161.7 1140.2,1162.8 1140.2,1163.8Z" fill="none" stroke="#333333" stroke-width="1.3"/><path d="M1137.4,1164.1 C1137.5,1164.9 1137.3,1165.8 1136.8,1166.6 C1136.4,1167.4 1135.6,1168.2 1134.8,1168.8 C1133.9,1169.5 1132.7,1170.1 1131.5,1170.5 C1130.3,1170.9 1128.9,1171.2 1127.6,1171.3 C1126.2,1171.4 1124.8,1171.4 1123.5,1171.2 C1122.3,1171.0 1121.0,1170.6 1120.0,1170.1 C1119.0,1169.6 1118.2,1169.0 1117.6,1168.3 C1117.0,1167.6 1116.7,1166.7 1116.6,1165.9 C1116.5,1165.1 1116.7,1164.2 1117.2,1163.4 C1117.6,1162.6 1118.4,1161.8 1119.2,1161.2 C1120.1,1160.5 1121.3,1159.9 1122.5,1159.5 C1123.7,1159.1 1125.1,1158.8 1126.4,1158.7 C1127.8,1158.6 1129.2,1158.6 1130.5,1158.8 C1131.7,1159.0 1133.0,1159.4 1134.0,1159.9 C1135.0,1160.4 1135.8,1161.0 1136.4,1161.7 C1137.0,1162.4 1137.3,1163.3 1137.4,1164.1Z" fill="none" stroke="#333333" stroke-width="1.3"/><path d="M1134.9,1164.3 C1135.0,1164.9 1134.8,1165.6 1134.5,1166.2 C1134.2,1166.8 1133.6,1167.4 1132.9,1167.9 C1132.2,1168.4 1131.3,1168.9 1130.4,1169.2 C1129.5,1169.5 1128.4,1169.7 1127.4,1169.8 C1126.4,1169.9 1125.3,1169.9 1124.3,1169.7 C1123.4,1169.6 1122.4,1169.3 1121.7,1168.9 C1120.9,1168.5 1120.3,1168.0 1119.8,1167.5 C1119.4,1167.0 1119.1,1166.3 1119.1,1165.7 C1119.0,1165.1 1119.2,1164.4 1119.5,1163.8 C1119.8,1163.2 1120.4,1162.6 1121.1,1162.1 C1121.8,1161.6 1122.7,1161.1 1123.6,1160.8 C1124.5,1160.5 1125.6,1160.3 1126.6,1160.2 C1127.6,1160.1 1128.7,1160.1 1129.7,1160.3 C1130.6,1160.4 1131.6,1160.7 1132.3,1161.1 C1133.1,1161.5 1133.7,1162.0 1134.2,1162.5 C1134.6,1163.0 1134.9,1163.7 1134.9,1164.3Z" fill="none" stroke="#333333" stroke-width="1.3"/><path d="M1132.7,1164.5 C1132.7,1164.9 1132.6,1165.4 1132.4,1165.9 C1132.1,1166.3 1131.7,1166.7 1131.2,1167.1 C1130.7,1167.4 1130.1,1167.8 1129.5,1168.0 C1128.8,1168.2 1128.0,1168.4 1127.3,1168.4 C1126.6,1168.5 1125.8,1168.5 1125.1,1168.4 C1124.4,1168.3 1123.7,1168.0 1123.2,1167.8 C1122.7,1167.5 1122.2,1167.2 1121.9,1166.8 C1121.6,1166.4 1121.4,1165.9 1121.3,1165.5 C1121.3,1165.1 1121.4,1164.6 1121.6,1164.1 C1121.9,1163.7 1122.3,1163.3 1122.8,1162.9 C1123.3,1162.6 1123.9,1162.2 1124.5,1162.0 C1125.2,1161.8 1126.0,1161.6 1126.7,1161.6 C1127.4,1161.5 1128.2,1161.5 1128.9,1161.6 C1129.6,1161.7 1130.3,1162.0 1130.8,1162.2 C1131.3,1162.5 1131.8,1162.8 1132.1,1163.2 C1132.4,1163.6 1132.6,1164.1 1132.7,1164.5Z" fill="none" stroke="#333333" stroke-width="1.3"/>
<path d="M1141.0,1163.0 C1141.8,1161.3 1147.5,1162.2 1150.0,1163.0 C1152.5,1163.8 1155.0,1165.5 1156.0,1168.0 C1157.0,1170.5 1157.0,1176.0 1156.0,1178.0 C1155.0,1180.0 1151.8,1180.8 1150.0,1180.0 C1148.2,1179.2 1146.5,1175.8 1145.0,1173.0 C1143.5,1170.2 1140.2,1164.7 1141.0,1163.0Z" fill="none" stroke="#333333" stroke-width="1.3"/><path d="M1145.3,1166.9 C1145.8,1166.1 1148.6,1166.5 1149.8,1166.9 C1151.1,1167.3 1152.3,1168.2 1152.8,1169.4 C1153.3,1170.7 1153.3,1173.4 1152.8,1174.4 C1152.3,1175.4 1150.8,1175.8 1149.8,1175.4 C1148.9,1175.0 1148.1,1173.3 1147.3,1171.9 C1146.6,1170.5 1144.9,1167.7 1145.3,1166.9Z" fill="none" stroke="#333333" stroke-width="1.3"/>
<path d="M1074.4,1168.4 C1074.4,1169.4 1074.1,1170.5 1073.6,1171.5 C1073.2,1172.4 1072.4,1173.3 1071.5,1174.1 C1070.6,1174.8 1069.4,1175.4 1068.2,1175.8 C1067.0,1176.2 1065.7,1176.4 1064.4,1176.4 C1063.1,1176.4 1061.8,1176.2 1060.6,1175.8 C1059.4,1175.4 1058.2,1174.8 1057.3,1174.1 C1056.4,1173.3 1055.6,1172.4 1055.2,1171.5 C1054.7,1170.5 1054.4,1169.4 1054.4,1168.4 C1054.4,1167.4 1054.7,1166.3 1055.2,1165.3 C1055.6,1164.4 1056.4,1163.5 1057.3,1162.7 C1058.2,1162.0 1059.4,1161.4 1060.6,1161.0 C1061.8,1160.6 1063.1,1160.4 1064.4,1160.4 C1065.7,1160.4 1067.0,1160.6 1068.2,1161.0 C1069.4,1161.4 1070.6,1162.0 1071.5,1162.7 C1072.4,1163.5 1073.2,1164.4 1073.6,1165.3 C1074.1,1166.3 1074.4,1167.4 1074.4,1168.4Z" fill="none" stroke="#fff" stroke-width="1.3"/><path d="M1071.4,1168.4 C1071.4,1169.1 1071.2,1169.9 1070.9,1170.5 C1070.5,1171.2 1070.0,1171.9 1069.3,1172.4 C1068.7,1172.9 1067.9,1173.3 1067.1,1173.6 C1066.3,1173.8 1065.3,1174.0 1064.4,1174.0 C1063.5,1174.0 1062.5,1173.8 1061.7,1173.6 C1060.9,1173.3 1060.1,1172.9 1059.5,1172.4 C1058.8,1171.9 1058.3,1171.2 1057.9,1170.5 C1057.6,1169.9 1057.4,1169.1 1057.4,1168.4 C1057.4,1167.7 1057.6,1166.9 1057.9,1166.3 C1058.3,1165.6 1058.8,1164.9 1059.5,1164.4 C1060.1,1163.9 1060.9,1163.5 1061.7,1163.2 C1062.5,1163.0 1063.5,1162.8 1064.4,1162.8 C1065.3,1162.8 1066.3,1163.0 1067.1,1163.2 C1067.9,1163.5 1068.7,1163.9 1069.3,1164.4 C1070.0,1164.9 1070.5,1165.6 1070.9,1166.3 C1071.2,1166.9 1071.4,1167.7 1071.4,1168.4Z" fill="none" stroke="#fff" stroke-width="1.3"/><path d="M1068.9,1168.4 C1068.9,1168.9 1068.8,1169.4 1068.6,1169.8 C1068.3,1170.2 1068.0,1170.6 1067.6,1170.9 C1067.2,1171.3 1066.7,1171.6 1066.1,1171.7 C1065.6,1171.9 1065.0,1172.0 1064.4,1172.0 C1063.8,1172.0 1063.2,1171.9 1062.7,1171.7 C1062.1,1171.6 1061.6,1171.3 1061.2,1170.9 C1060.8,1170.6 1060.5,1170.2 1060.2,1169.8 C1060.0,1169.4 1059.9,1168.9 1059.9,1168.4 C1059.9,1167.9 1060.0,1167.4 1060.2,1167.0 C1060.5,1166.6 1060.8,1166.2 1061.2,1165.9 C1061.6,1165.5 1062.1,1165.2 1062.7,1165.1 C1063.2,1164.9 1063.8,1164.8 1064.4,1164.8 C1065.0,1164.8 1065.6,1164.9 1066.1,1165.1 C1066.7,1165.2 1067.2,1165.5 1067.6,1165.9 C1068.0,1166.2 1068.3,1166.6 1068.6,1167.0 C1068.8,1167.4 1068.9,1167.9 1068.9,1168.4Z" fill="none" stroke="#fff" stroke-width="1.3"/>
<path d="M1099.0,1170.0 C1099.0,1170.8 1098.8,1171.6 1098.3,1172.3 C1097.9,1173.0 1097.2,1173.7 1096.4,1174.2 C1095.6,1174.8 1094.5,1175.3 1093.4,1175.5 C1092.4,1175.8 1091.1,1176.0 1090.0,1176.0 C1088.9,1176.0 1087.6,1175.8 1086.6,1175.5 C1085.5,1175.3 1084.4,1174.8 1083.6,1174.2 C1082.8,1173.7 1082.1,1173.0 1081.7,1172.3 C1081.2,1171.6 1081.0,1170.8 1081.0,1170.0 C1081.0,1169.2 1081.2,1168.4 1081.7,1167.7 C1082.1,1167.0 1082.8,1166.3 1083.6,1165.8 C1084.4,1165.2 1085.5,1164.7 1086.6,1164.5 C1087.6,1164.2 1088.9,1164.0 1090.0,1164.0 C1091.1,1164.0 1092.4,1164.2 1093.4,1164.5 C1094.5,1164.7 1095.6,1165.2 1096.4,1165.8 C1097.2,1166.3 1097.9,1167.0 1098.3,1167.7 C1098.8,1168.4 1099.0,1169.2 1099.0,1170.0Z" fill="none" stroke="#fff" stroke-width="1.3"/><path d="M1096.3,1170.0 C1096.3,1170.5 1096.1,1171.1 1095.8,1171.6 C1095.5,1172.1 1095.0,1172.6 1094.5,1173.0 C1093.9,1173.3 1093.2,1173.7 1092.4,1173.9 C1091.7,1174.1 1090.8,1174.2 1090.0,1174.2 C1089.2,1174.2 1088.3,1174.1 1087.6,1173.9 C1086.8,1173.7 1086.1,1173.3 1085.5,1173.0 C1085.0,1172.6 1084.5,1172.1 1084.2,1171.6 C1083.9,1171.1 1083.7,1170.5 1083.7,1170.0 C1083.7,1169.5 1083.9,1168.9 1084.2,1168.4 C1084.5,1167.9 1085.0,1167.4 1085.5,1167.0 C1086.1,1166.7 1086.8,1166.3 1087.6,1166.1 C1088.3,1165.9 1089.2,1165.8 1090.0,1165.8 C1090.8,1165.8 1091.7,1165.9 1092.4,1166.1 C1093.2,1166.3 1093.9,1166.7 1094.5,1167.0 C1095.0,1167.4 1095.5,1167.9 1095.8,1168.4 C1096.1,1168.9 1096.3,1169.5 1096.3,1170.0Z" fill="none" stroke="#fff" stroke-width="1.3"/><path d="M1094.0,1170.0 C1094.0,1170.3 1093.9,1170.7 1093.7,1171.0 C1093.5,1171.4 1093.2,1171.7 1092.9,1171.9 C1092.5,1172.2 1092.0,1172.4 1091.5,1172.5 C1091.1,1172.6 1090.5,1172.7 1090.0,1172.7 C1089.5,1172.7 1088.9,1172.6 1088.5,1172.5 C1088.0,1172.4 1087.5,1172.2 1087.1,1171.9 C1086.8,1171.7 1086.5,1171.4 1086.3,1171.0 C1086.1,1170.7 1086.0,1170.3 1086.0,1170.0 C1086.0,1169.7 1086.1,1169.3 1086.3,1169.0 C1086.5,1168.6 1086.8,1168.3 1087.1,1168.1 C1087.5,1167.8 1088.0,1167.6 1088.5,1167.5 C1088.9,1167.4 1089.5,1167.3 1090.0,1167.3 C1090.5,1167.3 1091.1,1167.4 1091.5,1167.5 C1092.0,1167.6 1092.5,1167.8 1092.9,1168.1 C1093.2,1168.3 1093.5,1168.6 1093.7,1169.0 C1093.9,1169.3 1094.0,1169.7 1094.0,1170.0Z" fill="none" stroke="#fff" stroke-width="1.3"/>
<path d="M1032.5,1225.0 C1032.7,1220.3 1032.9,1215.2 1035.0,1212.0 C1037.1,1208.8 1041.2,1207.3 1045.0,1206.0 C1048.8,1204.7 1054.5,1205.0 1058.0,1204.0 C1061.5,1203.0 1063.7,1200.0 1066.0,1200.0 C1068.3,1200.0 1068.8,1202.3 1072.0,1204.0 C1075.2,1205.7 1080.3,1208.7 1085.0,1210.0 C1089.7,1211.3 1095.8,1212.2 1100.0,1212.0 C1104.2,1211.8 1107.2,1208.5 1110.0,1209.0 C1112.8,1209.5 1115.5,1211.5 1117.0,1215.0 C1118.5,1218.5 1119.2,1225.0 1119.0,1230.0 C1118.8,1235.0 1117.8,1241.2 1116.0,1245.0 C1114.2,1248.8 1111.5,1250.8 1108.0,1253.0 C1104.5,1255.2 1099.7,1256.7 1095.0,1258.0 C1090.3,1259.3 1085.5,1260.0 1080.0,1261.0 C1074.5,1262.0 1067.3,1263.8 1062.0,1264.0 C1056.7,1264.2 1051.7,1264.0 1048.0,1262.0 C1044.3,1260.0 1042.3,1255.7 1040.0,1252.0 C1037.7,1248.3 1035.2,1244.5 1034.0,1240.0 C1032.8,1235.5 1032.3,1229.7 1032.5,1225.0Z" fill="#333333"/>
<path d="M1099.0,1232.0 C1099.0,1233.9 1098.3,1236.0 1097.0,1237.7 C1095.8,1239.5 1093.7,1241.3 1091.4,1242.6 C1089.0,1244.0 1086.0,1245.1 1082.9,1245.9 C1079.9,1246.6 1076.3,1247.0 1073.0,1247.0 C1069.7,1247.0 1066.1,1246.6 1063.1,1245.9 C1060.0,1245.1 1057.0,1244.0 1054.6,1242.6 C1052.3,1241.3 1050.2,1239.5 1049.0,1237.7 C1047.7,1236.0 1047.0,1233.9 1047.0,1232.0 C1047.0,1230.1 1047.7,1228.0 1049.0,1226.3 C1050.2,1224.5 1052.3,1222.7 1054.6,1221.4 C1057.0,1220.0 1060.0,1218.9 1063.1,1218.1 C1066.1,1217.4 1069.7,1217.0 1073.0,1217.0 C1076.3,1217.0 1079.9,1217.4 1082.9,1218.1 C1086.0,1218.9 1089.0,1220.0 1091.4,1221.4 C1093.7,1222.7 1095.8,1224.5 1097.0,1226.3 C1098.3,1228.0 1099.0,1230.1 1099.0,1232.0Z" fill="none" stroke="#fff" stroke-width="1.3"/><path d="M1095.1,1232.0 C1095.1,1233.6 1094.5,1235.4 1093.4,1236.9 C1092.3,1238.4 1090.6,1239.9 1088.6,1241.0 C1086.6,1242.2 1084.1,1243.2 1081.5,1243.8 C1078.9,1244.4 1075.8,1244.8 1073.0,1244.8 C1070.2,1244.8 1067.1,1244.4 1064.5,1243.8 C1061.9,1243.2 1059.4,1242.2 1057.4,1241.0 C1055.4,1239.9 1053.7,1238.4 1052.6,1236.9 C1051.5,1235.4 1050.9,1233.6 1050.9,1232.0 C1050.9,1230.4 1051.5,1228.6 1052.6,1227.1 C1053.7,1225.6 1055.4,1224.1 1057.4,1223.0 C1059.4,1221.8 1061.9,1220.8 1064.5,1220.2 C1067.1,1219.6 1070.2,1219.2 1073.0,1219.2 C1075.8,1219.2 1078.9,1219.6 1081.5,1220.2 C1084.1,1220.8 1086.6,1221.8 1088.6,1223.0 C1090.6,1224.1 1092.3,1225.6 1093.4,1227.1 C1094.5,1228.6 1095.1,1230.4 1095.1,1232.0Z" fill="none" stroke="#fff" stroke-width="1.3"/><path d="M1091.2,1232.0 C1091.2,1233.3 1090.7,1234.8 1089.8,1236.0 C1088.9,1237.3 1087.5,1238.5 1085.9,1239.4 C1084.2,1240.4 1082.1,1241.2 1080.0,1241.7 C1077.8,1242.2 1075.3,1242.5 1073.0,1242.5 C1070.7,1242.5 1068.2,1242.2 1066.0,1241.7 C1063.9,1241.2 1061.8,1240.4 1060.1,1239.4 C1058.5,1238.5 1057.1,1237.3 1056.2,1236.0 C1055.3,1234.8 1054.8,1233.3 1054.8,1232.0 C1054.8,1230.7 1055.3,1229.2 1056.2,1228.0 C1057.1,1226.7 1058.5,1225.5 1060.1,1224.6 C1061.8,1223.6 1063.9,1222.8 1066.0,1222.3 C1068.2,1221.8 1070.7,1221.5 1073.0,1221.5 C1075.3,1221.5 1077.8,1221.8 1080.0,1222.3 C1082.1,1222.8 1084.2,1223.6 1085.9,1224.6 C1087.5,1225.5 1088.9,1226.7 1089.8,1228.0 C1090.7,1229.2 1091.2,1230.7 1091.2,1232.0Z" fill="none" stroke="#fff" stroke-width="1.3"/><path d="M1087.3,1232.0 C1087.3,1233.1 1086.9,1234.2 1086.2,1235.2 C1085.5,1236.1 1084.4,1237.1 1083.1,1237.8 C1081.8,1238.6 1080.2,1239.2 1078.5,1239.6 C1076.8,1240.0 1074.8,1240.2 1073.0,1240.2 C1071.2,1240.2 1069.2,1240.0 1067.5,1239.6 C1065.8,1239.2 1064.2,1238.6 1062.9,1237.8 C1061.6,1237.1 1060.5,1236.1 1059.8,1235.2 C1059.1,1234.2 1058.7,1233.1 1058.7,1232.0 C1058.7,1230.9 1059.1,1229.8 1059.8,1228.8 C1060.5,1227.9 1061.6,1226.9 1062.9,1226.2 C1064.2,1225.4 1065.8,1224.8 1067.5,1224.4 C1069.2,1224.0 1071.2,1223.8 1073.0,1223.8 C1074.8,1223.8 1076.8,1224.0 1078.5,1224.4 C1080.2,1224.8 1081.8,1225.4 1083.1,1226.2 C1084.4,1226.9 1085.5,1227.9 1086.2,1228.8 C1086.9,1229.8 1087.3,1230.9 1087.3,1232.0Z" fill="none" stroke="#fff" stroke-width="1.3"/><path d="M1083.4,1232.0 C1083.4,1232.8 1083.1,1233.6 1082.6,1234.3 C1082.1,1235.0 1081.3,1235.7 1080.4,1236.2 C1079.4,1236.8 1078.2,1237.3 1077.0,1237.5 C1075.8,1237.8 1074.3,1238.0 1073.0,1238.0 C1071.7,1238.0 1070.2,1237.8 1069.0,1237.5 C1067.8,1237.3 1066.6,1236.8 1065.6,1236.2 C1064.7,1235.7 1063.9,1235.0 1063.4,1234.3 C1062.9,1233.6 1062.6,1232.8 1062.6,1232.0 C1062.6,1231.2 1062.9,1230.4 1063.4,1229.7 C1063.9,1229.0 1064.7,1228.3 1065.6,1227.8 C1066.6,1227.2 1067.8,1226.7 1069.0,1226.5 C1070.2,1226.2 1071.7,1226.0 1073.0,1226.0 C1074.3,1226.0 1075.8,1226.2 1077.0,1226.5 C1078.2,1226.7 1079.4,1227.2 1080.4,1227.8 C1081.3,1228.3 1082.1,1229.0 1082.6,1229.7 C1083.1,1230.4 1083.4,1231.2 1083.4,1232.0Z" fill="none" stroke="#fff" stroke-width="1.3"/><path d="M1079.5,1232.0 C1079.5,1232.5 1079.3,1233.0 1079.0,1233.4 C1078.7,1233.9 1078.2,1234.3 1077.6,1234.7 C1077.0,1235.0 1076.3,1235.3 1075.5,1235.5 C1074.7,1235.6 1073.8,1235.8 1073.0,1235.8 C1072.2,1235.8 1071.3,1235.6 1070.5,1235.5 C1069.7,1235.3 1069.0,1235.0 1068.4,1234.7 C1067.8,1234.3 1067.3,1233.9 1067.0,1233.4 C1066.7,1233.0 1066.5,1232.5 1066.5,1232.0 C1066.5,1231.5 1066.7,1231.0 1067.0,1230.6 C1067.3,1230.1 1067.8,1229.7 1068.4,1229.3 C1069.0,1229.0 1069.7,1228.7 1070.5,1228.5 C1071.3,1228.4 1072.2,1228.2 1073.0,1228.2 C1073.8,1228.2 1074.7,1228.4 1075.5,1228.5 C1076.3,1228.7 1077.0,1229.0 1077.6,1229.3 C1078.2,1229.7 1078.7,1230.1 1079.0,1230.6 C1079.3,1231.0 1079.5,1231.5 1079.5,1232.0Z" fill="none" stroke="#fff" stroke-width="1.3"/>
<path d="M1100.0,1230.0 C1100.0,1227.0 1102.5,1221.7 1104.0,1218.0 C1105.5,1214.3 1107.3,1209.8 1109.0,1208.0 C1110.7,1206.2 1112.7,1205.8 1114.0,1207.0 C1115.3,1208.2 1116.3,1211.5 1117.0,1215.0 C1117.7,1218.5 1118.8,1224.5 1118.0,1228.0 C1117.2,1231.5 1114.3,1234.7 1112.0,1236.0 C1109.7,1237.3 1106.0,1237.0 1104.0,1236.0 C1102.0,1235.0 1100.0,1233.0 1100.0,1230.0Z" fill="none" stroke="#fff" stroke-width="1.3"/><path d="M1102.9,1227.7 C1102.9,1225.6 1104.7,1221.8 1105.7,1219.3 C1106.8,1216.7 1108.1,1213.6 1109.2,1212.3 C1110.4,1211.0 1111.8,1210.8 1112.7,1211.6 C1113.7,1212.4 1114.4,1214.7 1114.8,1217.2 C1115.3,1219.6 1116.1,1223.8 1115.5,1226.3 C1114.9,1228.7 1113.0,1230.9 1111.3,1231.9 C1109.7,1232.8 1107.1,1232.6 1105.7,1231.9 C1104.3,1231.2 1102.9,1229.8 1102.9,1227.7Z" fill="none" stroke="#fff" stroke-width="1.3"/><path d="M1105.4,1225.7 C1105.4,1224.4 1106.5,1222.0 1107.2,1220.3 C1107.8,1218.7 1108.7,1216.7 1109.4,1215.8 C1110.2,1215.0 1111.1,1214.9 1111.7,1215.4 C1112.3,1215.9 1112.7,1217.4 1113.0,1219.0 C1113.3,1220.6 1113.8,1223.3 1113.5,1224.8 C1113.1,1226.4 1111.8,1227.8 1110.8,1228.4 C1109.7,1229.0 1108.1,1228.9 1107.2,1228.4 C1106.3,1228.0 1105.4,1227.1 1105.4,1225.7Z" fill="none" stroke="#fff" stroke-width="1.3"/>
<path d="M970.8,1231.0 C971.4,1233.1 971.9,1235.4 972.0,1237.4 C972.1,1239.5 971.9,1241.7 971.4,1243.4 C970.9,1245.2 970.1,1246.8 969.2,1248.0 C968.2,1249.2 966.9,1250.1 965.6,1250.6 C964.2,1251.0 962.6,1251.0 961.1,1250.6 C959.7,1250.2 958.0,1249.4 956.6,1248.2 C955.2,1247.1 953.8,1245.5 952.6,1243.7 C951.5,1242.0 950.5,1239.9 949.8,1237.8 C949.2,1235.7 948.7,1233.4 948.6,1231.4 C948.5,1229.3 948.7,1227.1 949.2,1225.4 C949.7,1223.6 950.5,1222.0 951.4,1220.8 C952.4,1219.6 953.7,1218.7 955.0,1218.2 C956.4,1217.8 958.0,1217.8 959.5,1218.2 C960.9,1218.6 962.6,1219.4 964.0,1220.6 C965.4,1221.7 966.8,1223.3 968.0,1225.1 C969.1,1226.8 970.1,1228.9 970.8,1231.0Z" fill="#333333"/><path d="M967.6,1232.0 C968.1,1233.5 968.4,1235.1 968.5,1236.5 C968.5,1238.0 968.4,1239.5 968.1,1240.7 C967.7,1242.0 967.2,1243.1 966.5,1243.9 C965.8,1244.8 964.9,1245.4 964.0,1245.7 C963.0,1246.0 961.9,1246.0 960.9,1245.8 C959.9,1245.5 958.7,1244.9 957.7,1244.1 C956.7,1243.3 955.7,1242.1 954.9,1240.9 C954.2,1239.7 953.4,1238.2 953.0,1236.8 C952.5,1235.3 952.2,1233.7 952.1,1232.3 C952.1,1230.8 952.2,1229.3 952.5,1228.1 C952.9,1226.8 953.4,1225.7 954.1,1224.9 C954.8,1224.0 955.7,1223.4 956.6,1223.1 C957.6,1222.8 958.7,1222.8 959.7,1223.0 C960.7,1223.3 961.9,1223.9 962.9,1224.7 C963.9,1225.5 964.9,1226.7 965.7,1227.9 C966.4,1229.1 967.2,1230.6 967.6,1232.0Z" fill="none" stroke="#fff" stroke-width="0.9"/><path d="M965.5,1232.7 C965.9,1233.7 966.1,1234.9 966.1,1235.9 C966.2,1237.0 966.1,1238.0 965.9,1238.9 C965.6,1239.8 965.2,1240.6 964.7,1241.2 C964.2,1241.8 963.6,1242.3 962.9,1242.5 C962.3,1242.7 961.5,1242.7 960.7,1242.5 C960.0,1242.3 959.2,1241.9 958.5,1241.3 C957.7,1240.7 957.0,1239.9 956.5,1239.1 C955.9,1238.2 955.4,1237.1 955.1,1236.1 C954.7,1235.1 954.5,1233.9 954.5,1232.9 C954.4,1231.8 954.5,1230.8 954.7,1229.9 C955.0,1229.0 955.4,1228.2 955.9,1227.6 C956.4,1227.0 957.0,1226.5 957.7,1226.3 C958.3,1226.1 959.1,1226.1 959.9,1226.3 C960.6,1226.5 961.4,1226.9 962.1,1227.5 C962.9,1228.1 963.6,1228.9 964.1,1229.7 C964.7,1230.6 965.2,1231.7 965.5,1232.7Z" fill="none" stroke="#fff" stroke-width="0.9"/><path d="M963.4,1233.4 C963.6,1234.0 963.8,1234.7 963.8,1235.3 C963.8,1235.9 963.8,1236.6 963.6,1237.1 C963.5,1237.6 963.3,1238.1 963.0,1238.5 C962.7,1238.8 962.3,1239.1 961.9,1239.3 C961.5,1239.4 961.0,1239.4 960.6,1239.3 C960.1,1239.2 959.6,1238.9 959.2,1238.6 C958.8,1238.2 958.3,1237.7 958.0,1237.2 C957.7,1236.7 957.4,1236.0 957.2,1235.4 C957.0,1234.8 956.8,1234.1 956.8,1233.5 C956.8,1232.9 956.8,1232.2 957.0,1231.7 C957.1,1231.2 957.3,1230.7 957.6,1230.3 C957.9,1230.0 958.3,1229.7 958.7,1229.5 C959.1,1229.4 959.6,1229.4 960.0,1229.5 C960.5,1229.6 961.0,1229.9 961.4,1230.2 C961.8,1230.6 962.3,1231.1 962.6,1231.6 C962.9,1232.1 963.2,1232.8 963.4,1233.4Z" fill="none" stroke="#fff" stroke-width="0.9"/>
<path d="M1167.0,830.0 C1166.7,825.5 1167.2,820.7 1168.0,818.0 C1168.8,815.3 1169.0,814.3 1172.0,813.6 C1175.0,812.9 1183.0,812.2 1186.0,813.6 C1189.0,815.0 1189.5,817.9 1190.0,822.0 C1190.5,826.1 1190.0,833.3 1189.0,838.0 C1188.0,842.7 1186.0,847.5 1184.0,850.0 C1182.0,852.5 1179.3,853.8 1177.0,853.0 C1174.7,852.2 1171.7,848.8 1170.0,845.0 C1168.3,841.2 1167.3,834.5 1167.0,830.0Z" fill="#F28522"/><path d="M1174.7,828.6 C1174.6,827.2 1174.8,825.8 1175.0,825.0 C1175.2,824.2 1175.3,823.9 1176.2,823.7 C1177.1,823.5 1179.5,823.3 1180.4,823.7 C1181.3,824.1 1181.4,825.0 1181.6,826.2 C1181.8,827.4 1181.6,829.6 1181.3,831.0 C1181.0,832.4 1180.4,833.9 1179.8,834.6 C1179.2,835.4 1178.4,835.8 1177.7,835.5 C1177.0,835.2 1176.1,834.2 1175.6,833.1 C1175.1,832.0 1174.8,830.0 1174.7,828.6Z" fill="none" stroke="#fff" stroke-width="0.9"/>
<path d="M1155.0,830.0 C1155.7,826.5 1156.8,820.3 1158.0,819.0 C1159.2,817.7 1161.5,818.5 1162.0,822.0 C1162.5,825.5 1161.0,834.0 1161.0,840.0 C1161.0,846.0 1162.2,854.0 1162.0,858.0 C1161.8,862.0 1161.2,865.0 1160.0,864.0 C1158.8,863.0 1156.0,856.0 1155.0,852.0 C1154.0,848.0 1154.0,843.7 1154.0,840.0 C1154.0,836.3 1154.3,833.5 1155.0,830.0Z" fill="none" stroke="#333333" stroke-width="1.3"/>
<path d="M1185.5,866.5 C1185.5,867.0 1185.4,867.6 1185.2,868.0 C1185.1,868.5 1184.8,869.0 1184.5,869.3 C1184.2,869.7 1183.8,870.0 1183.3,870.2 C1182.9,870.4 1182.4,870.5 1182.0,870.5 C1181.6,870.5 1181.1,870.4 1180.7,870.2 C1180.2,870.0 1179.8,869.7 1179.5,869.3 C1179.2,869.0 1178.9,868.5 1178.8,868.0 C1178.6,867.6 1178.5,867.0 1178.5,866.5 C1178.5,866.0 1178.6,865.4 1178.8,865.0 C1178.9,864.5 1179.2,864.0 1179.5,863.7 C1179.8,863.3 1180.2,863.0 1180.7,862.8 C1181.1,862.6 1181.6,862.5 1182.0,862.5 C1182.4,862.5 1182.9,862.6 1183.3,862.8 C1183.8,863.0 1184.2,863.3 1184.5,863.7 C1184.8,864.0 1185.1,864.5 1185.2,865.0 C1185.4,865.4 1185.5,866.0 1185.5,866.5Z" fill="none" stroke="#F28522" stroke-width="1.3"/>
<path d="M1185.5,894.0 C1185.5,895.1 1185.3,896.4 1185.0,897.4 C1184.6,898.5 1184.1,899.6 1183.4,900.4 C1182.8,901.2 1182.0,901.9 1181.2,902.3 C1180.4,902.8 1179.4,903.0 1178.5,903.0 C1177.6,903.0 1176.6,902.8 1175.8,902.3 C1175.0,901.9 1174.2,901.2 1173.6,900.4 C1172.9,899.6 1172.4,898.5 1172.0,897.4 C1171.7,896.4 1171.5,895.1 1171.5,894.0 C1171.5,892.9 1171.7,891.6 1172.0,890.6 C1172.4,889.5 1172.9,888.4 1173.6,887.6 C1174.2,886.8 1175.0,886.1 1175.8,885.7 C1176.6,885.2 1177.6,885.0 1178.5,885.0 C1179.4,885.0 1180.4,885.2 1181.2,885.7 C1182.0,886.1 1182.8,886.8 1183.4,887.6 C1184.1,888.4 1184.6,889.5 1185.0,890.6 C1185.3,891.6 1185.5,892.9 1185.5,894.0Z" fill="#333333"/><path d="M1180.2,892.5 C1180.2,892.8 1180.2,893.1 1180.1,893.4 C1180.0,893.6 1179.9,893.9 1179.7,894.1 C1179.6,894.3 1179.4,894.5 1179.2,894.6 C1179.0,894.7 1178.7,894.8 1178.5,894.8 C1178.3,894.8 1178.0,894.7 1177.8,894.6 C1177.6,894.5 1177.4,894.3 1177.3,894.1 C1177.1,893.9 1177.0,893.6 1176.9,893.4 C1176.8,893.1 1176.8,892.8 1176.8,892.5 C1176.8,892.2 1176.8,891.9 1176.9,891.6 C1177.0,891.4 1177.1,891.1 1177.3,890.9 C1177.4,890.7 1177.6,890.5 1177.8,890.4 C1178.0,890.3 1178.3,890.2 1178.5,890.2 C1178.7,890.2 1179.0,890.3 1179.2,890.4 C1179.4,890.5 1179.6,890.7 1179.7,890.9 C1179.9,891.1 1180.0,891.4 1180.1,891.6 C1180.2,891.9 1180.2,892.2 1180.2,892.5Z" fill="none" stroke="#fff" stroke-width="0.9"/>
<path d="M1165.0,955.0 C1165.3,951.2 1166.0,944.1 1168.0,941.0 C1170.0,937.9 1173.8,936.7 1177.0,936.5 C1180.2,936.3 1184.7,937.4 1187.0,940.0 C1189.3,942.6 1191.0,947.8 1191.0,952.0 C1191.0,956.2 1188.3,961.7 1187.0,965.0 C1185.7,968.3 1182.7,968.7 1183.0,972.0 C1183.3,975.3 1187.8,980.3 1189.0,985.0 C1190.2,989.7 1191.0,996.2 1190.0,1000.0 C1189.0,1003.8 1186.0,1006.7 1183.0,1008.0 C1180.0,1009.3 1175.0,1009.7 1172.0,1008.0 C1169.0,1006.3 1166.0,1002.3 1165.0,998.0 C1164.0,993.7 1165.0,986.3 1166.0,982.0 C1167.0,977.7 1171.0,975.0 1171.0,972.0 C1171.0,969.0 1167.0,966.8 1166.0,964.0 C1165.0,961.2 1164.7,958.8 1165.0,955.0Z" fill="#333333"/>
<path d="M1180.5,951.0 C1180.5,951.6 1180.4,952.3 1180.3,952.9 C1180.1,953.5 1179.9,954.1 1179.6,954.5 C1179.4,955.0 1179.0,955.4 1178.6,955.6 C1178.3,955.9 1177.9,956.0 1177.5,956.0 C1177.1,956.0 1176.7,955.9 1176.4,955.6 C1176.0,955.4 1175.6,955.0 1175.4,954.5 C1175.1,954.1 1174.9,953.5 1174.7,952.9 C1174.6,952.3 1174.5,951.6 1174.5,951.0 C1174.5,950.4 1174.6,949.7 1174.7,949.1 C1174.9,948.5 1175.1,947.9 1175.4,947.5 C1175.6,947.0 1176.0,946.6 1176.4,946.4 C1176.7,946.1 1177.1,946.0 1177.5,946.0 C1177.9,946.0 1178.3,946.1 1178.6,946.4 C1179.0,946.6 1179.4,947.0 1179.6,947.5 C1179.9,947.9 1180.1,948.5 1180.3,949.1 C1180.4,949.7 1180.5,950.4 1180.5,951.0Z" fill="none" stroke="#fff" stroke-width="1.3"/>
<path d="M1180.5,992.0 C1180.5,992.6 1180.4,993.2 1180.3,993.7 C1180.1,994.3 1179.9,994.8 1179.6,995.2 C1179.4,995.6 1179.0,995.9 1178.6,996.2 C1178.3,996.4 1177.9,996.5 1177.5,996.5 C1177.1,996.5 1176.7,996.4 1176.4,996.2 C1176.0,995.9 1175.6,995.6 1175.4,995.2 C1175.1,994.8 1174.9,994.3 1174.7,993.7 C1174.6,993.2 1174.5,992.6 1174.5,992.0 C1174.5,991.4 1174.6,990.8 1174.7,990.3 C1174.9,989.7 1175.1,989.2 1175.4,988.8 C1175.6,988.4 1176.0,988.1 1176.4,987.8 C1176.7,987.6 1177.1,987.5 1177.5,987.5 C1177.9,987.5 1178.3,987.6 1178.6,987.8 C1179.0,988.1 1179.4,988.4 1179.6,988.8 C1179.9,989.2 1180.1,989.7 1180.3,990.3 C1180.4,990.8 1180.5,991.4 1180.5,992.0Z" fill="none" stroke="#fff" stroke-width="1.3"/><path d="M1179.0,992.0 C1179.0,992.3 1179.0,992.6 1178.9,992.9 C1178.8,993.1 1178.7,993.4 1178.6,993.6 C1178.4,993.8 1178.3,994.0 1178.1,994.1 C1177.9,994.2 1177.7,994.2 1177.5,994.2 C1177.3,994.2 1177.1,994.2 1176.9,994.1 C1176.7,994.0 1176.6,993.8 1176.4,993.6 C1176.3,993.4 1176.2,993.1 1176.1,992.9 C1176.0,992.6 1176.0,992.3 1176.0,992.0 C1176.0,991.7 1176.0,991.4 1176.1,991.1 C1176.2,990.9 1176.3,990.6 1176.4,990.4 C1176.6,990.2 1176.7,990.0 1176.9,989.9 C1177.1,989.8 1177.3,989.8 1177.5,989.8 C1177.7,989.8 1177.9,989.8 1178.1,989.9 C1178.3,990.0 1178.4,990.2 1178.6,990.4 C1178.7,990.6 1178.8,990.9 1178.9,991.1 C1179.0,991.4 1179.0,991.7 1179.0,992.0Z" fill="none" stroke="#fff" stroke-width="1.3"/>
<path d="M1189.5,1035.0 C1189.5,1037.0 1189.2,1039.1 1188.7,1040.9 C1188.1,1042.8 1187.3,1044.6 1186.3,1046.0 C1185.3,1047.4 1184.0,1048.6 1182.7,1049.3 C1181.4,1050.1 1179.9,1050.5 1178.5,1050.5 C1177.1,1050.5 1175.6,1050.1 1174.3,1049.3 C1173.0,1048.6 1171.7,1047.4 1170.7,1046.0 C1169.7,1044.6 1168.9,1042.8 1168.3,1040.9 C1167.8,1039.1 1167.5,1037.0 1167.5,1035.0 C1167.5,1033.0 1167.8,1030.9 1168.3,1029.1 C1168.9,1027.2 1169.7,1025.4 1170.7,1024.0 C1171.7,1022.6 1173.0,1021.4 1174.3,1020.7 C1175.6,1019.9 1177.1,1019.5 1178.5,1019.5 C1179.9,1019.5 1181.4,1019.9 1182.7,1020.7 C1184.0,1021.4 1185.3,1022.6 1186.3,1024.0 C1187.3,1025.4 1188.1,1027.2 1188.7,1029.1 C1189.2,1030.9 1189.5,1033.0 1189.5,1035.0Z" fill="#333333"/><path d="M1182.9,1035.0 C1182.9,1035.8 1182.8,1036.6 1182.6,1037.4 C1182.4,1038.1 1182.0,1038.8 1181.6,1039.4 C1181.2,1039.9 1180.7,1040.4 1180.2,1040.7 C1179.7,1041.0 1179.1,1041.2 1178.5,1041.2 C1177.9,1041.2 1177.3,1041.0 1176.8,1040.7 C1176.3,1040.4 1175.8,1039.9 1175.4,1039.4 C1175.0,1038.8 1174.6,1038.1 1174.4,1037.4 C1174.2,1036.6 1174.1,1035.8 1174.1,1035.0 C1174.1,1034.2 1174.2,1033.4 1174.4,1032.6 C1174.6,1031.9 1175.0,1031.2 1175.4,1030.6 C1175.8,1030.1 1176.3,1029.6 1176.8,1029.3 C1177.3,1029.0 1177.9,1028.8 1178.5,1028.8 C1179.1,1028.8 1179.7,1029.0 1180.2,1029.3 C1180.7,1029.6 1181.2,1030.1 1181.6,1030.6 C1182.0,1031.2 1182.4,1031.9 1182.6,1032.6 C1182.8,1033.4 1182.9,1034.2 1182.9,1035.0Z" fill="none" stroke="#fff" stroke-width="0.9"/>
<path d="M1186.5,1086.0 C1186.5,1087.0 1186.3,1088.0 1185.9,1088.9 C1185.6,1089.8 1185.0,1090.6 1184.3,1091.3 C1183.6,1092.0 1182.8,1092.6 1181.9,1092.9 C1181.0,1093.3 1180.0,1093.5 1179.0,1093.5 C1178.0,1093.5 1177.0,1093.3 1176.1,1092.9 C1175.2,1092.6 1174.4,1092.0 1173.7,1091.3 C1173.0,1090.6 1172.4,1089.8 1172.1,1088.9 C1171.7,1088.0 1171.5,1087.0 1171.5,1086.0 C1171.5,1085.0 1171.7,1084.0 1172.1,1083.1 C1172.4,1082.2 1173.0,1081.4 1173.7,1080.7 C1174.4,1080.0 1175.2,1079.4 1176.1,1079.1 C1177.0,1078.7 1178.0,1078.5 1179.0,1078.5 C1180.0,1078.5 1181.0,1078.7 1181.9,1079.1 C1182.8,1079.4 1183.6,1080.0 1184.3,1080.7 C1185.0,1081.4 1185.6,1082.2 1185.9,1083.1 C1186.3,1084.0 1186.5,1085.0 1186.5,1086.0Z" fill="#333333"/><path d="M1182.0,1086.0 C1182.0,1086.4 1181.9,1086.8 1181.8,1087.1 C1181.6,1087.5 1181.4,1087.9 1181.1,1088.1 C1180.9,1088.4 1180.5,1088.6 1180.1,1088.8 C1179.8,1088.9 1179.4,1089.0 1179.0,1089.0 C1178.6,1089.0 1178.2,1088.9 1177.9,1088.8 C1177.5,1088.6 1177.1,1088.4 1176.9,1088.1 C1176.6,1087.9 1176.4,1087.5 1176.2,1087.1 C1176.1,1086.8 1176.0,1086.4 1176.0,1086.0 C1176.0,1085.6 1176.1,1085.2 1176.2,1084.9 C1176.4,1084.5 1176.6,1084.1 1176.9,1083.9 C1177.1,1083.6 1177.5,1083.4 1177.9,1083.2 C1178.2,1083.1 1178.6,1083.0 1179.0,1083.0 C1179.4,1083.0 1179.8,1083.1 1180.1,1083.2 C1180.5,1083.4 1180.9,1083.6 1181.1,1083.9 C1181.4,1084.1 1181.6,1084.5 1181.8,1084.9 C1181.9,1085.2 1182.0,1085.6 1182.0,1086.0Z" fill="none" stroke="#fff" stroke-width="0.9"/>
<path d="M1169.0,1135.0 C1168.8,1128.8 1170.3,1119.5 1172.0,1115.0 C1173.7,1110.5 1176.5,1108.5 1179.0,1108.0 C1181.5,1107.5 1185.2,1108.7 1187.0,1112.0 C1188.8,1115.3 1189.7,1122.5 1190.0,1128.0 C1190.3,1133.5 1190.5,1140.3 1189.0,1145.0 C1187.5,1149.7 1183.7,1154.8 1181.0,1156.0 C1178.3,1157.2 1175.0,1155.5 1173.0,1152.0 C1171.0,1148.5 1169.2,1141.2 1169.0,1135.0Z" fill="#F28522"/><path d="M1174.5,1131.2 C1174.4,1128.4 1175.1,1124.2 1175.8,1122.2 C1176.6,1120.1 1177.9,1119.2 1179.0,1119.0 C1180.1,1118.8 1181.8,1119.3 1182.6,1120.8 C1183.4,1122.3 1183.8,1125.5 1184.0,1128.0 C1184.1,1130.5 1184.2,1133.6 1183.5,1135.7 C1182.8,1137.8 1181.1,1140.1 1179.9,1140.6 C1178.7,1141.1 1177.2,1140.4 1176.3,1138.8 C1175.4,1137.2 1174.6,1133.9 1174.5,1131.2Z" fill="none" stroke="#fff" stroke-width="0.9"/><path d="M1176.0,1130.1 C1176.0,1128.2 1176.4,1125.4 1176.9,1124.1 C1177.4,1122.8 1178.2,1122.2 1179.0,1122.0 C1179.8,1121.8 1180.9,1122.2 1181.4,1123.2 C1182.0,1124.2 1182.2,1126.3 1182.3,1128.0 C1182.4,1129.7 1182.5,1131.7 1182.0,1133.1 C1181.5,1134.5 1180.4,1136.1 1179.6,1136.4 C1178.8,1136.8 1177.8,1136.2 1177.2,1135.2 C1176.6,1134.2 1176.0,1131.9 1176.0,1130.1Z" fill="none" stroke="#fff" stroke-width="0.9"/><path d="M1177.2,1129.3 C1177.2,1128.2 1177.4,1126.5 1177.7,1125.7 C1178.0,1124.9 1178.5,1124.5 1179.0,1124.4 C1179.5,1124.3 1180.1,1124.5 1180.4,1125.1 C1180.8,1125.7 1180.9,1127.0 1181.0,1128.0 C1181.0,1129.0 1181.1,1130.2 1180.8,1131.1 C1180.5,1131.9 1179.8,1132.8 1179.4,1133.0 C1178.9,1133.2 1178.3,1132.9 1177.9,1132.3 C1177.6,1131.7 1177.2,1130.4 1177.2,1129.3Z" fill="none" stroke="#fff" stroke-width="0.9"/>
<path d="M1193.0,1210.5 C1193.0,1212.2 1192.7,1214.1 1192.1,1215.7 C1191.5,1217.3 1190.6,1218.8 1189.5,1220.0 C1188.4,1221.3 1187.0,1222.3 1185.6,1223.0 C1184.2,1223.6 1182.5,1224.0 1181.0,1224.0 C1179.5,1224.0 1177.8,1223.6 1176.4,1223.0 C1175.0,1222.3 1173.6,1221.3 1172.5,1220.0 C1171.4,1218.8 1170.5,1217.3 1169.9,1215.7 C1169.3,1214.1 1169.0,1212.2 1169.0,1210.5 C1169.0,1208.8 1169.3,1206.9 1169.9,1205.3 C1170.5,1203.7 1171.4,1202.2 1172.5,1201.0 C1173.6,1199.7 1175.0,1198.7 1176.4,1198.0 C1177.8,1197.4 1179.5,1197.0 1181.0,1197.0 C1182.5,1197.0 1184.2,1197.4 1185.6,1198.0 C1187.0,1198.7 1188.4,1199.7 1189.5,1201.0 C1190.6,1202.2 1191.5,1203.7 1192.1,1205.3 C1192.7,1206.9 1193.0,1208.8 1193.0,1210.5Z" fill="#333333"/><path d="M1185.2,1210.5 C1185.2,1211.1 1185.1,1211.8 1184.9,1212.3 C1184.7,1212.9 1184.3,1213.4 1184.0,1213.8 C1183.6,1214.3 1183.1,1214.6 1182.6,1214.9 C1182.1,1215.1 1181.5,1215.2 1181.0,1215.2 C1180.5,1215.2 1179.9,1215.1 1179.4,1214.9 C1178.9,1214.6 1178.4,1214.3 1178.0,1213.8 C1177.7,1213.4 1177.3,1212.9 1177.1,1212.3 C1176.9,1211.8 1176.8,1211.1 1176.8,1210.5 C1176.8,1209.9 1176.9,1209.2 1177.1,1208.7 C1177.3,1208.1 1177.7,1207.6 1178.0,1207.2 C1178.4,1206.7 1178.9,1206.4 1179.4,1206.1 C1179.9,1205.9 1180.5,1205.8 1181.0,1205.8 C1181.5,1205.8 1182.1,1205.9 1182.6,1206.1 C1183.1,1206.4 1183.6,1206.7 1184.0,1207.2 C1184.3,1207.6 1184.7,1208.1 1184.9,1208.7 C1185.1,1209.2 1185.2,1209.9 1185.2,1210.5Z" fill="none" stroke="#fff" stroke-width="0.9"/><path d="M1183.4,1210.5 C1183.4,1210.8 1183.3,1211.2 1183.2,1211.5 C1183.1,1211.9 1182.9,1212.2 1182.7,1212.4 C1182.5,1212.7 1182.2,1212.9 1181.9,1213.0 C1181.6,1213.1 1181.3,1213.2 1181.0,1213.2 C1180.7,1213.2 1180.4,1213.1 1180.1,1213.0 C1179.8,1212.9 1179.5,1212.7 1179.3,1212.4 C1179.1,1212.2 1178.9,1211.9 1178.8,1211.5 C1178.7,1211.2 1178.6,1210.8 1178.6,1210.5 C1178.6,1210.2 1178.7,1209.8 1178.8,1209.5 C1178.9,1209.1 1179.1,1208.8 1179.3,1208.6 C1179.5,1208.3 1179.8,1208.1 1180.1,1208.0 C1180.4,1207.9 1180.7,1207.8 1181.0,1207.8 C1181.3,1207.8 1181.6,1207.9 1181.9,1208.0 C1182.2,1208.1 1182.5,1208.3 1182.7,1208.6 C1182.9,1208.8 1183.1,1209.1 1183.2,1209.5 C1183.3,1209.8 1183.4,1210.2 1183.4,1210.5Z" fill="none" stroke="#fff" stroke-width="0.9"/>
<path d="M1168.5,1295.0 C1165.7,1292.5 1169.1,1284.8 1170.0,1280.0 C1170.9,1275.2 1172.8,1269.1 1174.0,1266.0 C1175.2,1262.9 1175.8,1261.5 1177.0,1261.5 C1178.2,1261.5 1179.7,1262.9 1181.0,1266.0 C1182.3,1269.1 1184.0,1275.2 1185.0,1280.0 C1186.0,1284.8 1189.8,1292.5 1187.0,1295.0 C1184.2,1297.5 1171.3,1297.5 1168.5,1295.0Z" fill="#333333"/><path d="M1174.0,1287.2 C1173.0,1286.3 1174.2,1283.6 1174.5,1282.0 C1174.9,1280.3 1175.5,1278.1 1176.0,1277.0 C1176.4,1276.0 1176.6,1275.5 1177.0,1275.5 C1177.4,1275.5 1177.9,1276.0 1178.4,1277.0 C1178.9,1278.1 1179.5,1280.3 1179.8,1282.0 C1180.1,1283.6 1181.5,1286.3 1180.5,1287.2 C1179.5,1288.1 1175.0,1288.1 1174.0,1287.2Z" fill="none" stroke="#fff" stroke-width="0.9"/>
<path d="M1163.8,1209.8 C1163.6,1210.8 1163.3,1212.0 1162.9,1212.9 C1162.5,1213.9 1162.0,1214.8 1161.5,1215.5 C1161.0,1216.2 1160.3,1216.7 1159.7,1217.0 C1159.1,1217.3 1158.5,1217.5 1157.9,1217.4 C1157.4,1217.3 1156.8,1216.9 1156.3,1216.4 C1155.9,1215.9 1155.5,1215.2 1155.2,1214.4 C1155.0,1213.5 1154.8,1212.5 1154.7,1211.5 C1154.7,1210.5 1154.8,1209.3 1155.0,1208.2 C1155.2,1207.2 1155.5,1206.0 1155.9,1205.1 C1156.3,1204.1 1156.8,1203.2 1157.3,1202.5 C1157.8,1201.8 1158.5,1201.3 1159.1,1201.0 C1159.7,1200.7 1160.3,1200.5 1160.9,1200.6 C1161.4,1200.7 1162.0,1201.1 1162.5,1201.6 C1162.9,1202.1 1163.3,1202.8 1163.6,1203.6 C1163.8,1204.5 1164.0,1205.5 1164.1,1206.5 C1164.1,1207.5 1164.0,1208.7 1163.8,1209.8Z" fill="none" stroke="#F28522" stroke-width="1.3"/><path d="M1161.2,1209.3 C1161.1,1209.7 1161.0,1210.2 1160.8,1210.6 C1160.7,1210.9 1160.4,1211.3 1160.2,1211.6 C1160.0,1211.9 1159.8,1212.1 1159.5,1212.2 C1159.3,1212.3 1159.0,1212.4 1158.8,1212.3 C1158.6,1212.3 1158.4,1212.2 1158.2,1212.0 C1158.0,1211.8 1157.8,1211.5 1157.7,1211.1 C1157.6,1210.8 1157.6,1210.4 1157.5,1210.0 C1157.5,1209.6 1157.6,1209.1 1157.6,1208.7 C1157.7,1208.3 1157.8,1207.8 1158.0,1207.4 C1158.1,1207.1 1158.4,1206.7 1158.6,1206.4 C1158.8,1206.1 1159.0,1205.9 1159.3,1205.8 C1159.5,1205.7 1159.8,1205.6 1160.0,1205.7 C1160.2,1205.7 1160.4,1205.8 1160.6,1206.0 C1160.8,1206.2 1161.0,1206.5 1161.1,1206.9 C1161.2,1207.2 1161.2,1207.6 1161.3,1208.0 C1161.3,1208.4 1161.2,1208.9 1161.2,1209.3Z" fill="none" stroke="#F28522" stroke-width="1.3"/>
<path d="M1159.7,1093.5 C1159.7,1093.8 1159.7,1094.2 1159.6,1094.5 C1159.5,1094.8 1159.4,1095.0 1159.3,1095.3 C1159.1,1095.5 1159.0,1095.7 1158.8,1095.8 C1158.6,1095.9 1158.4,1096.0 1158.2,1096.0 C1158.0,1096.0 1157.8,1095.9 1157.6,1095.8 C1157.4,1095.7 1157.3,1095.5 1157.1,1095.3 C1157.0,1095.0 1156.9,1094.8 1156.8,1094.5 C1156.7,1094.2 1156.7,1093.8 1156.7,1093.5 C1156.7,1093.2 1156.7,1092.8 1156.8,1092.5 C1156.9,1092.2 1157.0,1092.0 1157.1,1091.7 C1157.3,1091.5 1157.4,1091.3 1157.6,1091.2 C1157.8,1091.1 1158.0,1091.0 1158.2,1091.0 C1158.4,1091.0 1158.6,1091.1 1158.8,1091.2 C1159.0,1091.3 1159.1,1091.5 1159.3,1091.7 C1159.4,1092.0 1159.5,1092.2 1159.6,1092.5 C1159.7,1092.8 1159.7,1093.2 1159.7,1093.5Z" fill="none" stroke="#F28522" stroke-width="1.3"/>
<path d="M1228.0,957.0 C1228.5,954.8 1230.5,955.2 1231.0,957.0 C1231.5,958.8 1230.7,963.3 1231.0,968.0 C1231.3,972.7 1233.2,980.8 1233.0,985.0 C1232.8,989.2 1231.2,991.7 1230.0,993.0 C1228.8,994.3 1226.8,994.7 1226.0,993.0 C1225.2,991.3 1224.7,986.8 1225.0,983.0 C1225.3,979.2 1227.5,974.3 1228.0,970.0 C1228.5,965.7 1227.5,959.2 1228.0,957.0Z" fill="none" stroke="#333333" stroke-width="1.3"/>
<path d="M1391.6,978.6 C1391.6,978.9 1391.5,979.3 1391.4,979.6 C1391.3,979.9 1391.1,980.1 1390.9,980.4 C1390.6,980.6 1390.4,980.8 1390.1,980.9 C1389.8,981.0 1389.4,981.1 1389.1,981.1 C1388.8,981.1 1388.4,981.0 1388.1,980.9 C1387.8,980.8 1387.6,980.6 1387.3,980.4 C1387.1,980.1 1386.9,979.9 1386.8,979.6 C1386.7,979.3 1386.6,978.9 1386.6,978.6 C1386.6,978.3 1386.7,977.9 1386.8,977.6 C1386.9,977.3 1387.1,977.1 1387.3,976.8 C1387.6,976.6 1387.8,976.4 1388.1,976.3 C1388.4,976.2 1388.8,976.1 1389.1,976.1 C1389.4,976.1 1389.8,976.2 1390.1,976.3 C1390.4,976.4 1390.6,976.6 1390.9,976.8 C1391.1,977.1 1391.3,977.3 1391.4,977.6 C1391.5,977.9 1391.6,978.3 1391.6,978.6Z" fill="none" stroke="#F28522" stroke-width="1.3"/>
<path d="M1337.5,1170.0 C1337.8,1166.3 1338.6,1160.2 1341.0,1157.0 C1343.4,1153.8 1348.0,1151.2 1352.0,1150.5 C1356.0,1149.8 1361.7,1150.9 1365.0,1153.0 C1368.3,1155.1 1370.8,1159.3 1372.0,1163.0 C1373.2,1166.7 1373.5,1171.9 1372.0,1175.0 C1370.5,1178.1 1367.0,1180.3 1363.0,1181.5 C1359.0,1182.7 1352.0,1182.4 1348.0,1182.0 C1344.0,1181.6 1340.8,1181.0 1339.0,1179.0 C1337.2,1177.0 1337.2,1173.7 1337.5,1170.0Z" fill="#333333"/><path d="M1345.8,1168.0 C1345.9,1166.2 1346.3,1163.1 1347.5,1161.5 C1348.7,1159.9 1351.0,1158.6 1353.0,1158.2 C1355.0,1157.9 1357.8,1158.5 1359.5,1159.5 C1361.2,1160.5 1362.4,1162.7 1363.0,1164.5 C1363.6,1166.3 1363.8,1169.0 1363.0,1170.5 C1362.2,1172.0 1360.5,1173.2 1358.5,1173.8 C1356.5,1174.3 1353.0,1174.2 1351.0,1174.0 C1349.0,1173.8 1347.4,1173.5 1346.5,1172.5 C1345.6,1171.5 1345.6,1169.8 1345.8,1168.0Z" fill="none" stroke="#fff" stroke-width="0.9"/><path d="M1347.4,1167.6 C1347.5,1166.1 1347.8,1163.7 1348.8,1162.4 C1349.8,1161.1 1351.6,1160.1 1353.2,1159.8 C1354.8,1159.5 1357.1,1160.0 1358.4,1160.8 C1359.7,1161.6 1360.7,1163.3 1361.2,1164.8 C1361.7,1166.3 1361.8,1168.4 1361.2,1169.6 C1360.6,1170.8 1359.2,1171.7 1357.6,1172.2 C1356.0,1172.7 1353.2,1172.6 1351.6,1172.4 C1350.0,1172.2 1348.7,1172.0 1348.0,1171.2 C1347.3,1170.4 1347.3,1169.1 1347.4,1167.6Z" fill="none" stroke="#fff" stroke-width="0.9"/><path d="M1348.9,1167.2 C1349.0,1166.1 1349.2,1164.2 1350.0,1163.2 C1350.7,1162.2 1352.1,1161.4 1353.4,1161.2 C1354.6,1161.0 1356.4,1161.3 1357.4,1162.0 C1358.4,1162.6 1359.2,1163.9 1359.6,1165.1 C1359.9,1166.2 1360.0,1167.8 1359.6,1168.8 C1359.1,1169.7 1358.0,1170.4 1356.8,1170.8 C1355.5,1171.2 1353.4,1171.1 1352.1,1171.0 C1350.9,1170.8 1349.9,1170.7 1349.3,1170.0 C1348.8,1169.4 1348.8,1168.4 1348.9,1167.2Z" fill="none" stroke="#fff" stroke-width="0.9"/><path d="M1350.4,1166.9 C1350.4,1166.1 1350.6,1164.7 1351.1,1164.0 C1351.7,1163.3 1352.7,1162.7 1353.6,1162.6 C1354.4,1162.4 1355.7,1162.7 1356.4,1163.1 C1357.2,1163.6 1357.7,1164.5 1358.0,1165.3 C1358.2,1166.1 1358.3,1167.3 1358.0,1168.0 C1357.6,1168.7 1356.9,1169.2 1356.0,1169.4 C1355.1,1169.7 1353.6,1169.6 1352.7,1169.5 C1351.8,1169.4 1351.1,1169.3 1350.7,1168.9 C1350.3,1168.4 1350.3,1167.7 1350.4,1166.9Z" fill="none" stroke="#fff" stroke-width="0.9"/><path d="M1351.7,1166.6 C1351.7,1166.0 1351.8,1165.2 1352.2,1164.7 C1352.5,1164.3 1353.2,1163.9 1353.7,1163.8 C1354.3,1163.7 1355.1,1163.9 1355.5,1164.2 C1356.0,1164.5 1356.4,1165.1 1356.5,1165.6 C1356.7,1166.1 1356.7,1166.8 1356.5,1167.3 C1356.3,1167.7 1355.8,1168.0 1355.3,1168.2 C1354.7,1168.3 1353.7,1168.3 1353.2,1168.2 C1352.6,1168.2 1352.1,1168.1 1351.9,1167.8 C1351.7,1167.5 1351.6,1167.1 1351.7,1166.6Z" fill="none" stroke="#fff" stroke-width="0.9"/>
<path d="M1389.0,1165.0 C1389.2,1161.8 1391.0,1156.4 1393.0,1153.0 C1395.0,1149.6 1398.5,1145.0 1401.0,1144.5 C1403.5,1144.0 1405.8,1146.9 1408.0,1150.0 C1410.2,1153.1 1413.3,1159.2 1414.0,1163.0 C1414.7,1166.8 1414.0,1171.0 1412.0,1173.0 C1410.0,1175.0 1405.3,1175.2 1402.0,1175.0 C1398.7,1174.8 1394.2,1173.7 1392.0,1172.0 C1389.8,1170.3 1388.8,1168.2 1389.0,1165.0Z" fill="#333333"/><path d="M1395.5,1162.2 C1395.6,1160.7 1396.5,1158.0 1397.5,1156.2 C1398.5,1154.5 1400.2,1152.2 1401.5,1152.0 C1402.8,1151.8 1403.9,1153.2 1405.0,1154.8 C1406.1,1156.3 1407.7,1159.3 1408.0,1161.2 C1408.3,1163.2 1408.0,1165.2 1407.0,1166.2 C1406.0,1167.2 1403.7,1167.3 1402.0,1167.2 C1400.3,1167.2 1398.1,1166.6 1397.0,1165.8 C1395.9,1164.9 1395.4,1163.8 1395.5,1162.2Z" fill="none" stroke="#fff" stroke-width="0.9"/><path d="M1396.8,1161.7 C1396.9,1160.4 1397.6,1158.3 1398.4,1156.9 C1399.2,1155.5 1400.6,1153.7 1401.6,1153.5 C1402.6,1153.3 1403.5,1154.5 1404.4,1155.7 C1405.3,1156.9 1406.5,1159.4 1406.8,1160.9 C1407.1,1162.4 1406.8,1164.1 1406.0,1164.9 C1405.2,1165.7 1403.3,1165.8 1402.0,1165.7 C1400.7,1165.6 1398.9,1165.2 1398.0,1164.5 C1397.1,1163.8 1396.7,1163.0 1396.8,1161.7Z" fill="none" stroke="#fff" stroke-width="0.9"/><path d="M1398.0,1161.2 C1398.0,1160.2 1398.6,1158.5 1399.2,1157.5 C1399.8,1156.4 1400.9,1155.0 1401.7,1154.8 C1402.5,1154.7 1403.2,1155.6 1403.9,1156.6 C1404.5,1157.5 1405.5,1159.4 1405.7,1160.6 C1405.9,1161.8 1405.7,1163.1 1405.1,1163.7 C1404.5,1164.3 1403.0,1164.4 1402.0,1164.3 C1401.0,1164.3 1399.6,1163.9 1398.9,1163.4 C1398.2,1162.9 1397.9,1162.2 1398.0,1161.2Z" fill="none" stroke="#fff" stroke-width="0.9"/><path d="M1399.1,1160.7 C1399.2,1160.0 1399.6,1158.8 1400.0,1158.1 C1400.5,1157.3 1401.2,1156.3 1401.8,1156.2 C1402.3,1156.1 1402.8,1156.7 1403.3,1157.4 C1403.8,1158.1 1404.5,1159.4 1404.6,1160.3 C1404.8,1161.1 1404.6,1162.0 1404.2,1162.5 C1403.8,1162.9 1402.7,1162.9 1402.0,1162.9 C1401.3,1162.9 1400.3,1162.6 1399.8,1162.2 C1399.3,1161.9 1399.1,1161.4 1399.1,1160.7Z" fill="none" stroke="#fff" stroke-width="0.9"/><path d="M1400.2,1160.3 C1400.2,1159.8 1400.5,1159.1 1400.7,1158.6 C1401.0,1158.1 1401.5,1157.5 1401.9,1157.4 C1402.2,1157.3 1402.5,1157.7 1402.8,1158.2 C1403.1,1158.6 1403.6,1159.5 1403.7,1160.0 C1403.8,1160.5 1403.7,1161.1 1403.4,1161.4 C1403.1,1161.7 1402.5,1161.7 1402.0,1161.7 C1401.5,1161.6 1400.9,1161.5 1400.6,1161.2 C1400.3,1161.0 1400.2,1160.7 1400.2,1160.3Z" fill="none" stroke="#fff" stroke-width="0.9"/>
<path d="M1448.0,1170.0 C1448.3,1167.5 1450.0,1163.7 1452.0,1162.0 C1454.0,1160.3 1457.7,1159.8 1460.0,1160.0 C1462.3,1160.2 1464.0,1163.2 1466.0,1163.0 C1468.0,1162.8 1469.8,1159.7 1472.0,1159.0 C1474.2,1158.3 1477.5,1157.8 1479.0,1159.0 C1480.5,1160.2 1481.5,1164.0 1481.0,1166.0 C1480.5,1168.0 1478.5,1170.0 1476.0,1171.0 C1473.5,1172.0 1469.0,1171.0 1466.0,1172.0 C1463.0,1173.0 1460.7,1176.2 1458.0,1177.0 C1455.3,1177.8 1451.7,1178.2 1450.0,1177.0 C1448.3,1175.8 1447.7,1172.5 1448.0,1170.0Z" fill="#333333"/><path d="M1452.8,1169.2 C1453.0,1167.7 1454.0,1165.4 1455.2,1164.4 C1456.4,1163.4 1458.6,1163.1 1460.0,1163.2 C1461.4,1163.3 1462.4,1165.1 1463.6,1165.0 C1464.8,1164.9 1465.9,1163.0 1467.2,1162.6 C1468.5,1162.2 1470.5,1161.9 1471.4,1162.6 C1472.3,1163.3 1472.9,1165.6 1472.6,1166.8 C1472.3,1168.0 1471.1,1169.2 1469.6,1169.8 C1468.1,1170.4 1465.4,1169.8 1463.6,1170.4 C1461.8,1171.0 1460.4,1172.9 1458.8,1173.4 C1457.2,1173.9 1455.0,1174.1 1454.0,1173.4 C1453.0,1172.7 1452.6,1170.7 1452.8,1169.2Z" fill="none" stroke="#fff" stroke-width="0.9"/>
<path d="M1450.0,1116.0 C1451.8,1115.3 1453.3,1116.3 1455.0,1118.0 C1456.7,1119.7 1459.0,1123.0 1460.0,1126.0 C1461.0,1129.0 1461.5,1133.3 1461.0,1136.0 C1460.5,1138.7 1458.8,1140.8 1457.0,1142.0 C1455.2,1143.2 1452.3,1143.7 1450.0,1143.5 C1447.7,1143.3 1444.4,1142.8 1443.0,1141.0 C1441.6,1139.2 1441.3,1136.2 1441.5,1133.0 C1441.7,1129.8 1442.6,1124.8 1444.0,1122.0 C1445.4,1119.2 1448.2,1116.7 1450.0,1116.0Z" fill="none" stroke="#F28522" stroke-width="1.9"/><path d="M1450.2,1119.5 C1451.7,1119.0 1452.8,1119.8 1454.1,1121.1 C1455.4,1122.4 1457.2,1125.0 1458.0,1127.3 C1458.8,1129.7 1459.2,1133.0 1458.8,1135.1 C1458.4,1137.2 1457.1,1138.8 1455.7,1139.8 C1454.2,1140.8 1452.0,1141.1 1450.2,1141.0 C1448.4,1140.8 1445.9,1140.4 1444.8,1139.0 C1443.7,1137.7 1443.5,1135.2 1443.6,1132.8 C1443.7,1130.3 1444.4,1126.4 1445.5,1124.2 C1446.6,1122.0 1448.8,1120.0 1450.2,1119.5Z" fill="none" stroke="#F28522" stroke-width="1.9"/><path d="M1450.4,1122.7 C1451.5,1122.3 1452.4,1122.9 1453.3,1123.9 C1454.3,1124.8 1455.6,1126.8 1456.2,1128.5 C1456.8,1130.3 1457.1,1132.8 1456.8,1134.3 C1456.5,1135.9 1455.5,1137.1 1454.5,1137.8 C1453.4,1138.5 1451.8,1138.8 1450.4,1138.7 C1449.1,1138.6 1447.2,1138.2 1446.4,1137.2 C1445.5,1136.2 1445.4,1134.4 1445.5,1132.6 C1445.6,1130.7 1446.1,1127.8 1446.9,1126.2 C1447.8,1124.6 1449.4,1123.1 1450.4,1122.7Z" fill="none" stroke="#F28522" stroke-width="1.9"/><path d="M1450.6,1125.6 C1451.3,1125.3 1451.9,1125.7 1452.6,1126.4 C1453.3,1127.1 1454.2,1128.4 1454.6,1129.6 C1455.0,1130.8 1455.2,1132.5 1455.0,1133.6 C1454.8,1134.7 1454.1,1135.5 1453.4,1136.0 C1452.7,1136.5 1451.5,1136.7 1450.6,1136.6 C1449.7,1136.5 1448.4,1136.3 1447.8,1135.6 C1447.2,1134.9 1447.1,1133.7 1447.2,1132.4 C1447.3,1131.1 1447.6,1129.1 1448.2,1128.0 C1448.8,1126.9 1449.9,1125.9 1450.6,1125.6Z" fill="none" stroke="#F28522" stroke-width="1.9"/>
<path d="M1231.0,1230.5 C1231.3,1232.1 1231.4,1233.8 1231.4,1235.3 C1231.4,1236.8 1231.2,1238.3 1230.9,1239.5 C1230.6,1240.7 1230.1,1241.8 1229.5,1242.5 C1228.9,1243.2 1228.2,1243.7 1227.5,1243.8 C1226.7,1243.9 1225.9,1243.7 1225.1,1243.3 C1224.3,1242.8 1223.5,1241.9 1222.8,1240.9 C1222.1,1239.9 1221.4,1238.5 1220.9,1237.1 C1220.3,1235.7 1219.9,1234.1 1219.6,1232.5 C1219.3,1230.9 1219.2,1229.2 1219.2,1227.7 C1219.2,1226.2 1219.4,1224.7 1219.7,1223.5 C1220.0,1222.3 1220.5,1221.2 1221.1,1220.5 C1221.7,1219.8 1222.4,1219.3 1223.1,1219.2 C1223.9,1219.1 1224.7,1219.3 1225.5,1219.7 C1226.3,1220.2 1227.1,1221.1 1227.8,1222.1 C1228.5,1223.1 1229.2,1224.5 1229.7,1225.9 C1230.3,1227.3 1230.7,1228.9 1231.0,1230.5Z" fill="none" stroke="#333333" stroke-width="1.3"/><path d="M1229.6,1230.7 C1229.8,1231.9 1229.9,1233.2 1229.9,1234.3 C1229.9,1235.5 1229.7,1236.6 1229.5,1237.5 C1229.2,1238.4 1228.9,1239.2 1228.4,1239.7 C1228.0,1240.3 1227.5,1240.6 1226.9,1240.7 C1226.4,1240.8 1225.7,1240.7 1225.2,1240.3 C1224.6,1240.0 1224.0,1239.3 1223.4,1238.6 C1222.9,1237.8 1222.4,1236.8 1222.0,1235.7 C1221.6,1234.7 1221.2,1233.4 1221.0,1232.3 C1220.8,1231.1 1220.7,1229.8 1220.7,1228.7 C1220.7,1227.5 1220.9,1226.4 1221.1,1225.5 C1221.4,1224.6 1221.7,1223.8 1222.2,1223.3 C1222.6,1222.7 1223.1,1222.4 1223.7,1222.3 C1224.2,1222.2 1224.9,1222.3 1225.4,1222.7 C1226.0,1223.0 1226.6,1223.7 1227.2,1224.4 C1227.7,1225.2 1228.2,1226.2 1228.6,1227.3 C1229.0,1228.3 1229.4,1229.6 1229.6,1230.7Z" fill="none" stroke="#333333" stroke-width="1.3"/><path d="M1228.2,1231.0 C1228.3,1231.8 1228.4,1232.6 1228.4,1233.4 C1228.3,1234.1 1228.2,1234.9 1228.1,1235.5 C1227.9,1236.1 1227.7,1236.6 1227.4,1237.0 C1227.1,1237.4 1226.7,1237.6 1226.4,1237.7 C1226.0,1237.7 1225.6,1237.6 1225.2,1237.4 C1224.8,1237.1 1224.4,1236.7 1224.0,1236.2 C1223.7,1235.7 1223.3,1235.0 1223.1,1234.3 C1222.8,1233.6 1222.6,1232.8 1222.4,1232.0 C1222.3,1231.2 1222.2,1230.4 1222.2,1229.6 C1222.3,1228.9 1222.4,1228.1 1222.5,1227.5 C1222.7,1226.9 1222.9,1226.4 1223.2,1226.0 C1223.5,1225.6 1223.9,1225.4 1224.2,1225.3 C1224.6,1225.3 1225.0,1225.4 1225.4,1225.6 C1225.8,1225.9 1226.2,1226.3 1226.6,1226.8 C1226.9,1227.3 1227.3,1228.0 1227.5,1228.7 C1227.8,1229.4 1228.0,1230.2 1228.2,1231.0Z" fill="none" stroke="#333333" stroke-width="1.3"/>
<path d="M1302.5,1232.0 C1302.8,1229.3 1303.4,1225.8 1305.0,1224.0 C1306.6,1222.2 1309.5,1221.3 1312.0,1221.5 C1314.5,1221.7 1318.2,1222.8 1320.0,1225.0 C1321.8,1227.2 1323.0,1231.3 1323.0,1235.0 C1323.0,1238.7 1321.7,1243.5 1320.0,1247.0 C1318.3,1250.5 1315.3,1255.5 1313.0,1256.0 C1310.7,1256.5 1307.7,1252.7 1306.0,1250.0 C1304.3,1247.3 1303.6,1243.0 1303.0,1240.0 C1302.4,1237.0 1302.2,1234.7 1302.5,1232.0Z" fill="#333333"/><path d="M1304.9,1233.5 C1305.1,1231.5 1305.6,1228.8 1306.8,1227.5 C1307.9,1226.2 1310.1,1225.5 1312.0,1225.6 C1313.9,1225.8 1316.6,1226.6 1318.0,1228.2 C1319.4,1229.9 1320.2,1233.0 1320.2,1235.8 C1320.2,1238.5 1319.2,1242.1 1318.0,1244.8 C1316.8,1247.4 1314.5,1251.1 1312.8,1251.5 C1311.0,1251.9 1308.8,1249.0 1307.5,1247.0 C1306.2,1245.0 1305.7,1241.8 1305.2,1239.5 C1304.8,1237.2 1304.6,1235.5 1304.9,1233.5Z" fill="none" stroke="#fff" stroke-width="0.9"/><path d="M1306.8,1234.7 C1307.0,1233.2 1307.3,1231.3 1308.2,1230.3 C1309.0,1229.3 1310.6,1228.8 1312.0,1228.9 C1313.4,1229.0 1315.4,1229.6 1316.4,1230.8 C1317.4,1232.1 1318.0,1234.3 1318.0,1236.3 C1318.0,1238.4 1317.3,1241.0 1316.4,1243.0 C1315.5,1244.9 1313.8,1247.6 1312.5,1247.9 C1311.3,1248.2 1309.6,1246.1 1308.7,1244.6 C1307.8,1243.1 1307.4,1240.8 1307.0,1239.1 C1306.7,1237.4 1306.6,1236.2 1306.8,1234.7Z" fill="none" stroke="#fff" stroke-width="0.9"/><path d="M1308.7,1235.9 C1308.8,1235.0 1309.0,1233.7 1309.5,1233.1 C1310.1,1232.5 1311.1,1232.2 1312.0,1232.2 C1312.9,1232.3 1314.2,1232.7 1314.8,1233.5 C1315.4,1234.2 1315.8,1235.7 1315.8,1237.0 C1315.8,1238.2 1315.4,1239.9 1314.8,1241.2 C1314.2,1242.4 1313.2,1244.1 1312.3,1244.3 C1311.5,1244.5 1310.5,1243.1 1309.9,1242.2 C1309.3,1241.3 1309.1,1239.8 1308.8,1238.7 C1308.6,1237.7 1308.6,1236.8 1308.7,1235.9Z" fill="none" stroke="#fff" stroke-width="0.9"/>
<path d="M1341.1,1233.5 C1341.1,1235.0 1340.9,1236.5 1340.5,1237.9 C1340.1,1239.3 1339.5,1240.6 1338.8,1241.6 C1338.1,1242.7 1337.2,1243.6 1336.3,1244.1 C1335.4,1244.7 1334.3,1245.0 1333.3,1245.0 C1332.3,1245.0 1331.2,1244.7 1330.3,1244.1 C1329.4,1243.6 1328.5,1242.7 1327.8,1241.6 C1327.1,1240.6 1326.5,1239.3 1326.1,1237.9 C1325.7,1236.5 1325.5,1235.0 1325.5,1233.5 C1325.5,1232.0 1325.7,1230.5 1326.1,1229.1 C1326.5,1227.7 1327.1,1226.4 1327.8,1225.4 C1328.5,1224.3 1329.4,1223.4 1330.3,1222.9 C1331.2,1222.3 1332.3,1222.0 1333.3,1222.0 C1334.3,1222.0 1335.4,1222.3 1336.3,1222.9 C1337.2,1223.4 1338.1,1224.3 1338.8,1225.4 C1339.5,1226.4 1340.1,1227.7 1340.5,1229.1 C1340.9,1230.5 1341.1,1232.0 1341.1,1233.5Z" fill="none" stroke="#333333" stroke-width="1.3"/><path d="M1339.1,1233.5 C1339.1,1234.6 1339.0,1235.8 1338.7,1236.8 C1338.4,1237.8 1338.0,1238.8 1337.4,1239.6 C1336.9,1240.4 1336.2,1241.0 1335.5,1241.5 C1334.8,1241.9 1334.0,1242.1 1333.3,1242.1 C1332.6,1242.1 1331.8,1241.9 1331.1,1241.5 C1330.4,1241.0 1329.7,1240.4 1329.2,1239.6 C1328.6,1238.8 1328.2,1237.8 1327.9,1236.8 C1327.6,1235.8 1327.5,1234.6 1327.5,1233.5 C1327.5,1232.4 1327.6,1231.2 1327.9,1230.2 C1328.2,1229.2 1328.6,1228.2 1329.2,1227.4 C1329.7,1226.6 1330.4,1226.0 1331.1,1225.5 C1331.8,1225.1 1332.6,1224.9 1333.3,1224.9 C1334.0,1224.9 1334.8,1225.1 1335.5,1225.5 C1336.2,1226.0 1336.9,1226.6 1337.4,1227.4 C1338.0,1228.2 1338.4,1229.2 1338.7,1230.2 C1339.0,1231.2 1339.1,1232.4 1339.1,1233.5Z" fill="none" stroke="#333333" stroke-width="1.3"/><path d="M1337.2,1233.5 C1337.2,1234.2 1337.1,1235.0 1336.9,1235.7 C1336.7,1236.4 1336.4,1237.0 1336.1,1237.6 C1335.7,1238.1 1335.3,1238.5 1334.8,1238.8 C1334.3,1239.1 1333.8,1239.2 1333.3,1239.2 C1332.8,1239.2 1332.3,1239.1 1331.8,1238.8 C1331.3,1238.5 1330.9,1238.1 1330.5,1237.6 C1330.2,1237.0 1329.9,1236.4 1329.7,1235.7 C1329.5,1235.0 1329.4,1234.2 1329.4,1233.5 C1329.4,1232.8 1329.5,1232.0 1329.7,1231.3 C1329.9,1230.6 1330.2,1230.0 1330.5,1229.4 C1330.9,1228.9 1331.3,1228.5 1331.8,1228.2 C1332.3,1227.9 1332.8,1227.8 1333.3,1227.8 C1333.8,1227.8 1334.3,1227.9 1334.8,1228.2 C1335.3,1228.5 1335.7,1228.9 1336.1,1229.4 C1336.4,1230.0 1336.7,1230.6 1336.9,1231.3 C1337.1,1232.0 1337.2,1232.8 1337.2,1233.5Z" fill="none" stroke="#333333" stroke-width="1.3"/>
<path d="M1374.3,1228.6 C1374.3,1229.9 1374.1,1231.4 1373.6,1232.6 C1373.2,1233.9 1372.5,1235.1 1371.7,1236.0 C1370.9,1237.0 1369.8,1237.8 1368.7,1238.3 C1367.7,1238.8 1366.4,1239.1 1365.3,1239.1 C1364.2,1239.1 1362.9,1238.8 1361.9,1238.3 C1360.8,1237.8 1359.7,1237.0 1358.9,1236.0 C1358.1,1235.1 1357.4,1233.9 1357.0,1232.6 C1356.5,1231.4 1356.3,1229.9 1356.3,1228.6 C1356.3,1227.3 1356.5,1225.8 1357.0,1224.6 C1357.4,1223.3 1358.1,1222.1 1358.9,1221.2 C1359.7,1220.2 1360.8,1219.4 1361.9,1218.9 C1362.9,1218.4 1364.2,1218.1 1365.3,1218.1 C1366.4,1218.1 1367.7,1218.4 1368.7,1218.9 C1369.8,1219.4 1370.9,1220.2 1371.7,1221.2 C1372.5,1222.1 1373.2,1223.3 1373.6,1224.6 C1374.1,1225.8 1374.3,1227.3 1374.3,1228.6Z" fill="none" stroke="#333333" stroke-width="1.3"/><path d="M1371.6,1228.6 C1371.6,1229.5 1371.4,1230.5 1371.1,1231.4 C1370.8,1232.3 1370.3,1233.1 1369.8,1233.8 C1369.2,1234.5 1368.5,1235.0 1367.7,1235.4 C1367.0,1235.7 1366.1,1235.9 1365.3,1235.9 C1364.5,1235.9 1363.6,1235.7 1362.9,1235.4 C1362.1,1235.0 1361.4,1234.5 1360.8,1233.8 C1360.3,1233.1 1359.8,1232.3 1359.5,1231.4 C1359.2,1230.5 1359.0,1229.5 1359.0,1228.6 C1359.0,1227.7 1359.2,1226.7 1359.5,1225.8 C1359.8,1224.9 1360.3,1224.1 1360.8,1223.4 C1361.4,1222.7 1362.1,1222.2 1362.9,1221.8 C1363.6,1221.5 1364.5,1221.2 1365.3,1221.2 C1366.1,1221.2 1367.0,1221.5 1367.7,1221.8 C1368.5,1222.2 1369.2,1222.7 1369.8,1223.4 C1370.3,1224.1 1370.8,1224.9 1371.1,1225.8 C1371.4,1226.7 1371.6,1227.7 1371.6,1228.6Z" fill="none" stroke="#333333" stroke-width="1.3"/><path d="M1369.3,1228.6 C1369.3,1229.2 1369.2,1229.9 1369.0,1230.4 C1368.8,1231.0 1368.5,1231.5 1368.2,1231.9 C1367.8,1232.4 1367.3,1232.7 1366.8,1233.0 C1366.4,1233.2 1365.8,1233.3 1365.3,1233.3 C1364.8,1233.3 1364.2,1233.2 1363.8,1233.0 C1363.3,1232.7 1362.8,1232.4 1362.4,1231.9 C1362.1,1231.5 1361.8,1231.0 1361.6,1230.4 C1361.4,1229.9 1361.2,1229.2 1361.2,1228.6 C1361.2,1228.0 1361.4,1227.3 1361.6,1226.8 C1361.8,1226.2 1362.1,1225.7 1362.4,1225.3 C1362.8,1224.8 1363.3,1224.5 1363.8,1224.2 C1364.2,1224.0 1364.8,1223.9 1365.3,1223.9 C1365.8,1223.9 1366.4,1224.0 1366.8,1224.2 C1367.3,1224.5 1367.8,1224.8 1368.2,1225.3 C1368.5,1225.7 1368.8,1226.2 1369.0,1226.8 C1369.2,1227.3 1369.3,1228.0 1369.3,1228.6Z" fill="none" stroke="#333333" stroke-width="1.3"/>
<path d="M1433.5,1236.0 C1433.2,1232.0 1434.9,1226.0 1436.0,1222.0 C1437.1,1218.0 1438.9,1214.1 1440.0,1212.0 C1441.1,1209.9 1441.5,1209.2 1442.5,1209.5 C1443.5,1209.8 1444.8,1211.2 1446.0,1214.0 C1447.2,1216.8 1449.2,1221.7 1450.0,1226.0 C1450.8,1230.3 1451.7,1236.5 1451.0,1240.0 C1450.3,1243.5 1448.2,1246.0 1446.0,1247.0 C1443.8,1248.0 1440.1,1247.8 1438.0,1246.0 C1435.9,1244.2 1433.8,1240.0 1433.5,1236.0Z" fill="#333"/>
<path d="M1433.5,1236.0 C1433.2,1232.0 1434.9,1226.0 1436.0,1222.0 C1437.1,1218.0 1438.9,1214.1 1440.0,1212.0 C1441.1,1209.9 1441.5,1209.2 1442.5,1209.5 C1443.5,1209.8 1444.8,1211.2 1446.0,1214.0 C1447.2,1216.8 1449.2,1221.7 1450.0,1226.0 C1450.8,1230.3 1451.7,1236.5 1451.0,1240.0 C1450.3,1243.5 1448.2,1246.0 1446.0,1247.0 C1443.8,1248.0 1440.1,1247.8 1438.0,1246.0 C1435.9,1244.2 1433.8,1240.0 1433.5,1236.0Z" fill="none" stroke="#fff" stroke-width="1.3"/><path d="M1436.1,1235.4 C1435.9,1232.6 1437.1,1228.4 1437.9,1225.6 C1438.6,1222.8 1439.9,1220.1 1440.7,1218.6 C1441.4,1217.1 1441.7,1216.6 1442.4,1216.8 C1443.1,1217.1 1444.0,1218.1 1444.9,1220.0 C1445.8,1221.9 1447.1,1225.4 1447.7,1228.4 C1448.3,1231.4 1448.9,1235.8 1448.4,1238.2 C1447.9,1240.7 1446.4,1242.4 1444.9,1243.1 C1443.4,1243.8 1440.7,1243.7 1439.3,1242.4 C1437.8,1241.1 1436.4,1238.2 1436.1,1235.4Z" fill="none" stroke="#fff" stroke-width="1.3"/><path d="M1437.9,1235.0 C1437.7,1233.0 1438.6,1230.0 1439.2,1228.0 C1439.7,1226.0 1440.6,1224.0 1441.2,1223.0 C1441.7,1222.0 1441.9,1221.6 1442.4,1221.8 C1442.9,1221.9 1443.5,1222.6 1444.2,1224.0 C1444.8,1225.4 1445.7,1227.8 1446.2,1230.0 C1446.6,1232.2 1447.0,1235.2 1446.7,1237.0 C1446.3,1238.8 1445.2,1240.0 1444.2,1240.5 C1443.1,1241.0 1441.2,1240.9 1440.2,1240.0 C1439.1,1239.1 1438.1,1237.0 1437.9,1235.0Z" fill="none" stroke="#fff" stroke-width="1.3"/><path d="M1439.7,1234.6 C1439.6,1233.4 1440.1,1231.6 1440.4,1230.4 C1440.7,1229.2 1441.3,1228.0 1441.6,1227.4 C1441.9,1226.8 1442.1,1226.6 1442.4,1226.7 C1442.7,1226.8 1443.0,1227.2 1443.4,1228.0 C1443.8,1228.8 1444.4,1230.3 1444.6,1231.6 C1444.9,1232.9 1445.1,1234.8 1444.9,1235.8 C1444.7,1236.8 1444.1,1237.6 1443.4,1237.9 C1442.8,1238.2 1441.6,1238.1 1441.0,1237.6 C1440.4,1237.0 1439.8,1235.8 1439.7,1234.6Z" fill="none" stroke="#fff" stroke-width="1.3"/>
<circle cx="767.6" cy="1094.4" r="1.1" fill="#333"/>
<circle cx="155.7" cy="1236.7" r="4.6" fill="#E23530"/>
<circle cx="719.4" cy="1236.9" r="4.6" fill="#E23530"/>
<circle cx="962.1" cy="946.2" r="4.6" fill="#E23530"/>
<circle cx="1047.1" cy="945.5" r="4.6" fill="#E23530"/>
<circle cx="1079.4" cy="949.4" r="4.6" fill="#E23530"/>
<circle cx="960.3" cy="1234.4" r="4.6" fill="#E23530"/>
<circle cx="1064.4" cy="1168.4" r="4.6" fill="#E23530"/>
<circle cx="1128.2" cy="1164.1" r="4.6" fill="#E23530"/>
<circle cx="1072.9" cy="1232.2" r="4.6" fill="#E23530"/>
<circle cx="1354.4" cy="1166.1" r="4.6" fill="#E23530"/>
<circle cx="1402.1" cy="1159.0" r="4.6" fill="#E23530"/>
<circle cx="1454.9" cy="1168.1" r="4.6" fill="#E23530"/>
<circle cx="1473.1" cy="1164.1" r="4.6" fill="#E23530"/>
<circle cx="1224.9" cy="1231.1" r="4.6" fill="#E23530"/>
<circle cx="1311.4" cy="1238.2" r="4.6" fill="#E23530"/>
<circle cx="1333.7" cy="1232.7" r="4.6" fill="#E23530"/>
<circle cx="1364.5" cy="1228.6" r="4.6" fill="#E23530"/>
<circle cx="1442.3" cy="1233.1" r="4.6" fill="#E23530"/>
<circle cx="326.2" cy="897.8" r="4.6" fill="#fff" stroke="#111" stroke-width="1.3"/><path d="M323.3,894.9L329.1,900.7M323.3,900.7L329.1,894.9" stroke="#111" stroke-width="1.6"/>
<circle cx="470.8" cy="897.8" r="4.6" fill="#fff" stroke="#111" stroke-width="1.3"/><path d="M467.9,894.9L473.7,900.7M467.9,900.7L473.7,894.9" stroke="#111" stroke-width="1.6"/>
<circle cx="633.4" cy="898.2" r="4.6" fill="#fff" stroke="#111" stroke-width="1.3"/><path d="M630.5,895.3L636.3,901.1M630.5,901.1L636.3,895.3" stroke="#111" stroke-width="1.6"/>
<circle cx="679.5" cy="903.6" r="4.6" fill="#fff" stroke="#111" stroke-width="1.3"/><path d="M676.6,900.7L682.4,906.5M676.6,906.5L682.4,900.7" stroke="#111" stroke-width="1.6"/>
<circle cx="773.5" cy="898.2" r="4.6" fill="#fff" stroke="#111" stroke-width="1.3"/><path d="M770.6,895.3L776.4,901.1M770.6,901.1L776.4,895.3" stroke="#111" stroke-width="1.6"/>
<circle cx="469.0" cy="945.7" r="4.6" fill="#fff" stroke="#111" stroke-width="1.3"/><path d="M466.1,942.8L471.9,948.6M466.1,948.6L471.9,942.8" stroke="#111" stroke-width="1.6"/>
<circle cx="648.2" cy="948.5" r="4.6" fill="#fff" stroke="#111" stroke-width="1.3"/><path d="M645.3,945.6L651.1,951.4M645.3,951.4L651.1,945.6" stroke="#111" stroke-width="1.6"/>
<circle cx="683.1" cy="944.8" r="4.6" fill="#fff" stroke="#111" stroke-width="1.3"/><path d="M680.2,941.9L686.0,947.7M680.2,947.7L686.0,941.9" stroke="#111" stroke-width="1.6"/>
<circle cx="773.5" cy="946.1" r="4.6" fill="#fff" stroke="#111" stroke-width="1.3"/><path d="M770.6,943.2L776.4,949.0M770.6,949.0L776.4,943.2" stroke="#111" stroke-width="1.6"/>
<circle cx="421.5" cy="1169.4" r="4.6" fill="#fff" stroke="#111" stroke-width="1.3"/><path d="M418.6,1166.5L424.4,1172.3M418.6,1172.3L424.4,1166.5" stroke="#111" stroke-width="1.6"/>
<circle cx="517.4" cy="1154.9" r="4.6" fill="#fff" stroke="#111" stroke-width="1.3"/><path d="M514.5,1152.0L520.3,1157.8M514.5,1157.8L520.3,1152.0" stroke="#111" stroke-width="1.6"/>
<circle cx="601.0" cy="1164.1" r="4.6" fill="#fff" stroke="#111" stroke-width="1.3"/><path d="M598.1,1161.2L603.9,1167.0M598.1,1167.0L603.9,1161.2" stroke="#111" stroke-width="1.6"/>
<circle cx="648.1" cy="1165.9" r="4.6" fill="#fff" stroke="#111" stroke-width="1.3"/><path d="M645.2,1163.0L651.0,1168.8M645.2,1168.8L651.0,1163.0" stroke="#111" stroke-width="1.6"/>
<circle cx="758.0" cy="1163.6" r="4.6" fill="#fff" stroke="#111" stroke-width="1.3"/><path d="M755.1,1160.7L760.9,1166.5M755.1,1166.5L760.9,1160.7" stroke="#111" stroke-width="1.6"/>
<circle cx="507.5" cy="1231.3" r="4.6" fill="#fff" stroke="#111" stroke-width="1.3"/><path d="M504.6,1228.4L510.4,1234.2M504.6,1234.2L510.4,1228.4" stroke="#111" stroke-width="1.6"/>
<circle cx="644.6" cy="1233.9" r="4.6" fill="#fff" stroke="#111" stroke-width="1.3"/><path d="M641.7,1231.0L647.5,1236.8M641.7,1236.8L647.5,1231.0" stroke="#111" stroke-width="1.6"/>
<circle cx="686.9" cy="1227.9" r="4.6" fill="#fff" stroke="#111" stroke-width="1.3"/><path d="M684.0,1225.0L689.8,1230.8M684.0,1230.8L689.8,1225.0" stroke="#111" stroke-width="1.6"/>
<path d="M208.0,898.30L216.4,898.30M234.1,898.30L252.1,898.30M269.8,898.30L287.8,898.30M305.4,898.30L323.4,898.30M341.0,898.30L359.0,898.30M376.7,898.30L394.7,898.30M412.3,898.30L430.3,898.30M448.0,898.30L466.0,898.30M483.6,898.30L501.6,898.30M519.3,898.30L537.3,898.30M554.9,898.30L572.9,898.30M590.6,898.30L608.6,898.30M626.2,898.30L644.2,898.30M661.9,898.30L679.9,898.30M697.5,898.30L715.5,898.30M733.2,898.30L751.2,898.30M768.8,898.30L786.8,898.30M804.5,898.30L822.5,898.30M840.1,898.30L858.1,898.30M875.8,898.30L893.8,898.30M911.4,898.30L929.4,898.30M947.1,898.30L965.1,898.30M982.7,898.30L1000.7,898.30M1018.4,898.30L1036.4,898.30M1054.0,898.30L1072.0,898.30M1089.7,898.30L1107.7,898.30M1125.3,898.30L1143.3,898.30M1161.0,898.30L1179.0,898.30M1196.6,898.30L1214.6,898.30M1232.3,898.30L1241.5,898.30" stroke="#3451A8" stroke-width="3.2" fill="none"/>
<path d="M208.0,944.80L216.4,944.80M234.1,944.80L252.1,944.80M269.8,944.80L287.8,944.80M305.4,944.80L323.4,944.80M341.0,944.80L359.0,944.80M376.7,944.80L394.7,944.80M412.3,944.80L430.3,944.80M448.0,944.80L466.0,944.80M483.6,944.80L501.6,944.80M519.3,944.80L537.3,944.80M554.9,944.80L572.9,944.80M590.6,944.80L608.6,944.80M626.2,944.80L644.2,944.80M661.9,944.80L679.9,944.80M697.5,944.80L715.5,944.80M733.2,944.80L751.2,944.80M768.8,944.80L786.8,944.80M804.5,944.80L822.5,944.80M840.1,944.80L858.1,944.80M875.8,944.80L893.8,944.80M911.4,944.80L929.4,944.80M947.1,944.80L965.1,944.80M982.7,944.80L1000.7,944.80M1018.4,944.80L1036.4,944.80M1054.0,944.80L1072.0,944.80M1089.7,944.80L1107.7,944.80M1125.3,944.80L1143.3,944.80M1161.0,944.80L1179.0,944.80M1196.6,944.80L1214.6,944.80M1232.3,944.80L1241.5,944.80" stroke="#3451A8" stroke-width="3.2" fill="none"/>
<path d="M211.0,1163.70L216.3,1163.70M234.0,1163.70L252.0,1163.70M269.7,1163.70L287.7,1163.70M305.4,1163.70L323.4,1163.70M341.0,1163.70L359.0,1163.70M376.7,1163.70L394.7,1163.70M412.4,1163.70L430.4,1163.70M448.1,1163.70L466.1,1163.70M483.8,1163.70L501.8,1163.70M519.4,1163.70L537.4,1163.70M555.1,1163.70L573.1,1163.70M590.8,1163.70L608.8,1163.70M626.5,1163.70L644.5,1163.70M662.2,1163.70L680.2,1163.70M697.8,1163.70L715.8,1163.70M733.5,1163.70L751.5,1163.70M769.2,1163.70L787.2,1163.70M804.9,1163.70L822.9,1163.70M840.6,1163.70L858.6,1163.70M876.2,1163.70L894.2,1163.70M911.9,1163.70L929.9,1163.70M947.6,1163.70L965.6,1163.70M983.3,1163.70L1001.3,1163.70M1019.0,1163.70L1037.0,1163.70M1054.6,1163.70L1072.6,1163.70M1090.3,1163.70L1108.3,1163.70M1126.0,1163.70L1144.0,1163.70M1161.7,1163.70L1179.7,1163.70M1197.4,1163.70L1215.4,1163.70M1233.0,1163.70L1251.0,1163.70M1268.7,1163.70L1286.7,1163.70M1304.4,1163.70L1322.4,1163.70M1340.1,1163.70L1358.1,1163.70M1375.8,1163.70L1393.8,1163.70M1411.4,1163.70L1429.4,1163.70M1447.1,1163.70L1465.1,1163.70M1482.8,1163.70L1491.0,1163.70" stroke="#3451A8" stroke-width="3.2" fill="none"/>
<path d="M92.0,1239.35L101.1,1239.31M119.0,1239.24L137.0,1239.17M154.9,1239.10L172.9,1239.03M190.8,1238.97L208.8,1238.90M226.7,1238.83L244.7,1238.76M262.6,1238.69L280.6,1238.62M298.5,1238.55L316.5,1238.48M334.4,1238.41L352.4,1238.34M370.3,1238.27L388.3,1238.21M406.2,1238.14L424.2,1238.07M442.1,1238.00L460.1,1237.93M478.0,1237.86L496.0,1237.79M513.9,1237.72L531.9,1237.65M549.8,1237.58L567.8,1237.51M585.7,1237.45L603.7,1237.38M621.6,1237.31L639.6,1237.24M657.5,1237.17L675.5,1237.10M693.4,1237.03L711.4,1236.96M729.3,1236.89L747.3,1236.82M765.2,1236.75L783.2,1236.68M801.1,1236.62L819.1,1236.55M837.0,1236.48L855.0,1236.41M872.9,1236.34L890.9,1236.27M908.8,1236.20L926.8,1236.13M944.7,1236.06L962.7,1235.99M980.6,1235.92L998.6,1235.86M1016.5,1235.79L1034.5,1235.72M1052.4,1235.65L1070.4,1235.58M1088.3,1235.51L1106.3,1235.44M1124.2,1235.37L1142.2,1235.30M1160.1,1235.23L1178.1,1235.16M1196.0,1235.10L1214.0,1235.03M1231.9,1234.96L1249.9,1234.89M1267.8,1234.82L1285.8,1234.75M1303.7,1234.68L1321.7,1234.61M1339.6,1234.54L1357.6,1234.47M1375.5,1234.40L1393.5,1234.34M1411.4,1234.27L1429.4,1234.20M1447.3,1234.13L1465.3,1234.06M1483.2,1233.99L1491.0,1233.96" stroke="#3451A8" stroke-width="3.2" fill="none"/>
<path d="M1014.1,813.5V822.1M1014.1,841.1V859.3M1014.1,878.3V896.5M1014.1,915.5V933.7M1014.1,952.7V970.9M1014.1,989.9V1008.1M1014.1,1027.1V1045.3M1014.1,1064.3V1082.5M1014.1,1101.5V1119.7M1014.1,1138.7V1156.9M1014.1,1175.9V1194.1M1014.1,1213.1V1231.3M1014.1,1250.3V1268.5M1014.1,1287.5V1295.0" stroke="#8C3FC2" stroke-width="3.2" fill="none"/>
<path d="M1176.5,813.5V822.1M1176.5,841.1V859.3M1176.5,878.3V896.5M1176.5,915.5V933.7M1176.5,952.7V970.9M1176.5,989.9V1008.1M1176.5,1027.1V1045.3M1176.5,1064.3V1082.5M1176.5,1101.5V1119.7M1176.5,1138.7V1156.9M1176.5,1175.9V1194.1M1176.5,1213.1V1231.3M1176.5,1250.3V1268.5M1176.5,1287.5V1295.0" stroke="#8C3FC2" stroke-width="3.2" fill="none"/>
<polygon points="321.8,870.7 325.2,870.5 325.7,892.2 324.3,892.4" fill="#111"/>
<polygon points="476.6,858.8 477.8,859.0 472.3,892.4 471.1,892.2" fill="#111"/>
<polygon points="628.5,864.9 631.7,864.5 633.6,894.5 632.4,894.7" fill="#111"/>
<polygon points="680.5,877.2 683.9,877.6 680.6,897.4 679.4,897.2" fill="#111"/>
<polygon points="772.9,858.4 776.1,858.4 774.1,894.6 772.9,894.6" fill="#111"/>
<polygon points="467.4,953.6 468.6,954.0 463.3,974.8 462.1,974.4" fill="#111"/>
<polygon points="645.6,952.0 646.6,952.8 631.2,976.4 630.2,975.6" fill="#111"/>
<polygon points="683.4,949.0 684.6,948.6 692.8,971.2 691.6,971.6" fill="#111"/>
<polygon points="774.0,949.0 775.0,948.6 786.4,976.1 782.4,977.5" fill="#111"/>
<polygon points="419.3,1146.5 422.7,1146.3 422.5,1162.2 421.1,1162.2" fill="#111"/>
<polygon points="516.2,1132.3 519.6,1132.5 518.1,1148.5 516.7,1148.5" fill="#111"/>
<polygon points="601.7,1120.3 605.1,1120.5 601.6,1156.5 600.4,1156.5" fill="#111"/>
<polygon points="649.7,1137.7 653.1,1138.1 648.7,1162.2 647.5,1162.0" fill="#111"/>
<polygon points="758.5,1140.4 761.9,1140.8 758.6,1159.2 757.4,1159.0" fill="#111"/>
<polygon points="506.4,1199.1 509.9,1199.1 508.8,1224.8 507.5,1224.8" fill="#111"/>
<polygon points="644.0,1212.6 647.4,1212.8 645.6,1230.1 644.4,1230.1" fill="#111"/>
<polygon points="686.0,1205.2 689.4,1205.2 688.0,1223.3 686.8,1223.3" fill="#111"/>
<text x="298" y="864.3" font-family="Liberation Sans" font-size="26" fill="#111" text-anchor="start" >K209</text>
<text x="475.5" y="849.8" font-family="Liberation Sans" font-size="26" fill="#111" text-anchor="start" >T210</text>
<text x="599.5" y="864.7" font-family="Liberation Sans" font-size="26" fill="#111" text-anchor="start" >G208</text>
<text x="664" y="873.8" font-family="Liberation Sans" font-size="26" fill="#111" text-anchor="start" >S211</text>
<text x="757" y="857.5" font-family="Liberation Sans" font-size="26" fill="#111" text-anchor="start" >K209*</text>
<text x="416" y="995.8" font-family="Liberation Sans" font-size="26" fill="#111" text-anchor="start" >T210</text>
<text x="616.5" y="998.5" font-family="Liberation Sans" font-size="26" fill="#111" text-anchor="start" >R?*</text>
<text x="693" y="994" font-family="Liberation Sans" font-size="26" fill="#111" text-anchor="start" >S211</text>
<text x="781" y="1006.7" font-family="Liberation Sans" font-size="26" fill="#111" text-anchor="start" >K209*</text>
<text x="392.5" y="1144.5" font-family="Liberation Sans" font-size="26" fill="#111" text-anchor="start" >D374</text>
<text x="484.5" y="1120" font-family="Liberation Sans" font-size="26" fill="#111" text-anchor="start" >G376</text>
<text x="573" y="1111.5" font-family="Liberation Sans" font-size="26" fill="#111" text-anchor="start" >K373</text>
<text x="641" y="1131.1" font-family="Liberation Sans" font-size="26" fill="#111" text-anchor="start" >D371</text>
<text x="739" y="1131.1" font-family="Liberation Sans" font-size="26" fill="#111" text-anchor="start" font-style="italic" >S375</text>
<text x="484.5" y="1190.3" font-family="Liberation Sans" font-size="26" fill="#111" text-anchor="start" >G376</text>
<text x="617" y="1206" font-family="Liberation Sans" font-size="26" fill="#111" text-anchor="start" font-style="italic" >D371</text>
<text x="676" y="1198.4" font-family="Liberation Sans" font-size="26" fill="#111" text-anchor="start" font-style="italic" >K373*</text>
<text x="949" y="996.5" font-family="Liberation Sans" font-size="25.5" fill="#1FA51F" text-anchor="start" font-style="italic" >H28/29/33/34</text>
<text x="707" y="1289.8" font-family="Liberation Sans" font-size="27" fill="#3451A8" text-anchor="start" font-style="italic" >H6</text>
<text x="152" y="1197.7" font-family="Liberation Sans" font-size="27" fill="#3451A8" text-anchor="start" font-style="italic" >H3</text>
<text x="941.5" y="1189.6" font-family="Liberation Sans" font-size="26" fill="#E23530" text-anchor="start" font-style="italic" >H1‘</text>
<text x="1035" y="1289.7" font-family="Liberation Sans" font-size="26" fill="#E23530" text-anchor="start" font-style="italic" >H3‘/H4‘/H5‘</text>
<text x="1211" y="1282.8" font-family="Liberation Sans" font-size="26" fill="#E23530" text-anchor="start" font-style="italic" >H2‘</text>
<text x="1291" y="1282.8" font-family="Liberation Sans" font-size="26" fill="#E23530" text-anchor="start" font-style="italic" >H2“</text>
<text x="1364.5" y="1282.8" font-family="Liberation Sans" font-size="26" fill="#E23530" text-anchor="start" font-style="italic" >H71/72/73</text>
<text x="94.78" y="907.00" font-family="Liberation Sans" font-size="29.50" fill="#3451A8" >P</text>
<text transform="translate(113.48,907.34) scale(1.160,1)" font-family="Liberation Serif" font-size="27.04" fill="#3451A8" >β</text>
<text x="129.43" y="907.00" font-family="Liberation Sans" font-size="28.60" fill="#3451A8" >(ADP)-</text>
<text x="94.78" y="956.60" font-family="Liberation Sans" font-size="29.50" fill="#3451A8" >P</text>
<text transform="translate(113.82,957.23) scale(1.201,1)" font-family="Liberation Serif" font-size="28.04" fill="#3451A8" >α</text>
<text x="131.63" y="956.60" font-family="Liberation Sans" font-size="28.60" fill="#3451A8" >(ADP)-</text>
<text x="100.6" y="1171" font-family="Liberation Sans" font-size="28" fill="#3451A8" text-anchor="start" >P1(DNA)</text>
<text x="114.2" y="1280.6" font-family="Liberation Sans" font-size="28" fill="#3451A8" text-anchor="start" >P2(DNA)</text>
<text x="96" y="846.9" font-family="Liberation Sans" font-size="36" fill="#111" text-anchor="start" >hPH</text>
<rect x="91.6" y="813.4" width="186.2" height="481.8" fill="none" stroke="#111" stroke-width="1.8"/>
<rect x="285" y="813.6" width="1206.2" height="481.8" fill="none" stroke="#111" stroke-width="1.8"/>
<line x1="80" y1="856.6" x2="91.6" y2="856.6" stroke="#111" stroke-width="1.8"/>
<text x="60" y="869.2" font-family="Liberation Sans" font-size="37" fill="#111" text-anchor="middle" >-8</text>
<line x1="80" y1="900.5" x2="91.6" y2="900.5" stroke="#111" stroke-width="1.8"/>
<line x1="80" y1="944.3" x2="91.6" y2="944.3" stroke="#111" stroke-width="1.8"/>
<text x="60" y="956.9" font-family="Liberation Sans" font-size="37" fill="#111" text-anchor="middle" >-6</text>
<line x1="80" y1="988.2" x2="91.6" y2="988.2" stroke="#111" stroke-width="1.8"/>
<line x1="80" y1="1032.0" x2="91.6" y2="1032.0" stroke="#111" stroke-width="1.8"/>
<text x="60" y="1044.6" font-family="Liberation Sans" font-size="37" fill="#111" text-anchor="middle" >-4</text>
<line x1="80" y1="1075.9" x2="91.6" y2="1075.9" stroke="#111" stroke-width="1.8"/>
<line x1="80" y1="1119.7" x2="91.6" y2="1119.7" stroke="#111" stroke-width="1.8"/>
<text x="60" y="1132.3" font-family="Liberation Sans" font-size="37" fill="#111" text-anchor="middle" >-2</text>
<line x1="80" y1="1163.6" x2="91.6" y2="1163.6" stroke="#111" stroke-width="1.8"/>
<line x1="80" y1="1207.4" x2="91.6" y2="1207.4" stroke="#111" stroke-width="1.8"/>
<text x="59.5" y="1220.0" font-family="Liberation Sans" font-size="37" fill="#111" text-anchor="middle" >0</text>
<line x1="80" y1="1251.2" x2="91.6" y2="1251.2" stroke="#111" stroke-width="1.8"/>
<line x1="146" y1="1295" x2="146" y2="1303.8" stroke="#111" stroke-width="1.8"/>
<text x="146" y="1336.2" font-family="Liberation Sans" font-size="36" fill="#111" text-anchor="middle" >14</text>
<line x1="255.5" y1="1295" x2="255.5" y2="1303.8" stroke="#111" stroke-width="1.8"/>
<text x="255.5" y="1336.2" font-family="Liberation Sans" font-size="36" fill="#111" text-anchor="middle" >13</text>
<line x1="328.2" y1="1295" x2="328.2" y2="1303.8" stroke="#111" stroke-width="1.8"/>
<text x="328.2" y="1336.2" font-family="Liberation Sans" font-size="36" fill="#111" text-anchor="middle" >11</text>
<line x1="437.7" y1="1295" x2="437.7" y2="1303.8" stroke="#111" stroke-width="1.8"/>
<text x="437.7" y="1336.2" font-family="Liberation Sans" font-size="36" fill="#111" text-anchor="middle" >10</text>
<line x1="547.1" y1="1295" x2="547.1" y2="1303.8" stroke="#111" stroke-width="1.8"/>
<text x="547.1" y="1336.2" font-family="Liberation Sans" font-size="36" fill="#111" text-anchor="middle" >9</text>
<line x1="656.6" y1="1295" x2="656.6" y2="1303.8" stroke="#111" stroke-width="1.8"/>
<text x="656.6" y="1336.2" font-family="Liberation Sans" font-size="36" fill="#111" text-anchor="middle" >8</text>
<line x1="766.0" y1="1295" x2="766.0" y2="1303.8" stroke="#111" stroke-width="1.8"/>
<text x="766.0" y="1336.2" font-family="Liberation Sans" font-size="36" fill="#111" text-anchor="middle" >7</text>
<line x1="875.5" y1="1295" x2="875.5" y2="1303.8" stroke="#111" stroke-width="1.8"/>
<text x="875.5" y="1336.2" font-family="Liberation Sans" font-size="36" fill="#111" text-anchor="middle" >6</text>
<line x1="985.0" y1="1295" x2="985.0" y2="1303.8" stroke="#111" stroke-width="1.8"/>
<text x="985.0" y="1336.2" font-family="Liberation Sans" font-size="36" fill="#111" text-anchor="middle" >5</text>
<line x1="1094.4" y1="1295" x2="1094.4" y2="1303.8" stroke="#111" stroke-width="1.8"/>
<text x="1094.4" y="1336.2" font-family="Liberation Sans" font-size="36" fill="#111" text-anchor="middle" >4</text>
<line x1="1203.9" y1="1295" x2="1203.9" y2="1303.8" stroke="#111" stroke-width="1.8"/>
<text x="1203.9" y="1336.2" font-family="Liberation Sans" font-size="36" fill="#111" text-anchor="middle" >3</text>
<line x1="1313.3" y1="1295" x2="1313.3" y2="1303.8" stroke="#111" stroke-width="1.8"/>
<text x="1313.3" y="1336.2" font-family="Liberation Sans" font-size="36" fill="#111" text-anchor="middle" >2</text>
<line x1="1422.8" y1="1295" x2="1422.8" y2="1303.8" stroke="#111" stroke-width="1.8"/>
<text x="1422.8" y="1336.2" font-family="Liberation Sans" font-size="36" fill="#111" text-anchor="middle" >1</text>
<text x="792" y="1376.5" font-family="Liberation Sans" font-size="36"><tspan font-family="Liberation Serif" font-style="italic" font-size="40">δ</tspan><tspan font-size="22" dy="10">2</tspan><tspan dy="-10">(</tspan><tspan font-size="22" dy="-13">1</tspan><tspan dy="13">H)/ ppm</tspan></text>
<text transform="translate(27,1144) rotate(-90)" font-family="Liberation Sans" font-size="36"><tspan font-family="Liberation Serif" font-style="italic" font-size="40">δ</tspan><tspan font-size="22" dy="10">1</tspan><tspan dy="-10">(</tspan><tspan font-size="22" dy="-13">31</tspan><tspan dy="13">P)/ ppm</tspan></text>
</svg></body></html>
